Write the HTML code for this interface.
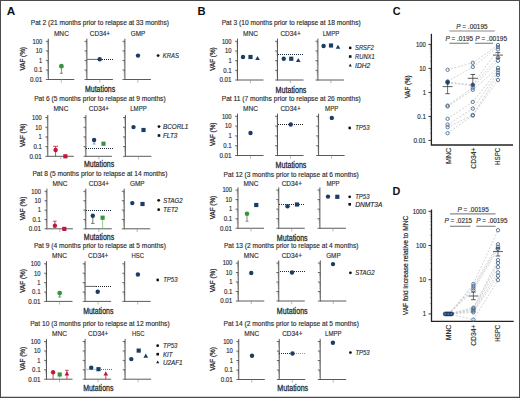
<!DOCTYPE html>
<html><head><meta charset="utf-8"><style>
html,body{margin:0;padding:0;background:#fff;}
svg{display:block;}
text{font-family:"Liberation Sans",sans-serif;}
</style></head><body>
<svg width="520" height="398" viewBox="0 0 520 398">
<rect width="520" height="398" fill="#fff"/>
<rect x="0.5" y="0.5" width="519" height="397" fill="none" stroke="#4a4a4a" stroke-width="1"/>
<line x1="0.00" y1="397.30" x2="520.00" y2="397.30" stroke="#4a4a4a" stroke-width="1.2"/>
<text x="6.80" y="15.20" font-size="10.8" fill="#111" textLength="8.5" lengthAdjust="spacingAndGlyphs" font-weight="bold">A</text>
<text x="197.40" y="15.20" font-size="10.8" fill="#111" textLength="8.1" lengthAdjust="spacingAndGlyphs" font-weight="bold">B</text>
<text x="392.80" y="15.20" font-size="10.8" fill="#111" textLength="7.8" lengthAdjust="spacingAndGlyphs" font-weight="bold">C</text>
<text x="392.40" y="194.80" font-size="10.8" fill="#111" textLength="7.8" lengthAdjust="spacingAndGlyphs" font-weight="bold">D</text>
<!-- Pat 2 (21 months prior to relapse at 33 months) -->
<text x="99.90" y="25.20" font-size="6.8" fill="#2b2b2b" text-anchor="middle" textLength="138.2" lengthAdjust="spacingAndGlyphs" stroke="#2b2b2b" stroke-width="0.14">Pat 2 (21 months prior to relapse at 33 months)</text>
<text x="61.40" y="35.80" font-size="7.0" fill="#2b2b2b" text-anchor="middle" textLength="15" lengthAdjust="spacingAndGlyphs" stroke="#2b2b2b" stroke-width="0.14">MNC</text>
<line x1="48.30" y1="38.70" x2="48.30" y2="80.00" stroke="#484848" stroke-width="0.9"/>
<line x1="48.30" y1="79.50" x2="74.30" y2="79.50" stroke="#484848" stroke-width="0.9"/>
<line x1="45.90" y1="41.30" x2="48.30" y2="41.30" stroke="#484848" stroke-width="0.8"/>
<line x1="45.90" y1="50.85" x2="48.30" y2="50.85" stroke="#484848" stroke-width="0.8"/>
<line x1="45.90" y1="60.40" x2="48.30" y2="60.40" stroke="#484848" stroke-width="0.8"/>
<line x1="45.90" y1="69.95" x2="48.30" y2="69.95" stroke="#484848" stroke-width="0.8"/>
<line x1="45.90" y1="79.50" x2="48.30" y2="79.50" stroke="#484848" stroke-width="0.8"/>
<line x1="47.10" y1="47.98" x2="48.30" y2="47.98" stroke="#484848" stroke-width="0.4" stroke-opacity="0.6"/>
<line x1="47.10" y1="46.29" x2="48.30" y2="46.29" stroke="#484848" stroke-width="0.4" stroke-opacity="0.6"/>
<line x1="47.10" y1="45.10" x2="48.30" y2="45.10" stroke="#484848" stroke-width="0.4" stroke-opacity="0.6"/>
<line x1="47.10" y1="44.17" x2="48.30" y2="44.17" stroke="#484848" stroke-width="0.4" stroke-opacity="0.6"/>
<line x1="47.10" y1="43.42" x2="48.30" y2="43.42" stroke="#484848" stroke-width="0.4" stroke-opacity="0.6"/>
<line x1="47.10" y1="42.78" x2="48.30" y2="42.78" stroke="#484848" stroke-width="0.4" stroke-opacity="0.6"/>
<line x1="47.10" y1="42.23" x2="48.30" y2="42.23" stroke="#484848" stroke-width="0.4" stroke-opacity="0.6"/>
<line x1="47.10" y1="41.74" x2="48.30" y2="41.74" stroke="#484848" stroke-width="0.4" stroke-opacity="0.6"/>
<line x1="47.10" y1="57.53" x2="48.30" y2="57.53" stroke="#484848" stroke-width="0.4" stroke-opacity="0.6"/>
<line x1="47.10" y1="55.84" x2="48.30" y2="55.84" stroke="#484848" stroke-width="0.4" stroke-opacity="0.6"/>
<line x1="47.10" y1="54.65" x2="48.30" y2="54.65" stroke="#484848" stroke-width="0.4" stroke-opacity="0.6"/>
<line x1="47.10" y1="53.72" x2="48.30" y2="53.72" stroke="#484848" stroke-width="0.4" stroke-opacity="0.6"/>
<line x1="47.10" y1="52.97" x2="48.30" y2="52.97" stroke="#484848" stroke-width="0.4" stroke-opacity="0.6"/>
<line x1="47.10" y1="52.33" x2="48.30" y2="52.33" stroke="#484848" stroke-width="0.4" stroke-opacity="0.6"/>
<line x1="47.10" y1="51.78" x2="48.30" y2="51.78" stroke="#484848" stroke-width="0.4" stroke-opacity="0.6"/>
<line x1="47.10" y1="51.29" x2="48.30" y2="51.29" stroke="#484848" stroke-width="0.4" stroke-opacity="0.6"/>
<line x1="47.10" y1="67.08" x2="48.30" y2="67.08" stroke="#484848" stroke-width="0.4" stroke-opacity="0.6"/>
<line x1="47.10" y1="65.39" x2="48.30" y2="65.39" stroke="#484848" stroke-width="0.4" stroke-opacity="0.6"/>
<line x1="47.10" y1="64.20" x2="48.30" y2="64.20" stroke="#484848" stroke-width="0.4" stroke-opacity="0.6"/>
<line x1="47.10" y1="63.27" x2="48.30" y2="63.27" stroke="#484848" stroke-width="0.4" stroke-opacity="0.6"/>
<line x1="47.10" y1="62.52" x2="48.30" y2="62.52" stroke="#484848" stroke-width="0.4" stroke-opacity="0.6"/>
<line x1="47.10" y1="61.88" x2="48.30" y2="61.88" stroke="#484848" stroke-width="0.4" stroke-opacity="0.6"/>
<line x1="47.10" y1="61.33" x2="48.30" y2="61.33" stroke="#484848" stroke-width="0.4" stroke-opacity="0.6"/>
<line x1="47.10" y1="60.84" x2="48.30" y2="60.84" stroke="#484848" stroke-width="0.4" stroke-opacity="0.6"/>
<line x1="47.10" y1="76.63" x2="48.30" y2="76.63" stroke="#484848" stroke-width="0.4" stroke-opacity="0.6"/>
<line x1="47.10" y1="74.94" x2="48.30" y2="74.94" stroke="#484848" stroke-width="0.4" stroke-opacity="0.6"/>
<line x1="47.10" y1="73.75" x2="48.30" y2="73.75" stroke="#484848" stroke-width="0.4" stroke-opacity="0.6"/>
<line x1="47.10" y1="72.82" x2="48.30" y2="72.82" stroke="#484848" stroke-width="0.4" stroke-opacity="0.6"/>
<line x1="47.10" y1="72.07" x2="48.30" y2="72.07" stroke="#484848" stroke-width="0.4" stroke-opacity="0.6"/>
<line x1="47.10" y1="71.43" x2="48.30" y2="71.43" stroke="#484848" stroke-width="0.4" stroke-opacity="0.6"/>
<line x1="47.10" y1="70.88" x2="48.30" y2="70.88" stroke="#484848" stroke-width="0.4" stroke-opacity="0.6"/>
<line x1="47.10" y1="70.39" x2="48.30" y2="70.39" stroke="#484848" stroke-width="0.4" stroke-opacity="0.6"/>
<line x1="61.30" y1="79.50" x2="61.30" y2="82.70" stroke="#8a8a8a" stroke-width="0.6"/>
<text x="100.00" y="35.80" font-size="7.0" fill="#2b2b2b" text-anchor="middle" textLength="20.3" lengthAdjust="spacingAndGlyphs" stroke="#2b2b2b" stroke-width="0.14">CD34+</text>
<line x1="86.90" y1="38.70" x2="86.90" y2="80.00" stroke="#484848" stroke-width="0.9"/>
<line x1="86.90" y1="79.50" x2="112.90" y2="79.50" stroke="#484848" stroke-width="0.9"/>
<line x1="84.50" y1="41.30" x2="86.90" y2="41.30" stroke="#484848" stroke-width="0.8"/>
<line x1="84.50" y1="50.85" x2="86.90" y2="50.85" stroke="#484848" stroke-width="0.8"/>
<line x1="84.50" y1="60.40" x2="86.90" y2="60.40" stroke="#484848" stroke-width="0.8"/>
<line x1="84.50" y1="69.95" x2="86.90" y2="69.95" stroke="#484848" stroke-width="0.8"/>
<line x1="84.50" y1="79.50" x2="86.90" y2="79.50" stroke="#484848" stroke-width="0.8"/>
<line x1="85.70" y1="47.98" x2="86.90" y2="47.98" stroke="#484848" stroke-width="0.4" stroke-opacity="0.6"/>
<line x1="85.70" y1="46.29" x2="86.90" y2="46.29" stroke="#484848" stroke-width="0.4" stroke-opacity="0.6"/>
<line x1="85.70" y1="45.10" x2="86.90" y2="45.10" stroke="#484848" stroke-width="0.4" stroke-opacity="0.6"/>
<line x1="85.70" y1="44.17" x2="86.90" y2="44.17" stroke="#484848" stroke-width="0.4" stroke-opacity="0.6"/>
<line x1="85.70" y1="43.42" x2="86.90" y2="43.42" stroke="#484848" stroke-width="0.4" stroke-opacity="0.6"/>
<line x1="85.70" y1="42.78" x2="86.90" y2="42.78" stroke="#484848" stroke-width="0.4" stroke-opacity="0.6"/>
<line x1="85.70" y1="42.23" x2="86.90" y2="42.23" stroke="#484848" stroke-width="0.4" stroke-opacity="0.6"/>
<line x1="85.70" y1="41.74" x2="86.90" y2="41.74" stroke="#484848" stroke-width="0.4" stroke-opacity="0.6"/>
<line x1="85.70" y1="57.53" x2="86.90" y2="57.53" stroke="#484848" stroke-width="0.4" stroke-opacity="0.6"/>
<line x1="85.70" y1="55.84" x2="86.90" y2="55.84" stroke="#484848" stroke-width="0.4" stroke-opacity="0.6"/>
<line x1="85.70" y1="54.65" x2="86.90" y2="54.65" stroke="#484848" stroke-width="0.4" stroke-opacity="0.6"/>
<line x1="85.70" y1="53.72" x2="86.90" y2="53.72" stroke="#484848" stroke-width="0.4" stroke-opacity="0.6"/>
<line x1="85.70" y1="52.97" x2="86.90" y2="52.97" stroke="#484848" stroke-width="0.4" stroke-opacity="0.6"/>
<line x1="85.70" y1="52.33" x2="86.90" y2="52.33" stroke="#484848" stroke-width="0.4" stroke-opacity="0.6"/>
<line x1="85.70" y1="51.78" x2="86.90" y2="51.78" stroke="#484848" stroke-width="0.4" stroke-opacity="0.6"/>
<line x1="85.70" y1="51.29" x2="86.90" y2="51.29" stroke="#484848" stroke-width="0.4" stroke-opacity="0.6"/>
<line x1="85.70" y1="67.08" x2="86.90" y2="67.08" stroke="#484848" stroke-width="0.4" stroke-opacity="0.6"/>
<line x1="85.70" y1="65.39" x2="86.90" y2="65.39" stroke="#484848" stroke-width="0.4" stroke-opacity="0.6"/>
<line x1="85.70" y1="64.20" x2="86.90" y2="64.20" stroke="#484848" stroke-width="0.4" stroke-opacity="0.6"/>
<line x1="85.70" y1="63.27" x2="86.90" y2="63.27" stroke="#484848" stroke-width="0.4" stroke-opacity="0.6"/>
<line x1="85.70" y1="62.52" x2="86.90" y2="62.52" stroke="#484848" stroke-width="0.4" stroke-opacity="0.6"/>
<line x1="85.70" y1="61.88" x2="86.90" y2="61.88" stroke="#484848" stroke-width="0.4" stroke-opacity="0.6"/>
<line x1="85.70" y1="61.33" x2="86.90" y2="61.33" stroke="#484848" stroke-width="0.4" stroke-opacity="0.6"/>
<line x1="85.70" y1="60.84" x2="86.90" y2="60.84" stroke="#484848" stroke-width="0.4" stroke-opacity="0.6"/>
<line x1="85.70" y1="76.63" x2="86.90" y2="76.63" stroke="#484848" stroke-width="0.4" stroke-opacity="0.6"/>
<line x1="85.70" y1="74.94" x2="86.90" y2="74.94" stroke="#484848" stroke-width="0.4" stroke-opacity="0.6"/>
<line x1="85.70" y1="73.75" x2="86.90" y2="73.75" stroke="#484848" stroke-width="0.4" stroke-opacity="0.6"/>
<line x1="85.70" y1="72.82" x2="86.90" y2="72.82" stroke="#484848" stroke-width="0.4" stroke-opacity="0.6"/>
<line x1="85.70" y1="72.07" x2="86.90" y2="72.07" stroke="#484848" stroke-width="0.4" stroke-opacity="0.6"/>
<line x1="85.70" y1="71.43" x2="86.90" y2="71.43" stroke="#484848" stroke-width="0.4" stroke-opacity="0.6"/>
<line x1="85.70" y1="70.88" x2="86.90" y2="70.88" stroke="#484848" stroke-width="0.4" stroke-opacity="0.6"/>
<line x1="85.70" y1="70.39" x2="86.90" y2="70.39" stroke="#484848" stroke-width="0.4" stroke-opacity="0.6"/>
<line x1="99.90" y1="79.50" x2="99.90" y2="82.70" stroke="#8a8a8a" stroke-width="0.6"/>
<text x="138.00" y="35.80" font-size="7.0" fill="#2b2b2b" text-anchor="middle" textLength="14.5" lengthAdjust="spacingAndGlyphs" stroke="#2b2b2b" stroke-width="0.14">GMP</text>
<line x1="124.90" y1="38.70" x2="124.90" y2="80.00" stroke="#484848" stroke-width="0.9"/>
<line x1="124.90" y1="79.50" x2="150.90" y2="79.50" stroke="#484848" stroke-width="0.9"/>
<line x1="122.50" y1="41.30" x2="124.90" y2="41.30" stroke="#484848" stroke-width="0.8"/>
<line x1="122.50" y1="50.85" x2="124.90" y2="50.85" stroke="#484848" stroke-width="0.8"/>
<line x1="122.50" y1="60.40" x2="124.90" y2="60.40" stroke="#484848" stroke-width="0.8"/>
<line x1="122.50" y1="69.95" x2="124.90" y2="69.95" stroke="#484848" stroke-width="0.8"/>
<line x1="122.50" y1="79.50" x2="124.90" y2="79.50" stroke="#484848" stroke-width="0.8"/>
<line x1="123.70" y1="47.98" x2="124.90" y2="47.98" stroke="#484848" stroke-width="0.4" stroke-opacity="0.6"/>
<line x1="123.70" y1="46.29" x2="124.90" y2="46.29" stroke="#484848" stroke-width="0.4" stroke-opacity="0.6"/>
<line x1="123.70" y1="45.10" x2="124.90" y2="45.10" stroke="#484848" stroke-width="0.4" stroke-opacity="0.6"/>
<line x1="123.70" y1="44.17" x2="124.90" y2="44.17" stroke="#484848" stroke-width="0.4" stroke-opacity="0.6"/>
<line x1="123.70" y1="43.42" x2="124.90" y2="43.42" stroke="#484848" stroke-width="0.4" stroke-opacity="0.6"/>
<line x1="123.70" y1="42.78" x2="124.90" y2="42.78" stroke="#484848" stroke-width="0.4" stroke-opacity="0.6"/>
<line x1="123.70" y1="42.23" x2="124.90" y2="42.23" stroke="#484848" stroke-width="0.4" stroke-opacity="0.6"/>
<line x1="123.70" y1="41.74" x2="124.90" y2="41.74" stroke="#484848" stroke-width="0.4" stroke-opacity="0.6"/>
<line x1="123.70" y1="57.53" x2="124.90" y2="57.53" stroke="#484848" stroke-width="0.4" stroke-opacity="0.6"/>
<line x1="123.70" y1="55.84" x2="124.90" y2="55.84" stroke="#484848" stroke-width="0.4" stroke-opacity="0.6"/>
<line x1="123.70" y1="54.65" x2="124.90" y2="54.65" stroke="#484848" stroke-width="0.4" stroke-opacity="0.6"/>
<line x1="123.70" y1="53.72" x2="124.90" y2="53.72" stroke="#484848" stroke-width="0.4" stroke-opacity="0.6"/>
<line x1="123.70" y1="52.97" x2="124.90" y2="52.97" stroke="#484848" stroke-width="0.4" stroke-opacity="0.6"/>
<line x1="123.70" y1="52.33" x2="124.90" y2="52.33" stroke="#484848" stroke-width="0.4" stroke-opacity="0.6"/>
<line x1="123.70" y1="51.78" x2="124.90" y2="51.78" stroke="#484848" stroke-width="0.4" stroke-opacity="0.6"/>
<line x1="123.70" y1="51.29" x2="124.90" y2="51.29" stroke="#484848" stroke-width="0.4" stroke-opacity="0.6"/>
<line x1="123.70" y1="67.08" x2="124.90" y2="67.08" stroke="#484848" stroke-width="0.4" stroke-opacity="0.6"/>
<line x1="123.70" y1="65.39" x2="124.90" y2="65.39" stroke="#484848" stroke-width="0.4" stroke-opacity="0.6"/>
<line x1="123.70" y1="64.20" x2="124.90" y2="64.20" stroke="#484848" stroke-width="0.4" stroke-opacity="0.6"/>
<line x1="123.70" y1="63.27" x2="124.90" y2="63.27" stroke="#484848" stroke-width="0.4" stroke-opacity="0.6"/>
<line x1="123.70" y1="62.52" x2="124.90" y2="62.52" stroke="#484848" stroke-width="0.4" stroke-opacity="0.6"/>
<line x1="123.70" y1="61.88" x2="124.90" y2="61.88" stroke="#484848" stroke-width="0.4" stroke-opacity="0.6"/>
<line x1="123.70" y1="61.33" x2="124.90" y2="61.33" stroke="#484848" stroke-width="0.4" stroke-opacity="0.6"/>
<line x1="123.70" y1="60.84" x2="124.90" y2="60.84" stroke="#484848" stroke-width="0.4" stroke-opacity="0.6"/>
<line x1="123.70" y1="76.63" x2="124.90" y2="76.63" stroke="#484848" stroke-width="0.4" stroke-opacity="0.6"/>
<line x1="123.70" y1="74.94" x2="124.90" y2="74.94" stroke="#484848" stroke-width="0.4" stroke-opacity="0.6"/>
<line x1="123.70" y1="73.75" x2="124.90" y2="73.75" stroke="#484848" stroke-width="0.4" stroke-opacity="0.6"/>
<line x1="123.70" y1="72.82" x2="124.90" y2="72.82" stroke="#484848" stroke-width="0.4" stroke-opacity="0.6"/>
<line x1="123.70" y1="72.07" x2="124.90" y2="72.07" stroke="#484848" stroke-width="0.4" stroke-opacity="0.6"/>
<line x1="123.70" y1="71.43" x2="124.90" y2="71.43" stroke="#484848" stroke-width="0.4" stroke-opacity="0.6"/>
<line x1="123.70" y1="70.88" x2="124.90" y2="70.88" stroke="#484848" stroke-width="0.4" stroke-opacity="0.6"/>
<line x1="123.70" y1="70.39" x2="124.90" y2="70.39" stroke="#484848" stroke-width="0.4" stroke-opacity="0.6"/>
<line x1="137.90" y1="79.50" x2="137.90" y2="82.70" stroke="#8a8a8a" stroke-width="0.6"/>
<text x="42.30" y="43.60" font-size="6.5" fill="#2b2b2b" text-anchor="end" textLength="9.7" lengthAdjust="spacingAndGlyphs" stroke="#2b2b2b" stroke-width="0.14">100</text>
<text x="42.30" y="53.15" font-size="6.5" fill="#2b2b2b" text-anchor="end" textLength="6.5" lengthAdjust="spacingAndGlyphs" stroke="#2b2b2b" stroke-width="0.14">10</text>
<text x="42.30" y="62.70" font-size="6.5" fill="#2b2b2b" text-anchor="end" textLength="3.2" lengthAdjust="spacingAndGlyphs" stroke="#2b2b2b" stroke-width="0.14">1</text>
<text x="42.30" y="72.25" font-size="6.5" fill="#2b2b2b" text-anchor="end" textLength="8.4" lengthAdjust="spacingAndGlyphs" stroke="#2b2b2b" stroke-width="0.14">0.1</text>
<text x="42.30" y="81.80" font-size="6.5" fill="#2b2b2b" text-anchor="end" textLength="12.2" lengthAdjust="spacingAndGlyphs" stroke="#2b2b2b" stroke-width="0.14">0.01</text>
<text x="25.30" y="58.80" font-size="7.4" fill="#2b2b2b" text-anchor="middle" textLength="23.5" lengthAdjust="spacingAndGlyphs" transform="rotate(-90 25.30 58.80)" stroke="#2b2b2b" stroke-width="0.25">VAF (%)</text>
<text x="100.10" y="92.40" font-size="8.8" fill="#2b2b2b" text-anchor="middle" textLength="30.3" lengthAdjust="spacingAndGlyphs" stroke="#2b2b2b" stroke-width="0.3">Mutations</text>
<!-- Pat 6 (5 months prior to relapse at 9 months) -->
<text x="99.90" y="101.00" font-size="6.8" fill="#2b2b2b" text-anchor="middle" textLength="131.5" lengthAdjust="spacingAndGlyphs" stroke="#2b2b2b" stroke-width="0.14">Pat 6 (5 months prior to relapse at 9 months)</text>
<text x="60.90" y="110.90" font-size="7.0" fill="#2b2b2b" text-anchor="middle" textLength="15" lengthAdjust="spacingAndGlyphs" stroke="#2b2b2b" stroke-width="0.14">MNC</text>
<line x1="47.80" y1="114.90" x2="47.80" y2="156.80" stroke="#484848" stroke-width="0.9"/>
<line x1="47.80" y1="156.30" x2="73.80" y2="156.30" stroke="#484848" stroke-width="0.9"/>
<line x1="45.40" y1="117.50" x2="47.80" y2="117.50" stroke="#484848" stroke-width="0.8"/>
<line x1="45.40" y1="127.20" x2="47.80" y2="127.20" stroke="#484848" stroke-width="0.8"/>
<line x1="45.40" y1="136.90" x2="47.80" y2="136.90" stroke="#484848" stroke-width="0.8"/>
<line x1="45.40" y1="146.60" x2="47.80" y2="146.60" stroke="#484848" stroke-width="0.8"/>
<line x1="45.40" y1="156.30" x2="47.80" y2="156.30" stroke="#484848" stroke-width="0.8"/>
<line x1="46.60" y1="124.28" x2="47.80" y2="124.28" stroke="#484848" stroke-width="0.4" stroke-opacity="0.6"/>
<line x1="46.60" y1="122.57" x2="47.80" y2="122.57" stroke="#484848" stroke-width="0.4" stroke-opacity="0.6"/>
<line x1="46.60" y1="121.36" x2="47.80" y2="121.36" stroke="#484848" stroke-width="0.4" stroke-opacity="0.6"/>
<line x1="46.60" y1="120.42" x2="47.80" y2="120.42" stroke="#484848" stroke-width="0.4" stroke-opacity="0.6"/>
<line x1="46.60" y1="119.65" x2="47.80" y2="119.65" stroke="#484848" stroke-width="0.4" stroke-opacity="0.6"/>
<line x1="46.60" y1="119.00" x2="47.80" y2="119.00" stroke="#484848" stroke-width="0.4" stroke-opacity="0.6"/>
<line x1="46.60" y1="118.44" x2="47.80" y2="118.44" stroke="#484848" stroke-width="0.4" stroke-opacity="0.6"/>
<line x1="46.60" y1="117.94" x2="47.80" y2="117.94" stroke="#484848" stroke-width="0.4" stroke-opacity="0.6"/>
<line x1="46.60" y1="133.98" x2="47.80" y2="133.98" stroke="#484848" stroke-width="0.4" stroke-opacity="0.6"/>
<line x1="46.60" y1="132.27" x2="47.80" y2="132.27" stroke="#484848" stroke-width="0.4" stroke-opacity="0.6"/>
<line x1="46.60" y1="131.06" x2="47.80" y2="131.06" stroke="#484848" stroke-width="0.4" stroke-opacity="0.6"/>
<line x1="46.60" y1="130.12" x2="47.80" y2="130.12" stroke="#484848" stroke-width="0.4" stroke-opacity="0.6"/>
<line x1="46.60" y1="129.35" x2="47.80" y2="129.35" stroke="#484848" stroke-width="0.4" stroke-opacity="0.6"/>
<line x1="46.60" y1="128.70" x2="47.80" y2="128.70" stroke="#484848" stroke-width="0.4" stroke-opacity="0.6"/>
<line x1="46.60" y1="128.14" x2="47.80" y2="128.14" stroke="#484848" stroke-width="0.4" stroke-opacity="0.6"/>
<line x1="46.60" y1="127.64" x2="47.80" y2="127.64" stroke="#484848" stroke-width="0.4" stroke-opacity="0.6"/>
<line x1="46.60" y1="143.68" x2="47.80" y2="143.68" stroke="#484848" stroke-width="0.4" stroke-opacity="0.6"/>
<line x1="46.60" y1="141.97" x2="47.80" y2="141.97" stroke="#484848" stroke-width="0.4" stroke-opacity="0.6"/>
<line x1="46.60" y1="140.76" x2="47.80" y2="140.76" stroke="#484848" stroke-width="0.4" stroke-opacity="0.6"/>
<line x1="46.60" y1="139.82" x2="47.80" y2="139.82" stroke="#484848" stroke-width="0.4" stroke-opacity="0.6"/>
<line x1="46.60" y1="139.05" x2="47.80" y2="139.05" stroke="#484848" stroke-width="0.4" stroke-opacity="0.6"/>
<line x1="46.60" y1="138.40" x2="47.80" y2="138.40" stroke="#484848" stroke-width="0.4" stroke-opacity="0.6"/>
<line x1="46.60" y1="137.84" x2="47.80" y2="137.84" stroke="#484848" stroke-width="0.4" stroke-opacity="0.6"/>
<line x1="46.60" y1="137.34" x2="47.80" y2="137.34" stroke="#484848" stroke-width="0.4" stroke-opacity="0.6"/>
<line x1="46.60" y1="153.38" x2="47.80" y2="153.38" stroke="#484848" stroke-width="0.4" stroke-opacity="0.6"/>
<line x1="46.60" y1="151.67" x2="47.80" y2="151.67" stroke="#484848" stroke-width="0.4" stroke-opacity="0.6"/>
<line x1="46.60" y1="150.46" x2="47.80" y2="150.46" stroke="#484848" stroke-width="0.4" stroke-opacity="0.6"/>
<line x1="46.60" y1="149.52" x2="47.80" y2="149.52" stroke="#484848" stroke-width="0.4" stroke-opacity="0.6"/>
<line x1="46.60" y1="148.75" x2="47.80" y2="148.75" stroke="#484848" stroke-width="0.4" stroke-opacity="0.6"/>
<line x1="46.60" y1="148.10" x2="47.80" y2="148.10" stroke="#484848" stroke-width="0.4" stroke-opacity="0.6"/>
<line x1="46.60" y1="147.54" x2="47.80" y2="147.54" stroke="#484848" stroke-width="0.4" stroke-opacity="0.6"/>
<line x1="46.60" y1="147.04" x2="47.80" y2="147.04" stroke="#484848" stroke-width="0.4" stroke-opacity="0.6"/>
<line x1="60.80" y1="156.30" x2="60.80" y2="159.50" stroke="#8a8a8a" stroke-width="0.6"/>
<text x="99.00" y="110.90" font-size="7.0" fill="#2b2b2b" text-anchor="middle" textLength="20.3" lengthAdjust="spacingAndGlyphs" stroke="#2b2b2b" stroke-width="0.14">CD34+</text>
<line x1="85.90" y1="114.90" x2="85.90" y2="156.80" stroke="#484848" stroke-width="0.9"/>
<line x1="85.90" y1="156.30" x2="111.90" y2="156.30" stroke="#484848" stroke-width="0.9"/>
<line x1="83.50" y1="117.50" x2="85.90" y2="117.50" stroke="#484848" stroke-width="0.8"/>
<line x1="83.50" y1="127.20" x2="85.90" y2="127.20" stroke="#484848" stroke-width="0.8"/>
<line x1="83.50" y1="136.90" x2="85.90" y2="136.90" stroke="#484848" stroke-width="0.8"/>
<line x1="83.50" y1="146.60" x2="85.90" y2="146.60" stroke="#484848" stroke-width="0.8"/>
<line x1="83.50" y1="156.30" x2="85.90" y2="156.30" stroke="#484848" stroke-width="0.8"/>
<line x1="84.70" y1="124.28" x2="85.90" y2="124.28" stroke="#484848" stroke-width="0.4" stroke-opacity="0.6"/>
<line x1="84.70" y1="122.57" x2="85.90" y2="122.57" stroke="#484848" stroke-width="0.4" stroke-opacity="0.6"/>
<line x1="84.70" y1="121.36" x2="85.90" y2="121.36" stroke="#484848" stroke-width="0.4" stroke-opacity="0.6"/>
<line x1="84.70" y1="120.42" x2="85.90" y2="120.42" stroke="#484848" stroke-width="0.4" stroke-opacity="0.6"/>
<line x1="84.70" y1="119.65" x2="85.90" y2="119.65" stroke="#484848" stroke-width="0.4" stroke-opacity="0.6"/>
<line x1="84.70" y1="119.00" x2="85.90" y2="119.00" stroke="#484848" stroke-width="0.4" stroke-opacity="0.6"/>
<line x1="84.70" y1="118.44" x2="85.90" y2="118.44" stroke="#484848" stroke-width="0.4" stroke-opacity="0.6"/>
<line x1="84.70" y1="117.94" x2="85.90" y2="117.94" stroke="#484848" stroke-width="0.4" stroke-opacity="0.6"/>
<line x1="84.70" y1="133.98" x2="85.90" y2="133.98" stroke="#484848" stroke-width="0.4" stroke-opacity="0.6"/>
<line x1="84.70" y1="132.27" x2="85.90" y2="132.27" stroke="#484848" stroke-width="0.4" stroke-opacity="0.6"/>
<line x1="84.70" y1="131.06" x2="85.90" y2="131.06" stroke="#484848" stroke-width="0.4" stroke-opacity="0.6"/>
<line x1="84.70" y1="130.12" x2="85.90" y2="130.12" stroke="#484848" stroke-width="0.4" stroke-opacity="0.6"/>
<line x1="84.70" y1="129.35" x2="85.90" y2="129.35" stroke="#484848" stroke-width="0.4" stroke-opacity="0.6"/>
<line x1="84.70" y1="128.70" x2="85.90" y2="128.70" stroke="#484848" stroke-width="0.4" stroke-opacity="0.6"/>
<line x1="84.70" y1="128.14" x2="85.90" y2="128.14" stroke="#484848" stroke-width="0.4" stroke-opacity="0.6"/>
<line x1="84.70" y1="127.64" x2="85.90" y2="127.64" stroke="#484848" stroke-width="0.4" stroke-opacity="0.6"/>
<line x1="84.70" y1="143.68" x2="85.90" y2="143.68" stroke="#484848" stroke-width="0.4" stroke-opacity="0.6"/>
<line x1="84.70" y1="141.97" x2="85.90" y2="141.97" stroke="#484848" stroke-width="0.4" stroke-opacity="0.6"/>
<line x1="84.70" y1="140.76" x2="85.90" y2="140.76" stroke="#484848" stroke-width="0.4" stroke-opacity="0.6"/>
<line x1="84.70" y1="139.82" x2="85.90" y2="139.82" stroke="#484848" stroke-width="0.4" stroke-opacity="0.6"/>
<line x1="84.70" y1="139.05" x2="85.90" y2="139.05" stroke="#484848" stroke-width="0.4" stroke-opacity="0.6"/>
<line x1="84.70" y1="138.40" x2="85.90" y2="138.40" stroke="#484848" stroke-width="0.4" stroke-opacity="0.6"/>
<line x1="84.70" y1="137.84" x2="85.90" y2="137.84" stroke="#484848" stroke-width="0.4" stroke-opacity="0.6"/>
<line x1="84.70" y1="137.34" x2="85.90" y2="137.34" stroke="#484848" stroke-width="0.4" stroke-opacity="0.6"/>
<line x1="84.70" y1="153.38" x2="85.90" y2="153.38" stroke="#484848" stroke-width="0.4" stroke-opacity="0.6"/>
<line x1="84.70" y1="151.67" x2="85.90" y2="151.67" stroke="#484848" stroke-width="0.4" stroke-opacity="0.6"/>
<line x1="84.70" y1="150.46" x2="85.90" y2="150.46" stroke="#484848" stroke-width="0.4" stroke-opacity="0.6"/>
<line x1="84.70" y1="149.52" x2="85.90" y2="149.52" stroke="#484848" stroke-width="0.4" stroke-opacity="0.6"/>
<line x1="84.70" y1="148.75" x2="85.90" y2="148.75" stroke="#484848" stroke-width="0.4" stroke-opacity="0.6"/>
<line x1="84.70" y1="148.10" x2="85.90" y2="148.10" stroke="#484848" stroke-width="0.4" stroke-opacity="0.6"/>
<line x1="84.70" y1="147.54" x2="85.90" y2="147.54" stroke="#484848" stroke-width="0.4" stroke-opacity="0.6"/>
<line x1="84.70" y1="147.04" x2="85.90" y2="147.04" stroke="#484848" stroke-width="0.4" stroke-opacity="0.6"/>
<line x1="98.90" y1="156.30" x2="98.90" y2="159.50" stroke="#8a8a8a" stroke-width="0.6"/>
<text x="138.50" y="110.90" font-size="7.0" fill="#2b2b2b" text-anchor="middle" textLength="16.5" lengthAdjust="spacingAndGlyphs" stroke="#2b2b2b" stroke-width="0.14">LMPP</text>
<line x1="125.40" y1="114.90" x2="125.40" y2="156.80" stroke="#484848" stroke-width="0.9"/>
<line x1="125.40" y1="156.30" x2="151.40" y2="156.30" stroke="#484848" stroke-width="0.9"/>
<line x1="123.00" y1="117.50" x2="125.40" y2="117.50" stroke="#484848" stroke-width="0.8"/>
<line x1="123.00" y1="127.20" x2="125.40" y2="127.20" stroke="#484848" stroke-width="0.8"/>
<line x1="123.00" y1="136.90" x2="125.40" y2="136.90" stroke="#484848" stroke-width="0.8"/>
<line x1="123.00" y1="146.60" x2="125.40" y2="146.60" stroke="#484848" stroke-width="0.8"/>
<line x1="123.00" y1="156.30" x2="125.40" y2="156.30" stroke="#484848" stroke-width="0.8"/>
<line x1="124.20" y1="124.28" x2="125.40" y2="124.28" stroke="#484848" stroke-width="0.4" stroke-opacity="0.6"/>
<line x1="124.20" y1="122.57" x2="125.40" y2="122.57" stroke="#484848" stroke-width="0.4" stroke-opacity="0.6"/>
<line x1="124.20" y1="121.36" x2="125.40" y2="121.36" stroke="#484848" stroke-width="0.4" stroke-opacity="0.6"/>
<line x1="124.20" y1="120.42" x2="125.40" y2="120.42" stroke="#484848" stroke-width="0.4" stroke-opacity="0.6"/>
<line x1="124.20" y1="119.65" x2="125.40" y2="119.65" stroke="#484848" stroke-width="0.4" stroke-opacity="0.6"/>
<line x1="124.20" y1="119.00" x2="125.40" y2="119.00" stroke="#484848" stroke-width="0.4" stroke-opacity="0.6"/>
<line x1="124.20" y1="118.44" x2="125.40" y2="118.44" stroke="#484848" stroke-width="0.4" stroke-opacity="0.6"/>
<line x1="124.20" y1="117.94" x2="125.40" y2="117.94" stroke="#484848" stroke-width="0.4" stroke-opacity="0.6"/>
<line x1="124.20" y1="133.98" x2="125.40" y2="133.98" stroke="#484848" stroke-width="0.4" stroke-opacity="0.6"/>
<line x1="124.20" y1="132.27" x2="125.40" y2="132.27" stroke="#484848" stroke-width="0.4" stroke-opacity="0.6"/>
<line x1="124.20" y1="131.06" x2="125.40" y2="131.06" stroke="#484848" stroke-width="0.4" stroke-opacity="0.6"/>
<line x1="124.20" y1="130.12" x2="125.40" y2="130.12" stroke="#484848" stroke-width="0.4" stroke-opacity="0.6"/>
<line x1="124.20" y1="129.35" x2="125.40" y2="129.35" stroke="#484848" stroke-width="0.4" stroke-opacity="0.6"/>
<line x1="124.20" y1="128.70" x2="125.40" y2="128.70" stroke="#484848" stroke-width="0.4" stroke-opacity="0.6"/>
<line x1="124.20" y1="128.14" x2="125.40" y2="128.14" stroke="#484848" stroke-width="0.4" stroke-opacity="0.6"/>
<line x1="124.20" y1="127.64" x2="125.40" y2="127.64" stroke="#484848" stroke-width="0.4" stroke-opacity="0.6"/>
<line x1="124.20" y1="143.68" x2="125.40" y2="143.68" stroke="#484848" stroke-width="0.4" stroke-opacity="0.6"/>
<line x1="124.20" y1="141.97" x2="125.40" y2="141.97" stroke="#484848" stroke-width="0.4" stroke-opacity="0.6"/>
<line x1="124.20" y1="140.76" x2="125.40" y2="140.76" stroke="#484848" stroke-width="0.4" stroke-opacity="0.6"/>
<line x1="124.20" y1="139.82" x2="125.40" y2="139.82" stroke="#484848" stroke-width="0.4" stroke-opacity="0.6"/>
<line x1="124.20" y1="139.05" x2="125.40" y2="139.05" stroke="#484848" stroke-width="0.4" stroke-opacity="0.6"/>
<line x1="124.20" y1="138.40" x2="125.40" y2="138.40" stroke="#484848" stroke-width="0.4" stroke-opacity="0.6"/>
<line x1="124.20" y1="137.84" x2="125.40" y2="137.84" stroke="#484848" stroke-width="0.4" stroke-opacity="0.6"/>
<line x1="124.20" y1="137.34" x2="125.40" y2="137.34" stroke="#484848" stroke-width="0.4" stroke-opacity="0.6"/>
<line x1="124.20" y1="153.38" x2="125.40" y2="153.38" stroke="#484848" stroke-width="0.4" stroke-opacity="0.6"/>
<line x1="124.20" y1="151.67" x2="125.40" y2="151.67" stroke="#484848" stroke-width="0.4" stroke-opacity="0.6"/>
<line x1="124.20" y1="150.46" x2="125.40" y2="150.46" stroke="#484848" stroke-width="0.4" stroke-opacity="0.6"/>
<line x1="124.20" y1="149.52" x2="125.40" y2="149.52" stroke="#484848" stroke-width="0.4" stroke-opacity="0.6"/>
<line x1="124.20" y1="148.75" x2="125.40" y2="148.75" stroke="#484848" stroke-width="0.4" stroke-opacity="0.6"/>
<line x1="124.20" y1="148.10" x2="125.40" y2="148.10" stroke="#484848" stroke-width="0.4" stroke-opacity="0.6"/>
<line x1="124.20" y1="147.54" x2="125.40" y2="147.54" stroke="#484848" stroke-width="0.4" stroke-opacity="0.6"/>
<line x1="124.20" y1="147.04" x2="125.40" y2="147.04" stroke="#484848" stroke-width="0.4" stroke-opacity="0.6"/>
<line x1="138.40" y1="156.30" x2="138.40" y2="159.50" stroke="#8a8a8a" stroke-width="0.6"/>
<text x="41.80" y="119.80" font-size="6.5" fill="#2b2b2b" text-anchor="end" textLength="9.7" lengthAdjust="spacingAndGlyphs" stroke="#2b2b2b" stroke-width="0.14">100</text>
<text x="41.80" y="129.50" font-size="6.5" fill="#2b2b2b" text-anchor="end" textLength="6.5" lengthAdjust="spacingAndGlyphs" stroke="#2b2b2b" stroke-width="0.14">10</text>
<text x="41.80" y="139.20" font-size="6.5" fill="#2b2b2b" text-anchor="end" textLength="3.2" lengthAdjust="spacingAndGlyphs" stroke="#2b2b2b" stroke-width="0.14">1</text>
<text x="41.80" y="148.90" font-size="6.5" fill="#2b2b2b" text-anchor="end" textLength="8.4" lengthAdjust="spacingAndGlyphs" stroke="#2b2b2b" stroke-width="0.14">0.1</text>
<text x="41.80" y="158.60" font-size="6.5" fill="#2b2b2b" text-anchor="end" textLength="12.2" lengthAdjust="spacingAndGlyphs" stroke="#2b2b2b" stroke-width="0.14">0.01</text>
<text x="25.30" y="135.30" font-size="7.4" fill="#2b2b2b" text-anchor="middle" textLength="23.5" lengthAdjust="spacingAndGlyphs" transform="rotate(-90 25.30 135.30)" stroke="#2b2b2b" stroke-width="0.25">VAF (%)</text>
<text x="99.10" y="167.30" font-size="8.8" fill="#2b2b2b" text-anchor="middle" textLength="30.3" lengthAdjust="spacingAndGlyphs" stroke="#2b2b2b" stroke-width="0.3">Mutations</text>
<!-- Pat 8 (5 months prior to relapse at 14 months) -->
<text x="99.90" y="176.30" font-size="6.8" fill="#2b2b2b" text-anchor="middle" textLength="135" lengthAdjust="spacingAndGlyphs" stroke="#2b2b2b" stroke-width="0.14">Pat 8 (5 months prior to relapse at 14 months)</text>
<text x="60.00" y="185.50" font-size="7.0" fill="#2b2b2b" text-anchor="middle" textLength="15" lengthAdjust="spacingAndGlyphs" stroke="#2b2b2b" stroke-width="0.14">MNC</text>
<line x1="46.90" y1="188.70" x2="46.90" y2="229.30" stroke="#484848" stroke-width="0.9"/>
<line x1="46.90" y1="228.80" x2="72.90" y2="228.80" stroke="#484848" stroke-width="0.9"/>
<line x1="44.50" y1="191.30" x2="46.90" y2="191.30" stroke="#484848" stroke-width="0.8"/>
<line x1="44.50" y1="200.68" x2="46.90" y2="200.68" stroke="#484848" stroke-width="0.8"/>
<line x1="44.50" y1="210.05" x2="46.90" y2="210.05" stroke="#484848" stroke-width="0.8"/>
<line x1="44.50" y1="219.43" x2="46.90" y2="219.43" stroke="#484848" stroke-width="0.8"/>
<line x1="44.50" y1="228.80" x2="46.90" y2="228.80" stroke="#484848" stroke-width="0.8"/>
<line x1="45.70" y1="197.85" x2="46.90" y2="197.85" stroke="#484848" stroke-width="0.4" stroke-opacity="0.6"/>
<line x1="45.70" y1="196.20" x2="46.90" y2="196.20" stroke="#484848" stroke-width="0.4" stroke-opacity="0.6"/>
<line x1="45.70" y1="195.03" x2="46.90" y2="195.03" stroke="#484848" stroke-width="0.4" stroke-opacity="0.6"/>
<line x1="45.70" y1="194.12" x2="46.90" y2="194.12" stroke="#484848" stroke-width="0.4" stroke-opacity="0.6"/>
<line x1="45.70" y1="193.38" x2="46.90" y2="193.38" stroke="#484848" stroke-width="0.4" stroke-opacity="0.6"/>
<line x1="45.70" y1="192.75" x2="46.90" y2="192.75" stroke="#484848" stroke-width="0.4" stroke-opacity="0.6"/>
<line x1="45.70" y1="192.21" x2="46.90" y2="192.21" stroke="#484848" stroke-width="0.4" stroke-opacity="0.6"/>
<line x1="45.70" y1="191.73" x2="46.90" y2="191.73" stroke="#484848" stroke-width="0.4" stroke-opacity="0.6"/>
<line x1="45.70" y1="207.23" x2="46.90" y2="207.23" stroke="#484848" stroke-width="0.4" stroke-opacity="0.6"/>
<line x1="45.70" y1="205.58" x2="46.90" y2="205.58" stroke="#484848" stroke-width="0.4" stroke-opacity="0.6"/>
<line x1="45.70" y1="204.41" x2="46.90" y2="204.41" stroke="#484848" stroke-width="0.4" stroke-opacity="0.6"/>
<line x1="45.70" y1="203.50" x2="46.90" y2="203.50" stroke="#484848" stroke-width="0.4" stroke-opacity="0.6"/>
<line x1="45.70" y1="202.75" x2="46.90" y2="202.75" stroke="#484848" stroke-width="0.4" stroke-opacity="0.6"/>
<line x1="45.70" y1="202.13" x2="46.90" y2="202.13" stroke="#484848" stroke-width="0.4" stroke-opacity="0.6"/>
<line x1="45.70" y1="201.58" x2="46.90" y2="201.58" stroke="#484848" stroke-width="0.4" stroke-opacity="0.6"/>
<line x1="45.70" y1="201.10" x2="46.90" y2="201.10" stroke="#484848" stroke-width="0.4" stroke-opacity="0.6"/>
<line x1="45.70" y1="216.60" x2="46.90" y2="216.60" stroke="#484848" stroke-width="0.4" stroke-opacity="0.6"/>
<line x1="45.70" y1="214.95" x2="46.90" y2="214.95" stroke="#484848" stroke-width="0.4" stroke-opacity="0.6"/>
<line x1="45.70" y1="213.78" x2="46.90" y2="213.78" stroke="#484848" stroke-width="0.4" stroke-opacity="0.6"/>
<line x1="45.70" y1="212.87" x2="46.90" y2="212.87" stroke="#484848" stroke-width="0.4" stroke-opacity="0.6"/>
<line x1="45.70" y1="212.13" x2="46.90" y2="212.13" stroke="#484848" stroke-width="0.4" stroke-opacity="0.6"/>
<line x1="45.70" y1="211.50" x2="46.90" y2="211.50" stroke="#484848" stroke-width="0.4" stroke-opacity="0.6"/>
<line x1="45.70" y1="210.96" x2="46.90" y2="210.96" stroke="#484848" stroke-width="0.4" stroke-opacity="0.6"/>
<line x1="45.70" y1="210.48" x2="46.90" y2="210.48" stroke="#484848" stroke-width="0.4" stroke-opacity="0.6"/>
<line x1="45.70" y1="225.98" x2="46.90" y2="225.98" stroke="#484848" stroke-width="0.4" stroke-opacity="0.6"/>
<line x1="45.70" y1="224.33" x2="46.90" y2="224.33" stroke="#484848" stroke-width="0.4" stroke-opacity="0.6"/>
<line x1="45.70" y1="223.16" x2="46.90" y2="223.16" stroke="#484848" stroke-width="0.4" stroke-opacity="0.6"/>
<line x1="45.70" y1="222.25" x2="46.90" y2="222.25" stroke="#484848" stroke-width="0.4" stroke-opacity="0.6"/>
<line x1="45.70" y1="221.50" x2="46.90" y2="221.50" stroke="#484848" stroke-width="0.4" stroke-opacity="0.6"/>
<line x1="45.70" y1="220.88" x2="46.90" y2="220.88" stroke="#484848" stroke-width="0.4" stroke-opacity="0.6"/>
<line x1="45.70" y1="220.33" x2="46.90" y2="220.33" stroke="#484848" stroke-width="0.4" stroke-opacity="0.6"/>
<line x1="45.70" y1="219.85" x2="46.90" y2="219.85" stroke="#484848" stroke-width="0.4" stroke-opacity="0.6"/>
<line x1="59.90" y1="228.80" x2="59.90" y2="232.00" stroke="#8a8a8a" stroke-width="0.6"/>
<text x="98.90" y="185.50" font-size="7.0" fill="#2b2b2b" text-anchor="middle" textLength="20.3" lengthAdjust="spacingAndGlyphs" stroke="#2b2b2b" stroke-width="0.14">CD34+</text>
<line x1="85.80" y1="188.70" x2="85.80" y2="229.30" stroke="#484848" stroke-width="0.9"/>
<line x1="85.80" y1="228.80" x2="111.80" y2="228.80" stroke="#484848" stroke-width="0.9"/>
<line x1="83.40" y1="191.30" x2="85.80" y2="191.30" stroke="#484848" stroke-width="0.8"/>
<line x1="83.40" y1="200.68" x2="85.80" y2="200.68" stroke="#484848" stroke-width="0.8"/>
<line x1="83.40" y1="210.05" x2="85.80" y2="210.05" stroke="#484848" stroke-width="0.8"/>
<line x1="83.40" y1="219.43" x2="85.80" y2="219.43" stroke="#484848" stroke-width="0.8"/>
<line x1="83.40" y1="228.80" x2="85.80" y2="228.80" stroke="#484848" stroke-width="0.8"/>
<line x1="84.60" y1="197.85" x2="85.80" y2="197.85" stroke="#484848" stroke-width="0.4" stroke-opacity="0.6"/>
<line x1="84.60" y1="196.20" x2="85.80" y2="196.20" stroke="#484848" stroke-width="0.4" stroke-opacity="0.6"/>
<line x1="84.60" y1="195.03" x2="85.80" y2="195.03" stroke="#484848" stroke-width="0.4" stroke-opacity="0.6"/>
<line x1="84.60" y1="194.12" x2="85.80" y2="194.12" stroke="#484848" stroke-width="0.4" stroke-opacity="0.6"/>
<line x1="84.60" y1="193.38" x2="85.80" y2="193.38" stroke="#484848" stroke-width="0.4" stroke-opacity="0.6"/>
<line x1="84.60" y1="192.75" x2="85.80" y2="192.75" stroke="#484848" stroke-width="0.4" stroke-opacity="0.6"/>
<line x1="84.60" y1="192.21" x2="85.80" y2="192.21" stroke="#484848" stroke-width="0.4" stroke-opacity="0.6"/>
<line x1="84.60" y1="191.73" x2="85.80" y2="191.73" stroke="#484848" stroke-width="0.4" stroke-opacity="0.6"/>
<line x1="84.60" y1="207.23" x2="85.80" y2="207.23" stroke="#484848" stroke-width="0.4" stroke-opacity="0.6"/>
<line x1="84.60" y1="205.58" x2="85.80" y2="205.58" stroke="#484848" stroke-width="0.4" stroke-opacity="0.6"/>
<line x1="84.60" y1="204.41" x2="85.80" y2="204.41" stroke="#484848" stroke-width="0.4" stroke-opacity="0.6"/>
<line x1="84.60" y1="203.50" x2="85.80" y2="203.50" stroke="#484848" stroke-width="0.4" stroke-opacity="0.6"/>
<line x1="84.60" y1="202.75" x2="85.80" y2="202.75" stroke="#484848" stroke-width="0.4" stroke-opacity="0.6"/>
<line x1="84.60" y1="202.13" x2="85.80" y2="202.13" stroke="#484848" stroke-width="0.4" stroke-opacity="0.6"/>
<line x1="84.60" y1="201.58" x2="85.80" y2="201.58" stroke="#484848" stroke-width="0.4" stroke-opacity="0.6"/>
<line x1="84.60" y1="201.10" x2="85.80" y2="201.10" stroke="#484848" stroke-width="0.4" stroke-opacity="0.6"/>
<line x1="84.60" y1="216.60" x2="85.80" y2="216.60" stroke="#484848" stroke-width="0.4" stroke-opacity="0.6"/>
<line x1="84.60" y1="214.95" x2="85.80" y2="214.95" stroke="#484848" stroke-width="0.4" stroke-opacity="0.6"/>
<line x1="84.60" y1="213.78" x2="85.80" y2="213.78" stroke="#484848" stroke-width="0.4" stroke-opacity="0.6"/>
<line x1="84.60" y1="212.87" x2="85.80" y2="212.87" stroke="#484848" stroke-width="0.4" stroke-opacity="0.6"/>
<line x1="84.60" y1="212.13" x2="85.80" y2="212.13" stroke="#484848" stroke-width="0.4" stroke-opacity="0.6"/>
<line x1="84.60" y1="211.50" x2="85.80" y2="211.50" stroke="#484848" stroke-width="0.4" stroke-opacity="0.6"/>
<line x1="84.60" y1="210.96" x2="85.80" y2="210.96" stroke="#484848" stroke-width="0.4" stroke-opacity="0.6"/>
<line x1="84.60" y1="210.48" x2="85.80" y2="210.48" stroke="#484848" stroke-width="0.4" stroke-opacity="0.6"/>
<line x1="84.60" y1="225.98" x2="85.80" y2="225.98" stroke="#484848" stroke-width="0.4" stroke-opacity="0.6"/>
<line x1="84.60" y1="224.33" x2="85.80" y2="224.33" stroke="#484848" stroke-width="0.4" stroke-opacity="0.6"/>
<line x1="84.60" y1="223.16" x2="85.80" y2="223.16" stroke="#484848" stroke-width="0.4" stroke-opacity="0.6"/>
<line x1="84.60" y1="222.25" x2="85.80" y2="222.25" stroke="#484848" stroke-width="0.4" stroke-opacity="0.6"/>
<line x1="84.60" y1="221.50" x2="85.80" y2="221.50" stroke="#484848" stroke-width="0.4" stroke-opacity="0.6"/>
<line x1="84.60" y1="220.88" x2="85.80" y2="220.88" stroke="#484848" stroke-width="0.4" stroke-opacity="0.6"/>
<line x1="84.60" y1="220.33" x2="85.80" y2="220.33" stroke="#484848" stroke-width="0.4" stroke-opacity="0.6"/>
<line x1="84.60" y1="219.85" x2="85.80" y2="219.85" stroke="#484848" stroke-width="0.4" stroke-opacity="0.6"/>
<line x1="98.80" y1="228.80" x2="98.80" y2="232.00" stroke="#8a8a8a" stroke-width="0.6"/>
<text x="137.30" y="185.50" font-size="7.0" fill="#2b2b2b" text-anchor="middle" textLength="14.5" lengthAdjust="spacingAndGlyphs" stroke="#2b2b2b" stroke-width="0.14">GMP</text>
<line x1="124.20" y1="188.70" x2="124.20" y2="229.30" stroke="#484848" stroke-width="0.9"/>
<line x1="124.20" y1="228.80" x2="150.20" y2="228.80" stroke="#484848" stroke-width="0.9"/>
<line x1="121.80" y1="191.30" x2="124.20" y2="191.30" stroke="#484848" stroke-width="0.8"/>
<line x1="121.80" y1="200.68" x2="124.20" y2="200.68" stroke="#484848" stroke-width="0.8"/>
<line x1="121.80" y1="210.05" x2="124.20" y2="210.05" stroke="#484848" stroke-width="0.8"/>
<line x1="121.80" y1="219.43" x2="124.20" y2="219.43" stroke="#484848" stroke-width="0.8"/>
<line x1="121.80" y1="228.80" x2="124.20" y2="228.80" stroke="#484848" stroke-width="0.8"/>
<line x1="123.00" y1="197.85" x2="124.20" y2="197.85" stroke="#484848" stroke-width="0.4" stroke-opacity="0.6"/>
<line x1="123.00" y1="196.20" x2="124.20" y2="196.20" stroke="#484848" stroke-width="0.4" stroke-opacity="0.6"/>
<line x1="123.00" y1="195.03" x2="124.20" y2="195.03" stroke="#484848" stroke-width="0.4" stroke-opacity="0.6"/>
<line x1="123.00" y1="194.12" x2="124.20" y2="194.12" stroke="#484848" stroke-width="0.4" stroke-opacity="0.6"/>
<line x1="123.00" y1="193.38" x2="124.20" y2="193.38" stroke="#484848" stroke-width="0.4" stroke-opacity="0.6"/>
<line x1="123.00" y1="192.75" x2="124.20" y2="192.75" stroke="#484848" stroke-width="0.4" stroke-opacity="0.6"/>
<line x1="123.00" y1="192.21" x2="124.20" y2="192.21" stroke="#484848" stroke-width="0.4" stroke-opacity="0.6"/>
<line x1="123.00" y1="191.73" x2="124.20" y2="191.73" stroke="#484848" stroke-width="0.4" stroke-opacity="0.6"/>
<line x1="123.00" y1="207.23" x2="124.20" y2="207.23" stroke="#484848" stroke-width="0.4" stroke-opacity="0.6"/>
<line x1="123.00" y1="205.58" x2="124.20" y2="205.58" stroke="#484848" stroke-width="0.4" stroke-opacity="0.6"/>
<line x1="123.00" y1="204.41" x2="124.20" y2="204.41" stroke="#484848" stroke-width="0.4" stroke-opacity="0.6"/>
<line x1="123.00" y1="203.50" x2="124.20" y2="203.50" stroke="#484848" stroke-width="0.4" stroke-opacity="0.6"/>
<line x1="123.00" y1="202.75" x2="124.20" y2="202.75" stroke="#484848" stroke-width="0.4" stroke-opacity="0.6"/>
<line x1="123.00" y1="202.13" x2="124.20" y2="202.13" stroke="#484848" stroke-width="0.4" stroke-opacity="0.6"/>
<line x1="123.00" y1="201.58" x2="124.20" y2="201.58" stroke="#484848" stroke-width="0.4" stroke-opacity="0.6"/>
<line x1="123.00" y1="201.10" x2="124.20" y2="201.10" stroke="#484848" stroke-width="0.4" stroke-opacity="0.6"/>
<line x1="123.00" y1="216.60" x2="124.20" y2="216.60" stroke="#484848" stroke-width="0.4" stroke-opacity="0.6"/>
<line x1="123.00" y1="214.95" x2="124.20" y2="214.95" stroke="#484848" stroke-width="0.4" stroke-opacity="0.6"/>
<line x1="123.00" y1="213.78" x2="124.20" y2="213.78" stroke="#484848" stroke-width="0.4" stroke-opacity="0.6"/>
<line x1="123.00" y1="212.87" x2="124.20" y2="212.87" stroke="#484848" stroke-width="0.4" stroke-opacity="0.6"/>
<line x1="123.00" y1="212.13" x2="124.20" y2="212.13" stroke="#484848" stroke-width="0.4" stroke-opacity="0.6"/>
<line x1="123.00" y1="211.50" x2="124.20" y2="211.50" stroke="#484848" stroke-width="0.4" stroke-opacity="0.6"/>
<line x1="123.00" y1="210.96" x2="124.20" y2="210.96" stroke="#484848" stroke-width="0.4" stroke-opacity="0.6"/>
<line x1="123.00" y1="210.48" x2="124.20" y2="210.48" stroke="#484848" stroke-width="0.4" stroke-opacity="0.6"/>
<line x1="123.00" y1="225.98" x2="124.20" y2="225.98" stroke="#484848" stroke-width="0.4" stroke-opacity="0.6"/>
<line x1="123.00" y1="224.33" x2="124.20" y2="224.33" stroke="#484848" stroke-width="0.4" stroke-opacity="0.6"/>
<line x1="123.00" y1="223.16" x2="124.20" y2="223.16" stroke="#484848" stroke-width="0.4" stroke-opacity="0.6"/>
<line x1="123.00" y1="222.25" x2="124.20" y2="222.25" stroke="#484848" stroke-width="0.4" stroke-opacity="0.6"/>
<line x1="123.00" y1="221.50" x2="124.20" y2="221.50" stroke="#484848" stroke-width="0.4" stroke-opacity="0.6"/>
<line x1="123.00" y1="220.88" x2="124.20" y2="220.88" stroke="#484848" stroke-width="0.4" stroke-opacity="0.6"/>
<line x1="123.00" y1="220.33" x2="124.20" y2="220.33" stroke="#484848" stroke-width="0.4" stroke-opacity="0.6"/>
<line x1="123.00" y1="219.85" x2="124.20" y2="219.85" stroke="#484848" stroke-width="0.4" stroke-opacity="0.6"/>
<line x1="137.20" y1="228.80" x2="137.20" y2="232.00" stroke="#8a8a8a" stroke-width="0.6"/>
<text x="40.90" y="193.60" font-size="6.5" fill="#2b2b2b" text-anchor="end" textLength="9.7" lengthAdjust="spacingAndGlyphs" stroke="#2b2b2b" stroke-width="0.14">100</text>
<text x="40.90" y="202.98" font-size="6.5" fill="#2b2b2b" text-anchor="end" textLength="6.5" lengthAdjust="spacingAndGlyphs" stroke="#2b2b2b" stroke-width="0.14">10</text>
<text x="40.90" y="212.35" font-size="6.5" fill="#2b2b2b" text-anchor="end" textLength="3.2" lengthAdjust="spacingAndGlyphs" stroke="#2b2b2b" stroke-width="0.14">1</text>
<text x="40.90" y="221.73" font-size="6.5" fill="#2b2b2b" text-anchor="end" textLength="8.4" lengthAdjust="spacingAndGlyphs" stroke="#2b2b2b" stroke-width="0.14">0.1</text>
<text x="40.90" y="231.10" font-size="6.5" fill="#2b2b2b" text-anchor="end" textLength="12.2" lengthAdjust="spacingAndGlyphs" stroke="#2b2b2b" stroke-width="0.14">0.01</text>
<text x="25.30" y="208.45" font-size="7.4" fill="#2b2b2b" text-anchor="middle" textLength="23.5" lengthAdjust="spacingAndGlyphs" transform="rotate(-90 25.30 208.45)" stroke="#2b2b2b" stroke-width="0.25">VAF (%)</text>
<text x="99.00" y="240.30" font-size="8.8" fill="#2b2b2b" text-anchor="middle" textLength="30.3" lengthAdjust="spacingAndGlyphs" stroke="#2b2b2b" stroke-width="0.3">Mutations</text>
<!-- Pat 9 (4 months prior to relapse at 5 months) -->
<text x="99.90" y="248.00" font-size="6.8" fill="#2b2b2b" text-anchor="middle" textLength="132" lengthAdjust="spacingAndGlyphs" stroke="#2b2b2b" stroke-width="0.14">Pat 9 (4 months prior to relapse at 5 months)</text>
<text x="59.60" y="258.00" font-size="7.0" fill="#2b2b2b" text-anchor="middle" textLength="15" lengthAdjust="spacingAndGlyphs" stroke="#2b2b2b" stroke-width="0.14">MNC</text>
<line x1="46.50" y1="261.20" x2="46.50" y2="301.90" stroke="#484848" stroke-width="0.9"/>
<line x1="46.50" y1="301.40" x2="72.50" y2="301.40" stroke="#484848" stroke-width="0.9"/>
<line x1="44.10" y1="263.80" x2="46.50" y2="263.80" stroke="#484848" stroke-width="0.8"/>
<line x1="44.10" y1="273.20" x2="46.50" y2="273.20" stroke="#484848" stroke-width="0.8"/>
<line x1="44.10" y1="282.60" x2="46.50" y2="282.60" stroke="#484848" stroke-width="0.8"/>
<line x1="44.10" y1="292.00" x2="46.50" y2="292.00" stroke="#484848" stroke-width="0.8"/>
<line x1="44.10" y1="301.40" x2="46.50" y2="301.40" stroke="#484848" stroke-width="0.8"/>
<line x1="45.30" y1="270.37" x2="46.50" y2="270.37" stroke="#484848" stroke-width="0.4" stroke-opacity="0.6"/>
<line x1="45.30" y1="268.72" x2="46.50" y2="268.72" stroke="#484848" stroke-width="0.4" stroke-opacity="0.6"/>
<line x1="45.30" y1="267.54" x2="46.50" y2="267.54" stroke="#484848" stroke-width="0.4" stroke-opacity="0.6"/>
<line x1="45.30" y1="266.63" x2="46.50" y2="266.63" stroke="#484848" stroke-width="0.4" stroke-opacity="0.6"/>
<line x1="45.30" y1="265.89" x2="46.50" y2="265.89" stroke="#484848" stroke-width="0.4" stroke-opacity="0.6"/>
<line x1="45.30" y1="265.26" x2="46.50" y2="265.26" stroke="#484848" stroke-width="0.4" stroke-opacity="0.6"/>
<line x1="45.30" y1="264.71" x2="46.50" y2="264.71" stroke="#484848" stroke-width="0.4" stroke-opacity="0.6"/>
<line x1="45.30" y1="264.23" x2="46.50" y2="264.23" stroke="#484848" stroke-width="0.4" stroke-opacity="0.6"/>
<line x1="45.30" y1="279.77" x2="46.50" y2="279.77" stroke="#484848" stroke-width="0.4" stroke-opacity="0.6"/>
<line x1="45.30" y1="278.12" x2="46.50" y2="278.12" stroke="#484848" stroke-width="0.4" stroke-opacity="0.6"/>
<line x1="45.30" y1="276.94" x2="46.50" y2="276.94" stroke="#484848" stroke-width="0.4" stroke-opacity="0.6"/>
<line x1="45.30" y1="276.03" x2="46.50" y2="276.03" stroke="#484848" stroke-width="0.4" stroke-opacity="0.6"/>
<line x1="45.30" y1="275.29" x2="46.50" y2="275.29" stroke="#484848" stroke-width="0.4" stroke-opacity="0.6"/>
<line x1="45.30" y1="274.66" x2="46.50" y2="274.66" stroke="#484848" stroke-width="0.4" stroke-opacity="0.6"/>
<line x1="45.30" y1="274.11" x2="46.50" y2="274.11" stroke="#484848" stroke-width="0.4" stroke-opacity="0.6"/>
<line x1="45.30" y1="273.63" x2="46.50" y2="273.63" stroke="#484848" stroke-width="0.4" stroke-opacity="0.6"/>
<line x1="45.30" y1="289.17" x2="46.50" y2="289.17" stroke="#484848" stroke-width="0.4" stroke-opacity="0.6"/>
<line x1="45.30" y1="287.52" x2="46.50" y2="287.52" stroke="#484848" stroke-width="0.4" stroke-opacity="0.6"/>
<line x1="45.30" y1="286.34" x2="46.50" y2="286.34" stroke="#484848" stroke-width="0.4" stroke-opacity="0.6"/>
<line x1="45.30" y1="285.43" x2="46.50" y2="285.43" stroke="#484848" stroke-width="0.4" stroke-opacity="0.6"/>
<line x1="45.30" y1="284.69" x2="46.50" y2="284.69" stroke="#484848" stroke-width="0.4" stroke-opacity="0.6"/>
<line x1="45.30" y1="284.06" x2="46.50" y2="284.06" stroke="#484848" stroke-width="0.4" stroke-opacity="0.6"/>
<line x1="45.30" y1="283.51" x2="46.50" y2="283.51" stroke="#484848" stroke-width="0.4" stroke-opacity="0.6"/>
<line x1="45.30" y1="283.03" x2="46.50" y2="283.03" stroke="#484848" stroke-width="0.4" stroke-opacity="0.6"/>
<line x1="45.30" y1="298.57" x2="46.50" y2="298.57" stroke="#484848" stroke-width="0.4" stroke-opacity="0.6"/>
<line x1="45.30" y1="296.92" x2="46.50" y2="296.92" stroke="#484848" stroke-width="0.4" stroke-opacity="0.6"/>
<line x1="45.30" y1="295.74" x2="46.50" y2="295.74" stroke="#484848" stroke-width="0.4" stroke-opacity="0.6"/>
<line x1="45.30" y1="294.83" x2="46.50" y2="294.83" stroke="#484848" stroke-width="0.4" stroke-opacity="0.6"/>
<line x1="45.30" y1="294.09" x2="46.50" y2="294.09" stroke="#484848" stroke-width="0.4" stroke-opacity="0.6"/>
<line x1="45.30" y1="293.46" x2="46.50" y2="293.46" stroke="#484848" stroke-width="0.4" stroke-opacity="0.6"/>
<line x1="45.30" y1="292.91" x2="46.50" y2="292.91" stroke="#484848" stroke-width="0.4" stroke-opacity="0.6"/>
<line x1="45.30" y1="292.43" x2="46.50" y2="292.43" stroke="#484848" stroke-width="0.4" stroke-opacity="0.6"/>
<line x1="59.50" y1="301.40" x2="59.50" y2="304.60" stroke="#8a8a8a" stroke-width="0.6"/>
<text x="98.20" y="258.00" font-size="7.0" fill="#2b2b2b" text-anchor="middle" textLength="20.3" lengthAdjust="spacingAndGlyphs" stroke="#2b2b2b" stroke-width="0.14">CD34+</text>
<line x1="85.10" y1="261.20" x2="85.10" y2="301.90" stroke="#484848" stroke-width="0.9"/>
<line x1="85.10" y1="301.40" x2="111.10" y2="301.40" stroke="#484848" stroke-width="0.9"/>
<line x1="82.70" y1="263.80" x2="85.10" y2="263.80" stroke="#484848" stroke-width="0.8"/>
<line x1="82.70" y1="273.20" x2="85.10" y2="273.20" stroke="#484848" stroke-width="0.8"/>
<line x1="82.70" y1="282.60" x2="85.10" y2="282.60" stroke="#484848" stroke-width="0.8"/>
<line x1="82.70" y1="292.00" x2="85.10" y2="292.00" stroke="#484848" stroke-width="0.8"/>
<line x1="82.70" y1="301.40" x2="85.10" y2="301.40" stroke="#484848" stroke-width="0.8"/>
<line x1="83.90" y1="270.37" x2="85.10" y2="270.37" stroke="#484848" stroke-width="0.4" stroke-opacity="0.6"/>
<line x1="83.90" y1="268.72" x2="85.10" y2="268.72" stroke="#484848" stroke-width="0.4" stroke-opacity="0.6"/>
<line x1="83.90" y1="267.54" x2="85.10" y2="267.54" stroke="#484848" stroke-width="0.4" stroke-opacity="0.6"/>
<line x1="83.90" y1="266.63" x2="85.10" y2="266.63" stroke="#484848" stroke-width="0.4" stroke-opacity="0.6"/>
<line x1="83.90" y1="265.89" x2="85.10" y2="265.89" stroke="#484848" stroke-width="0.4" stroke-opacity="0.6"/>
<line x1="83.90" y1="265.26" x2="85.10" y2="265.26" stroke="#484848" stroke-width="0.4" stroke-opacity="0.6"/>
<line x1="83.90" y1="264.71" x2="85.10" y2="264.71" stroke="#484848" stroke-width="0.4" stroke-opacity="0.6"/>
<line x1="83.90" y1="264.23" x2="85.10" y2="264.23" stroke="#484848" stroke-width="0.4" stroke-opacity="0.6"/>
<line x1="83.90" y1="279.77" x2="85.10" y2="279.77" stroke="#484848" stroke-width="0.4" stroke-opacity="0.6"/>
<line x1="83.90" y1="278.12" x2="85.10" y2="278.12" stroke="#484848" stroke-width="0.4" stroke-opacity="0.6"/>
<line x1="83.90" y1="276.94" x2="85.10" y2="276.94" stroke="#484848" stroke-width="0.4" stroke-opacity="0.6"/>
<line x1="83.90" y1="276.03" x2="85.10" y2="276.03" stroke="#484848" stroke-width="0.4" stroke-opacity="0.6"/>
<line x1="83.90" y1="275.29" x2="85.10" y2="275.29" stroke="#484848" stroke-width="0.4" stroke-opacity="0.6"/>
<line x1="83.90" y1="274.66" x2="85.10" y2="274.66" stroke="#484848" stroke-width="0.4" stroke-opacity="0.6"/>
<line x1="83.90" y1="274.11" x2="85.10" y2="274.11" stroke="#484848" stroke-width="0.4" stroke-opacity="0.6"/>
<line x1="83.90" y1="273.63" x2="85.10" y2="273.63" stroke="#484848" stroke-width="0.4" stroke-opacity="0.6"/>
<line x1="83.90" y1="289.17" x2="85.10" y2="289.17" stroke="#484848" stroke-width="0.4" stroke-opacity="0.6"/>
<line x1="83.90" y1="287.52" x2="85.10" y2="287.52" stroke="#484848" stroke-width="0.4" stroke-opacity="0.6"/>
<line x1="83.90" y1="286.34" x2="85.10" y2="286.34" stroke="#484848" stroke-width="0.4" stroke-opacity="0.6"/>
<line x1="83.90" y1="285.43" x2="85.10" y2="285.43" stroke="#484848" stroke-width="0.4" stroke-opacity="0.6"/>
<line x1="83.90" y1="284.69" x2="85.10" y2="284.69" stroke="#484848" stroke-width="0.4" stroke-opacity="0.6"/>
<line x1="83.90" y1="284.06" x2="85.10" y2="284.06" stroke="#484848" stroke-width="0.4" stroke-opacity="0.6"/>
<line x1="83.90" y1="283.51" x2="85.10" y2="283.51" stroke="#484848" stroke-width="0.4" stroke-opacity="0.6"/>
<line x1="83.90" y1="283.03" x2="85.10" y2="283.03" stroke="#484848" stroke-width="0.4" stroke-opacity="0.6"/>
<line x1="83.90" y1="298.57" x2="85.10" y2="298.57" stroke="#484848" stroke-width="0.4" stroke-opacity="0.6"/>
<line x1="83.90" y1="296.92" x2="85.10" y2="296.92" stroke="#484848" stroke-width="0.4" stroke-opacity="0.6"/>
<line x1="83.90" y1="295.74" x2="85.10" y2="295.74" stroke="#484848" stroke-width="0.4" stroke-opacity="0.6"/>
<line x1="83.90" y1="294.83" x2="85.10" y2="294.83" stroke="#484848" stroke-width="0.4" stroke-opacity="0.6"/>
<line x1="83.90" y1="294.09" x2="85.10" y2="294.09" stroke="#484848" stroke-width="0.4" stroke-opacity="0.6"/>
<line x1="83.90" y1="293.46" x2="85.10" y2="293.46" stroke="#484848" stroke-width="0.4" stroke-opacity="0.6"/>
<line x1="83.90" y1="292.91" x2="85.10" y2="292.91" stroke="#484848" stroke-width="0.4" stroke-opacity="0.6"/>
<line x1="83.90" y1="292.43" x2="85.10" y2="292.43" stroke="#484848" stroke-width="0.4" stroke-opacity="0.6"/>
<line x1="98.10" y1="301.40" x2="98.10" y2="304.60" stroke="#8a8a8a" stroke-width="0.6"/>
<text x="137.80" y="258.00" font-size="7.0" fill="#2b2b2b" text-anchor="middle" textLength="12.5" lengthAdjust="spacingAndGlyphs" stroke="#2b2b2b" stroke-width="0.14">HSC</text>
<line x1="124.70" y1="261.20" x2="124.70" y2="301.90" stroke="#484848" stroke-width="0.9"/>
<line x1="124.70" y1="301.40" x2="150.70" y2="301.40" stroke="#484848" stroke-width="0.9"/>
<line x1="122.30" y1="263.80" x2="124.70" y2="263.80" stroke="#484848" stroke-width="0.8"/>
<line x1="122.30" y1="273.20" x2="124.70" y2="273.20" stroke="#484848" stroke-width="0.8"/>
<line x1="122.30" y1="282.60" x2="124.70" y2="282.60" stroke="#484848" stroke-width="0.8"/>
<line x1="122.30" y1="292.00" x2="124.70" y2="292.00" stroke="#484848" stroke-width="0.8"/>
<line x1="122.30" y1="301.40" x2="124.70" y2="301.40" stroke="#484848" stroke-width="0.8"/>
<line x1="123.50" y1="270.37" x2="124.70" y2="270.37" stroke="#484848" stroke-width="0.4" stroke-opacity="0.6"/>
<line x1="123.50" y1="268.72" x2="124.70" y2="268.72" stroke="#484848" stroke-width="0.4" stroke-opacity="0.6"/>
<line x1="123.50" y1="267.54" x2="124.70" y2="267.54" stroke="#484848" stroke-width="0.4" stroke-opacity="0.6"/>
<line x1="123.50" y1="266.63" x2="124.70" y2="266.63" stroke="#484848" stroke-width="0.4" stroke-opacity="0.6"/>
<line x1="123.50" y1="265.89" x2="124.70" y2="265.89" stroke="#484848" stroke-width="0.4" stroke-opacity="0.6"/>
<line x1="123.50" y1="265.26" x2="124.70" y2="265.26" stroke="#484848" stroke-width="0.4" stroke-opacity="0.6"/>
<line x1="123.50" y1="264.71" x2="124.70" y2="264.71" stroke="#484848" stroke-width="0.4" stroke-opacity="0.6"/>
<line x1="123.50" y1="264.23" x2="124.70" y2="264.23" stroke="#484848" stroke-width="0.4" stroke-opacity="0.6"/>
<line x1="123.50" y1="279.77" x2="124.70" y2="279.77" stroke="#484848" stroke-width="0.4" stroke-opacity="0.6"/>
<line x1="123.50" y1="278.12" x2="124.70" y2="278.12" stroke="#484848" stroke-width="0.4" stroke-opacity="0.6"/>
<line x1="123.50" y1="276.94" x2="124.70" y2="276.94" stroke="#484848" stroke-width="0.4" stroke-opacity="0.6"/>
<line x1="123.50" y1="276.03" x2="124.70" y2="276.03" stroke="#484848" stroke-width="0.4" stroke-opacity="0.6"/>
<line x1="123.50" y1="275.29" x2="124.70" y2="275.29" stroke="#484848" stroke-width="0.4" stroke-opacity="0.6"/>
<line x1="123.50" y1="274.66" x2="124.70" y2="274.66" stroke="#484848" stroke-width="0.4" stroke-opacity="0.6"/>
<line x1="123.50" y1="274.11" x2="124.70" y2="274.11" stroke="#484848" stroke-width="0.4" stroke-opacity="0.6"/>
<line x1="123.50" y1="273.63" x2="124.70" y2="273.63" stroke="#484848" stroke-width="0.4" stroke-opacity="0.6"/>
<line x1="123.50" y1="289.17" x2="124.70" y2="289.17" stroke="#484848" stroke-width="0.4" stroke-opacity="0.6"/>
<line x1="123.50" y1="287.52" x2="124.70" y2="287.52" stroke="#484848" stroke-width="0.4" stroke-opacity="0.6"/>
<line x1="123.50" y1="286.34" x2="124.70" y2="286.34" stroke="#484848" stroke-width="0.4" stroke-opacity="0.6"/>
<line x1="123.50" y1="285.43" x2="124.70" y2="285.43" stroke="#484848" stroke-width="0.4" stroke-opacity="0.6"/>
<line x1="123.50" y1="284.69" x2="124.70" y2="284.69" stroke="#484848" stroke-width="0.4" stroke-opacity="0.6"/>
<line x1="123.50" y1="284.06" x2="124.70" y2="284.06" stroke="#484848" stroke-width="0.4" stroke-opacity="0.6"/>
<line x1="123.50" y1="283.51" x2="124.70" y2="283.51" stroke="#484848" stroke-width="0.4" stroke-opacity="0.6"/>
<line x1="123.50" y1="283.03" x2="124.70" y2="283.03" stroke="#484848" stroke-width="0.4" stroke-opacity="0.6"/>
<line x1="123.50" y1="298.57" x2="124.70" y2="298.57" stroke="#484848" stroke-width="0.4" stroke-opacity="0.6"/>
<line x1="123.50" y1="296.92" x2="124.70" y2="296.92" stroke="#484848" stroke-width="0.4" stroke-opacity="0.6"/>
<line x1="123.50" y1="295.74" x2="124.70" y2="295.74" stroke="#484848" stroke-width="0.4" stroke-opacity="0.6"/>
<line x1="123.50" y1="294.83" x2="124.70" y2="294.83" stroke="#484848" stroke-width="0.4" stroke-opacity="0.6"/>
<line x1="123.50" y1="294.09" x2="124.70" y2="294.09" stroke="#484848" stroke-width="0.4" stroke-opacity="0.6"/>
<line x1="123.50" y1="293.46" x2="124.70" y2="293.46" stroke="#484848" stroke-width="0.4" stroke-opacity="0.6"/>
<line x1="123.50" y1="292.91" x2="124.70" y2="292.91" stroke="#484848" stroke-width="0.4" stroke-opacity="0.6"/>
<line x1="123.50" y1="292.43" x2="124.70" y2="292.43" stroke="#484848" stroke-width="0.4" stroke-opacity="0.6"/>
<line x1="137.70" y1="301.40" x2="137.70" y2="304.60" stroke="#8a8a8a" stroke-width="0.6"/>
<text x="40.50" y="266.10" font-size="6.5" fill="#2b2b2b" text-anchor="end" textLength="9.7" lengthAdjust="spacingAndGlyphs" stroke="#2b2b2b" stroke-width="0.14">100</text>
<text x="40.50" y="275.50" font-size="6.5" fill="#2b2b2b" text-anchor="end" textLength="6.5" lengthAdjust="spacingAndGlyphs" stroke="#2b2b2b" stroke-width="0.14">10</text>
<text x="40.50" y="284.90" font-size="6.5" fill="#2b2b2b" text-anchor="end" textLength="3.2" lengthAdjust="spacingAndGlyphs" stroke="#2b2b2b" stroke-width="0.14">1</text>
<text x="40.50" y="294.30" font-size="6.5" fill="#2b2b2b" text-anchor="end" textLength="8.4" lengthAdjust="spacingAndGlyphs" stroke="#2b2b2b" stroke-width="0.14">0.1</text>
<text x="40.50" y="303.70" font-size="6.5" fill="#2b2b2b" text-anchor="end" textLength="12.2" lengthAdjust="spacingAndGlyphs" stroke="#2b2b2b" stroke-width="0.14">0.01</text>
<text x="25.30" y="281.00" font-size="7.4" fill="#2b2b2b" text-anchor="middle" textLength="23.5" lengthAdjust="spacingAndGlyphs" transform="rotate(-90 25.30 281.00)" stroke="#2b2b2b" stroke-width="0.25">VAF (%)</text>
<text x="98.30" y="314.10" font-size="8.8" fill="#2b2b2b" text-anchor="middle" textLength="30.3" lengthAdjust="spacingAndGlyphs" stroke="#2b2b2b" stroke-width="0.3">Mutations</text>
<!-- Pat 10 (3 months prior to relapse at 12 months) -->
<text x="99.90" y="326.00" font-size="6.8" fill="#2b2b2b" text-anchor="middle" textLength="139.5" lengthAdjust="spacingAndGlyphs" stroke="#2b2b2b" stroke-width="0.14">Pat 10 (3 months prior to relapse at 12 months)</text>
<text x="59.60" y="336.00" font-size="7.0" fill="#2b2b2b" text-anchor="middle" textLength="15" lengthAdjust="spacingAndGlyphs" stroke="#2b2b2b" stroke-width="0.14">MNC</text>
<line x1="46.50" y1="338.90" x2="46.50" y2="379.70" stroke="#484848" stroke-width="0.9"/>
<line x1="46.50" y1="379.20" x2="72.50" y2="379.20" stroke="#484848" stroke-width="0.9"/>
<line x1="44.10" y1="341.50" x2="46.50" y2="341.50" stroke="#484848" stroke-width="0.8"/>
<line x1="44.10" y1="350.93" x2="46.50" y2="350.93" stroke="#484848" stroke-width="0.8"/>
<line x1="44.10" y1="360.35" x2="46.50" y2="360.35" stroke="#484848" stroke-width="0.8"/>
<line x1="44.10" y1="369.77" x2="46.50" y2="369.77" stroke="#484848" stroke-width="0.8"/>
<line x1="44.10" y1="379.20" x2="46.50" y2="379.20" stroke="#484848" stroke-width="0.8"/>
<line x1="45.30" y1="348.09" x2="46.50" y2="348.09" stroke="#484848" stroke-width="0.4" stroke-opacity="0.6"/>
<line x1="45.30" y1="346.43" x2="46.50" y2="346.43" stroke="#484848" stroke-width="0.4" stroke-opacity="0.6"/>
<line x1="45.30" y1="345.25" x2="46.50" y2="345.25" stroke="#484848" stroke-width="0.4" stroke-opacity="0.6"/>
<line x1="45.30" y1="344.34" x2="46.50" y2="344.34" stroke="#484848" stroke-width="0.4" stroke-opacity="0.6"/>
<line x1="45.30" y1="343.59" x2="46.50" y2="343.59" stroke="#484848" stroke-width="0.4" stroke-opacity="0.6"/>
<line x1="45.30" y1="342.96" x2="46.50" y2="342.96" stroke="#484848" stroke-width="0.4" stroke-opacity="0.6"/>
<line x1="45.30" y1="342.41" x2="46.50" y2="342.41" stroke="#484848" stroke-width="0.4" stroke-opacity="0.6"/>
<line x1="45.30" y1="341.93" x2="46.50" y2="341.93" stroke="#484848" stroke-width="0.4" stroke-opacity="0.6"/>
<line x1="45.30" y1="357.51" x2="46.50" y2="357.51" stroke="#484848" stroke-width="0.4" stroke-opacity="0.6"/>
<line x1="45.30" y1="355.85" x2="46.50" y2="355.85" stroke="#484848" stroke-width="0.4" stroke-opacity="0.6"/>
<line x1="45.30" y1="354.68" x2="46.50" y2="354.68" stroke="#484848" stroke-width="0.4" stroke-opacity="0.6"/>
<line x1="45.30" y1="353.76" x2="46.50" y2="353.76" stroke="#484848" stroke-width="0.4" stroke-opacity="0.6"/>
<line x1="45.30" y1="353.02" x2="46.50" y2="353.02" stroke="#484848" stroke-width="0.4" stroke-opacity="0.6"/>
<line x1="45.30" y1="352.38" x2="46.50" y2="352.38" stroke="#484848" stroke-width="0.4" stroke-opacity="0.6"/>
<line x1="45.30" y1="351.84" x2="46.50" y2="351.84" stroke="#484848" stroke-width="0.4" stroke-opacity="0.6"/>
<line x1="45.30" y1="351.36" x2="46.50" y2="351.36" stroke="#484848" stroke-width="0.4" stroke-opacity="0.6"/>
<line x1="45.30" y1="366.94" x2="46.50" y2="366.94" stroke="#484848" stroke-width="0.4" stroke-opacity="0.6"/>
<line x1="45.30" y1="365.28" x2="46.50" y2="365.28" stroke="#484848" stroke-width="0.4" stroke-opacity="0.6"/>
<line x1="45.30" y1="364.10" x2="46.50" y2="364.10" stroke="#484848" stroke-width="0.4" stroke-opacity="0.6"/>
<line x1="45.30" y1="363.19" x2="46.50" y2="363.19" stroke="#484848" stroke-width="0.4" stroke-opacity="0.6"/>
<line x1="45.30" y1="362.44" x2="46.50" y2="362.44" stroke="#484848" stroke-width="0.4" stroke-opacity="0.6"/>
<line x1="45.30" y1="361.81" x2="46.50" y2="361.81" stroke="#484848" stroke-width="0.4" stroke-opacity="0.6"/>
<line x1="45.30" y1="361.26" x2="46.50" y2="361.26" stroke="#484848" stroke-width="0.4" stroke-opacity="0.6"/>
<line x1="45.30" y1="360.78" x2="46.50" y2="360.78" stroke="#484848" stroke-width="0.4" stroke-opacity="0.6"/>
<line x1="45.30" y1="376.36" x2="46.50" y2="376.36" stroke="#484848" stroke-width="0.4" stroke-opacity="0.6"/>
<line x1="45.30" y1="374.70" x2="46.50" y2="374.70" stroke="#484848" stroke-width="0.4" stroke-opacity="0.6"/>
<line x1="45.30" y1="373.53" x2="46.50" y2="373.53" stroke="#484848" stroke-width="0.4" stroke-opacity="0.6"/>
<line x1="45.30" y1="372.61" x2="46.50" y2="372.61" stroke="#484848" stroke-width="0.4" stroke-opacity="0.6"/>
<line x1="45.30" y1="371.87" x2="46.50" y2="371.87" stroke="#484848" stroke-width="0.4" stroke-opacity="0.6"/>
<line x1="45.30" y1="371.23" x2="46.50" y2="371.23" stroke="#484848" stroke-width="0.4" stroke-opacity="0.6"/>
<line x1="45.30" y1="370.69" x2="46.50" y2="370.69" stroke="#484848" stroke-width="0.4" stroke-opacity="0.6"/>
<line x1="45.30" y1="370.21" x2="46.50" y2="370.21" stroke="#484848" stroke-width="0.4" stroke-opacity="0.6"/>
<line x1="59.50" y1="379.20" x2="59.50" y2="382.40" stroke="#8a8a8a" stroke-width="0.6"/>
<text x="98.20" y="336.00" font-size="7.0" fill="#2b2b2b" text-anchor="middle" textLength="20.3" lengthAdjust="spacingAndGlyphs" stroke="#2b2b2b" stroke-width="0.14">CD34+</text>
<line x1="85.10" y1="338.90" x2="85.10" y2="379.70" stroke="#484848" stroke-width="0.9"/>
<line x1="85.10" y1="379.20" x2="111.10" y2="379.20" stroke="#484848" stroke-width="0.9"/>
<line x1="82.70" y1="341.50" x2="85.10" y2="341.50" stroke="#484848" stroke-width="0.8"/>
<line x1="82.70" y1="350.93" x2="85.10" y2="350.93" stroke="#484848" stroke-width="0.8"/>
<line x1="82.70" y1="360.35" x2="85.10" y2="360.35" stroke="#484848" stroke-width="0.8"/>
<line x1="82.70" y1="369.77" x2="85.10" y2="369.77" stroke="#484848" stroke-width="0.8"/>
<line x1="82.70" y1="379.20" x2="85.10" y2="379.20" stroke="#484848" stroke-width="0.8"/>
<line x1="83.90" y1="348.09" x2="85.10" y2="348.09" stroke="#484848" stroke-width="0.4" stroke-opacity="0.6"/>
<line x1="83.90" y1="346.43" x2="85.10" y2="346.43" stroke="#484848" stroke-width="0.4" stroke-opacity="0.6"/>
<line x1="83.90" y1="345.25" x2="85.10" y2="345.25" stroke="#484848" stroke-width="0.4" stroke-opacity="0.6"/>
<line x1="83.90" y1="344.34" x2="85.10" y2="344.34" stroke="#484848" stroke-width="0.4" stroke-opacity="0.6"/>
<line x1="83.90" y1="343.59" x2="85.10" y2="343.59" stroke="#484848" stroke-width="0.4" stroke-opacity="0.6"/>
<line x1="83.90" y1="342.96" x2="85.10" y2="342.96" stroke="#484848" stroke-width="0.4" stroke-opacity="0.6"/>
<line x1="83.90" y1="342.41" x2="85.10" y2="342.41" stroke="#484848" stroke-width="0.4" stroke-opacity="0.6"/>
<line x1="83.90" y1="341.93" x2="85.10" y2="341.93" stroke="#484848" stroke-width="0.4" stroke-opacity="0.6"/>
<line x1="83.90" y1="357.51" x2="85.10" y2="357.51" stroke="#484848" stroke-width="0.4" stroke-opacity="0.6"/>
<line x1="83.90" y1="355.85" x2="85.10" y2="355.85" stroke="#484848" stroke-width="0.4" stroke-opacity="0.6"/>
<line x1="83.90" y1="354.68" x2="85.10" y2="354.68" stroke="#484848" stroke-width="0.4" stroke-opacity="0.6"/>
<line x1="83.90" y1="353.76" x2="85.10" y2="353.76" stroke="#484848" stroke-width="0.4" stroke-opacity="0.6"/>
<line x1="83.90" y1="353.02" x2="85.10" y2="353.02" stroke="#484848" stroke-width="0.4" stroke-opacity="0.6"/>
<line x1="83.90" y1="352.38" x2="85.10" y2="352.38" stroke="#484848" stroke-width="0.4" stroke-opacity="0.6"/>
<line x1="83.90" y1="351.84" x2="85.10" y2="351.84" stroke="#484848" stroke-width="0.4" stroke-opacity="0.6"/>
<line x1="83.90" y1="351.36" x2="85.10" y2="351.36" stroke="#484848" stroke-width="0.4" stroke-opacity="0.6"/>
<line x1="83.90" y1="366.94" x2="85.10" y2="366.94" stroke="#484848" stroke-width="0.4" stroke-opacity="0.6"/>
<line x1="83.90" y1="365.28" x2="85.10" y2="365.28" stroke="#484848" stroke-width="0.4" stroke-opacity="0.6"/>
<line x1="83.90" y1="364.10" x2="85.10" y2="364.10" stroke="#484848" stroke-width="0.4" stroke-opacity="0.6"/>
<line x1="83.90" y1="363.19" x2="85.10" y2="363.19" stroke="#484848" stroke-width="0.4" stroke-opacity="0.6"/>
<line x1="83.90" y1="362.44" x2="85.10" y2="362.44" stroke="#484848" stroke-width="0.4" stroke-opacity="0.6"/>
<line x1="83.90" y1="361.81" x2="85.10" y2="361.81" stroke="#484848" stroke-width="0.4" stroke-opacity="0.6"/>
<line x1="83.90" y1="361.26" x2="85.10" y2="361.26" stroke="#484848" stroke-width="0.4" stroke-opacity="0.6"/>
<line x1="83.90" y1="360.78" x2="85.10" y2="360.78" stroke="#484848" stroke-width="0.4" stroke-opacity="0.6"/>
<line x1="83.90" y1="376.36" x2="85.10" y2="376.36" stroke="#484848" stroke-width="0.4" stroke-opacity="0.6"/>
<line x1="83.90" y1="374.70" x2="85.10" y2="374.70" stroke="#484848" stroke-width="0.4" stroke-opacity="0.6"/>
<line x1="83.90" y1="373.53" x2="85.10" y2="373.53" stroke="#484848" stroke-width="0.4" stroke-opacity="0.6"/>
<line x1="83.90" y1="372.61" x2="85.10" y2="372.61" stroke="#484848" stroke-width="0.4" stroke-opacity="0.6"/>
<line x1="83.90" y1="371.87" x2="85.10" y2="371.87" stroke="#484848" stroke-width="0.4" stroke-opacity="0.6"/>
<line x1="83.90" y1="371.23" x2="85.10" y2="371.23" stroke="#484848" stroke-width="0.4" stroke-opacity="0.6"/>
<line x1="83.90" y1="370.69" x2="85.10" y2="370.69" stroke="#484848" stroke-width="0.4" stroke-opacity="0.6"/>
<line x1="83.90" y1="370.21" x2="85.10" y2="370.21" stroke="#484848" stroke-width="0.4" stroke-opacity="0.6"/>
<line x1="98.10" y1="379.20" x2="98.10" y2="382.40" stroke="#8a8a8a" stroke-width="0.6"/>
<text x="138.20" y="336.00" font-size="7.0" fill="#2b2b2b" text-anchor="middle" textLength="12.5" lengthAdjust="spacingAndGlyphs" stroke="#2b2b2b" stroke-width="0.14">HSC</text>
<line x1="125.10" y1="338.90" x2="125.10" y2="379.70" stroke="#484848" stroke-width="0.9"/>
<line x1="125.10" y1="379.20" x2="151.10" y2="379.20" stroke="#484848" stroke-width="0.9"/>
<line x1="122.70" y1="341.50" x2="125.10" y2="341.50" stroke="#484848" stroke-width="0.8"/>
<line x1="122.70" y1="350.93" x2="125.10" y2="350.93" stroke="#484848" stroke-width="0.8"/>
<line x1="122.70" y1="360.35" x2="125.10" y2="360.35" stroke="#484848" stroke-width="0.8"/>
<line x1="122.70" y1="369.77" x2="125.10" y2="369.77" stroke="#484848" stroke-width="0.8"/>
<line x1="122.70" y1="379.20" x2="125.10" y2="379.20" stroke="#484848" stroke-width="0.8"/>
<line x1="123.90" y1="348.09" x2="125.10" y2="348.09" stroke="#484848" stroke-width="0.4" stroke-opacity="0.6"/>
<line x1="123.90" y1="346.43" x2="125.10" y2="346.43" stroke="#484848" stroke-width="0.4" stroke-opacity="0.6"/>
<line x1="123.90" y1="345.25" x2="125.10" y2="345.25" stroke="#484848" stroke-width="0.4" stroke-opacity="0.6"/>
<line x1="123.90" y1="344.34" x2="125.10" y2="344.34" stroke="#484848" stroke-width="0.4" stroke-opacity="0.6"/>
<line x1="123.90" y1="343.59" x2="125.10" y2="343.59" stroke="#484848" stroke-width="0.4" stroke-opacity="0.6"/>
<line x1="123.90" y1="342.96" x2="125.10" y2="342.96" stroke="#484848" stroke-width="0.4" stroke-opacity="0.6"/>
<line x1="123.90" y1="342.41" x2="125.10" y2="342.41" stroke="#484848" stroke-width="0.4" stroke-opacity="0.6"/>
<line x1="123.90" y1="341.93" x2="125.10" y2="341.93" stroke="#484848" stroke-width="0.4" stroke-opacity="0.6"/>
<line x1="123.90" y1="357.51" x2="125.10" y2="357.51" stroke="#484848" stroke-width="0.4" stroke-opacity="0.6"/>
<line x1="123.90" y1="355.85" x2="125.10" y2="355.85" stroke="#484848" stroke-width="0.4" stroke-opacity="0.6"/>
<line x1="123.90" y1="354.68" x2="125.10" y2="354.68" stroke="#484848" stroke-width="0.4" stroke-opacity="0.6"/>
<line x1="123.90" y1="353.76" x2="125.10" y2="353.76" stroke="#484848" stroke-width="0.4" stroke-opacity="0.6"/>
<line x1="123.90" y1="353.02" x2="125.10" y2="353.02" stroke="#484848" stroke-width="0.4" stroke-opacity="0.6"/>
<line x1="123.90" y1="352.38" x2="125.10" y2="352.38" stroke="#484848" stroke-width="0.4" stroke-opacity="0.6"/>
<line x1="123.90" y1="351.84" x2="125.10" y2="351.84" stroke="#484848" stroke-width="0.4" stroke-opacity="0.6"/>
<line x1="123.90" y1="351.36" x2="125.10" y2="351.36" stroke="#484848" stroke-width="0.4" stroke-opacity="0.6"/>
<line x1="123.90" y1="366.94" x2="125.10" y2="366.94" stroke="#484848" stroke-width="0.4" stroke-opacity="0.6"/>
<line x1="123.90" y1="365.28" x2="125.10" y2="365.28" stroke="#484848" stroke-width="0.4" stroke-opacity="0.6"/>
<line x1="123.90" y1="364.10" x2="125.10" y2="364.10" stroke="#484848" stroke-width="0.4" stroke-opacity="0.6"/>
<line x1="123.90" y1="363.19" x2="125.10" y2="363.19" stroke="#484848" stroke-width="0.4" stroke-opacity="0.6"/>
<line x1="123.90" y1="362.44" x2="125.10" y2="362.44" stroke="#484848" stroke-width="0.4" stroke-opacity="0.6"/>
<line x1="123.90" y1="361.81" x2="125.10" y2="361.81" stroke="#484848" stroke-width="0.4" stroke-opacity="0.6"/>
<line x1="123.90" y1="361.26" x2="125.10" y2="361.26" stroke="#484848" stroke-width="0.4" stroke-opacity="0.6"/>
<line x1="123.90" y1="360.78" x2="125.10" y2="360.78" stroke="#484848" stroke-width="0.4" stroke-opacity="0.6"/>
<line x1="123.90" y1="376.36" x2="125.10" y2="376.36" stroke="#484848" stroke-width="0.4" stroke-opacity="0.6"/>
<line x1="123.90" y1="374.70" x2="125.10" y2="374.70" stroke="#484848" stroke-width="0.4" stroke-opacity="0.6"/>
<line x1="123.90" y1="373.53" x2="125.10" y2="373.53" stroke="#484848" stroke-width="0.4" stroke-opacity="0.6"/>
<line x1="123.90" y1="372.61" x2="125.10" y2="372.61" stroke="#484848" stroke-width="0.4" stroke-opacity="0.6"/>
<line x1="123.90" y1="371.87" x2="125.10" y2="371.87" stroke="#484848" stroke-width="0.4" stroke-opacity="0.6"/>
<line x1="123.90" y1="371.23" x2="125.10" y2="371.23" stroke="#484848" stroke-width="0.4" stroke-opacity="0.6"/>
<line x1="123.90" y1="370.69" x2="125.10" y2="370.69" stroke="#484848" stroke-width="0.4" stroke-opacity="0.6"/>
<line x1="123.90" y1="370.21" x2="125.10" y2="370.21" stroke="#484848" stroke-width="0.4" stroke-opacity="0.6"/>
<line x1="138.10" y1="379.20" x2="138.10" y2="382.40" stroke="#8a8a8a" stroke-width="0.6"/>
<text x="40.50" y="343.80" font-size="6.5" fill="#2b2b2b" text-anchor="end" textLength="9.7" lengthAdjust="spacingAndGlyphs" stroke="#2b2b2b" stroke-width="0.14">100</text>
<text x="40.50" y="353.23" font-size="6.5" fill="#2b2b2b" text-anchor="end" textLength="6.5" lengthAdjust="spacingAndGlyphs" stroke="#2b2b2b" stroke-width="0.14">10</text>
<text x="40.50" y="362.65" font-size="6.5" fill="#2b2b2b" text-anchor="end" textLength="3.2" lengthAdjust="spacingAndGlyphs" stroke="#2b2b2b" stroke-width="0.14">1</text>
<text x="40.50" y="372.07" font-size="6.5" fill="#2b2b2b" text-anchor="end" textLength="8.4" lengthAdjust="spacingAndGlyphs" stroke="#2b2b2b" stroke-width="0.14">0.1</text>
<text x="40.50" y="381.50" font-size="6.5" fill="#2b2b2b" text-anchor="end" textLength="12.2" lengthAdjust="spacingAndGlyphs" stroke="#2b2b2b" stroke-width="0.14">0.01</text>
<text x="25.30" y="358.75" font-size="7.4" fill="#2b2b2b" text-anchor="middle" textLength="23.5" lengthAdjust="spacingAndGlyphs" transform="rotate(-90 25.30 358.75)" stroke="#2b2b2b" stroke-width="0.25">VAF (%)</text>
<text x="98.30" y="391.30" font-size="8.8" fill="#2b2b2b" text-anchor="middle" textLength="30.3" lengthAdjust="spacingAndGlyphs" stroke="#2b2b2b" stroke-width="0.3">Mutations</text>
<!-- Pat 3 (10 months prior to relapse at 18 months) -->
<text x="291.20" y="24.50" font-size="6.8" fill="#2b2b2b" text-anchor="middle" textLength="139" lengthAdjust="spacingAndGlyphs" stroke="#2b2b2b" stroke-width="0.14">Pat 3 (10 months prior to relapse at 18 months)</text>
<text x="250.60" y="36.20" font-size="7.0" fill="#2b2b2b" text-anchor="middle" textLength="15" lengthAdjust="spacingAndGlyphs" stroke="#2b2b2b" stroke-width="0.14">MNC</text>
<line x1="237.50" y1="38.65" x2="237.50" y2="80.50" stroke="#484848" stroke-width="0.9"/>
<line x1="237.50" y1="80.00" x2="263.50" y2="80.00" stroke="#484848" stroke-width="0.9"/>
<line x1="235.10" y1="41.25" x2="237.50" y2="41.25" stroke="#484848" stroke-width="0.8"/>
<line x1="235.10" y1="50.94" x2="237.50" y2="50.94" stroke="#484848" stroke-width="0.8"/>
<line x1="235.10" y1="60.62" x2="237.50" y2="60.62" stroke="#484848" stroke-width="0.8"/>
<line x1="235.10" y1="70.31" x2="237.50" y2="70.31" stroke="#484848" stroke-width="0.8"/>
<line x1="235.10" y1="80.00" x2="237.50" y2="80.00" stroke="#484848" stroke-width="0.8"/>
<line x1="236.30" y1="48.02" x2="237.50" y2="48.02" stroke="#484848" stroke-width="0.4" stroke-opacity="0.6"/>
<line x1="236.30" y1="46.32" x2="237.50" y2="46.32" stroke="#484848" stroke-width="0.4" stroke-opacity="0.6"/>
<line x1="236.30" y1="45.11" x2="237.50" y2="45.11" stroke="#484848" stroke-width="0.4" stroke-opacity="0.6"/>
<line x1="236.30" y1="44.17" x2="237.50" y2="44.17" stroke="#484848" stroke-width="0.4" stroke-opacity="0.6"/>
<line x1="236.30" y1="43.40" x2="237.50" y2="43.40" stroke="#484848" stroke-width="0.4" stroke-opacity="0.6"/>
<line x1="236.30" y1="42.75" x2="237.50" y2="42.75" stroke="#484848" stroke-width="0.4" stroke-opacity="0.6"/>
<line x1="236.30" y1="42.19" x2="237.50" y2="42.19" stroke="#484848" stroke-width="0.4" stroke-opacity="0.6"/>
<line x1="236.30" y1="41.69" x2="237.50" y2="41.69" stroke="#484848" stroke-width="0.4" stroke-opacity="0.6"/>
<line x1="236.30" y1="57.71" x2="237.50" y2="57.71" stroke="#484848" stroke-width="0.4" stroke-opacity="0.6"/>
<line x1="236.30" y1="56.00" x2="237.50" y2="56.00" stroke="#484848" stroke-width="0.4" stroke-opacity="0.6"/>
<line x1="236.30" y1="54.79" x2="237.50" y2="54.79" stroke="#484848" stroke-width="0.4" stroke-opacity="0.6"/>
<line x1="236.30" y1="53.85" x2="237.50" y2="53.85" stroke="#484848" stroke-width="0.4" stroke-opacity="0.6"/>
<line x1="236.30" y1="53.09" x2="237.50" y2="53.09" stroke="#484848" stroke-width="0.4" stroke-opacity="0.6"/>
<line x1="236.30" y1="52.44" x2="237.50" y2="52.44" stroke="#484848" stroke-width="0.4" stroke-opacity="0.6"/>
<line x1="236.30" y1="51.88" x2="237.50" y2="51.88" stroke="#484848" stroke-width="0.4" stroke-opacity="0.6"/>
<line x1="236.30" y1="51.38" x2="237.50" y2="51.38" stroke="#484848" stroke-width="0.4" stroke-opacity="0.6"/>
<line x1="236.30" y1="67.40" x2="237.50" y2="67.40" stroke="#484848" stroke-width="0.4" stroke-opacity="0.6"/>
<line x1="236.30" y1="65.69" x2="237.50" y2="65.69" stroke="#484848" stroke-width="0.4" stroke-opacity="0.6"/>
<line x1="236.30" y1="64.48" x2="237.50" y2="64.48" stroke="#484848" stroke-width="0.4" stroke-opacity="0.6"/>
<line x1="236.30" y1="63.54" x2="237.50" y2="63.54" stroke="#484848" stroke-width="0.4" stroke-opacity="0.6"/>
<line x1="236.30" y1="62.77" x2="237.50" y2="62.77" stroke="#484848" stroke-width="0.4" stroke-opacity="0.6"/>
<line x1="236.30" y1="62.13" x2="237.50" y2="62.13" stroke="#484848" stroke-width="0.4" stroke-opacity="0.6"/>
<line x1="236.30" y1="61.56" x2="237.50" y2="61.56" stroke="#484848" stroke-width="0.4" stroke-opacity="0.6"/>
<line x1="236.30" y1="61.07" x2="237.50" y2="61.07" stroke="#484848" stroke-width="0.4" stroke-opacity="0.6"/>
<line x1="236.30" y1="77.08" x2="237.50" y2="77.08" stroke="#484848" stroke-width="0.4" stroke-opacity="0.6"/>
<line x1="236.30" y1="75.38" x2="237.50" y2="75.38" stroke="#484848" stroke-width="0.4" stroke-opacity="0.6"/>
<line x1="236.30" y1="74.17" x2="237.50" y2="74.17" stroke="#484848" stroke-width="0.4" stroke-opacity="0.6"/>
<line x1="236.30" y1="73.23" x2="237.50" y2="73.23" stroke="#484848" stroke-width="0.4" stroke-opacity="0.6"/>
<line x1="236.30" y1="72.46" x2="237.50" y2="72.46" stroke="#484848" stroke-width="0.4" stroke-opacity="0.6"/>
<line x1="236.30" y1="71.81" x2="237.50" y2="71.81" stroke="#484848" stroke-width="0.4" stroke-opacity="0.6"/>
<line x1="236.30" y1="71.25" x2="237.50" y2="71.25" stroke="#484848" stroke-width="0.4" stroke-opacity="0.6"/>
<line x1="236.30" y1="70.76" x2="237.50" y2="70.76" stroke="#484848" stroke-width="0.4" stroke-opacity="0.6"/>
<line x1="250.50" y1="80.00" x2="250.50" y2="83.20" stroke="#8a8a8a" stroke-width="0.6"/>
<text x="290.60" y="36.20" font-size="7.0" fill="#2b2b2b" text-anchor="middle" textLength="20.3" lengthAdjust="spacingAndGlyphs" stroke="#2b2b2b" stroke-width="0.14">CD34+</text>
<line x1="277.50" y1="38.65" x2="277.50" y2="80.50" stroke="#484848" stroke-width="0.9"/>
<line x1="277.50" y1="80.00" x2="303.50" y2="80.00" stroke="#484848" stroke-width="0.9"/>
<line x1="275.10" y1="41.25" x2="277.50" y2="41.25" stroke="#484848" stroke-width="0.8"/>
<line x1="275.10" y1="50.94" x2="277.50" y2="50.94" stroke="#484848" stroke-width="0.8"/>
<line x1="275.10" y1="60.62" x2="277.50" y2="60.62" stroke="#484848" stroke-width="0.8"/>
<line x1="275.10" y1="70.31" x2="277.50" y2="70.31" stroke="#484848" stroke-width="0.8"/>
<line x1="275.10" y1="80.00" x2="277.50" y2="80.00" stroke="#484848" stroke-width="0.8"/>
<line x1="276.30" y1="48.02" x2="277.50" y2="48.02" stroke="#484848" stroke-width="0.4" stroke-opacity="0.6"/>
<line x1="276.30" y1="46.32" x2="277.50" y2="46.32" stroke="#484848" stroke-width="0.4" stroke-opacity="0.6"/>
<line x1="276.30" y1="45.11" x2="277.50" y2="45.11" stroke="#484848" stroke-width="0.4" stroke-opacity="0.6"/>
<line x1="276.30" y1="44.17" x2="277.50" y2="44.17" stroke="#484848" stroke-width="0.4" stroke-opacity="0.6"/>
<line x1="276.30" y1="43.40" x2="277.50" y2="43.40" stroke="#484848" stroke-width="0.4" stroke-opacity="0.6"/>
<line x1="276.30" y1="42.75" x2="277.50" y2="42.75" stroke="#484848" stroke-width="0.4" stroke-opacity="0.6"/>
<line x1="276.30" y1="42.19" x2="277.50" y2="42.19" stroke="#484848" stroke-width="0.4" stroke-opacity="0.6"/>
<line x1="276.30" y1="41.69" x2="277.50" y2="41.69" stroke="#484848" stroke-width="0.4" stroke-opacity="0.6"/>
<line x1="276.30" y1="57.71" x2="277.50" y2="57.71" stroke="#484848" stroke-width="0.4" stroke-opacity="0.6"/>
<line x1="276.30" y1="56.00" x2="277.50" y2="56.00" stroke="#484848" stroke-width="0.4" stroke-opacity="0.6"/>
<line x1="276.30" y1="54.79" x2="277.50" y2="54.79" stroke="#484848" stroke-width="0.4" stroke-opacity="0.6"/>
<line x1="276.30" y1="53.85" x2="277.50" y2="53.85" stroke="#484848" stroke-width="0.4" stroke-opacity="0.6"/>
<line x1="276.30" y1="53.09" x2="277.50" y2="53.09" stroke="#484848" stroke-width="0.4" stroke-opacity="0.6"/>
<line x1="276.30" y1="52.44" x2="277.50" y2="52.44" stroke="#484848" stroke-width="0.4" stroke-opacity="0.6"/>
<line x1="276.30" y1="51.88" x2="277.50" y2="51.88" stroke="#484848" stroke-width="0.4" stroke-opacity="0.6"/>
<line x1="276.30" y1="51.38" x2="277.50" y2="51.38" stroke="#484848" stroke-width="0.4" stroke-opacity="0.6"/>
<line x1="276.30" y1="67.40" x2="277.50" y2="67.40" stroke="#484848" stroke-width="0.4" stroke-opacity="0.6"/>
<line x1="276.30" y1="65.69" x2="277.50" y2="65.69" stroke="#484848" stroke-width="0.4" stroke-opacity="0.6"/>
<line x1="276.30" y1="64.48" x2="277.50" y2="64.48" stroke="#484848" stroke-width="0.4" stroke-opacity="0.6"/>
<line x1="276.30" y1="63.54" x2="277.50" y2="63.54" stroke="#484848" stroke-width="0.4" stroke-opacity="0.6"/>
<line x1="276.30" y1="62.77" x2="277.50" y2="62.77" stroke="#484848" stroke-width="0.4" stroke-opacity="0.6"/>
<line x1="276.30" y1="62.13" x2="277.50" y2="62.13" stroke="#484848" stroke-width="0.4" stroke-opacity="0.6"/>
<line x1="276.30" y1="61.56" x2="277.50" y2="61.56" stroke="#484848" stroke-width="0.4" stroke-opacity="0.6"/>
<line x1="276.30" y1="61.07" x2="277.50" y2="61.07" stroke="#484848" stroke-width="0.4" stroke-opacity="0.6"/>
<line x1="276.30" y1="77.08" x2="277.50" y2="77.08" stroke="#484848" stroke-width="0.4" stroke-opacity="0.6"/>
<line x1="276.30" y1="75.38" x2="277.50" y2="75.38" stroke="#484848" stroke-width="0.4" stroke-opacity="0.6"/>
<line x1="276.30" y1="74.17" x2="277.50" y2="74.17" stroke="#484848" stroke-width="0.4" stroke-opacity="0.6"/>
<line x1="276.30" y1="73.23" x2="277.50" y2="73.23" stroke="#484848" stroke-width="0.4" stroke-opacity="0.6"/>
<line x1="276.30" y1="72.46" x2="277.50" y2="72.46" stroke="#484848" stroke-width="0.4" stroke-opacity="0.6"/>
<line x1="276.30" y1="71.81" x2="277.50" y2="71.81" stroke="#484848" stroke-width="0.4" stroke-opacity="0.6"/>
<line x1="276.30" y1="71.25" x2="277.50" y2="71.25" stroke="#484848" stroke-width="0.4" stroke-opacity="0.6"/>
<line x1="276.30" y1="70.76" x2="277.50" y2="70.76" stroke="#484848" stroke-width="0.4" stroke-opacity="0.6"/>
<line x1="290.50" y1="80.00" x2="290.50" y2="83.20" stroke="#8a8a8a" stroke-width="0.6"/>
<text x="331.00" y="36.20" font-size="7.0" fill="#2b2b2b" text-anchor="middle" textLength="16.5" lengthAdjust="spacingAndGlyphs" stroke="#2b2b2b" stroke-width="0.14">LMPP</text>
<line x1="317.90" y1="38.65" x2="317.90" y2="80.50" stroke="#484848" stroke-width="0.9"/>
<line x1="317.90" y1="80.00" x2="343.90" y2="80.00" stroke="#484848" stroke-width="0.9"/>
<line x1="315.50" y1="41.25" x2="317.90" y2="41.25" stroke="#484848" stroke-width="0.8"/>
<line x1="315.50" y1="50.94" x2="317.90" y2="50.94" stroke="#484848" stroke-width="0.8"/>
<line x1="315.50" y1="60.62" x2="317.90" y2="60.62" stroke="#484848" stroke-width="0.8"/>
<line x1="315.50" y1="70.31" x2="317.90" y2="70.31" stroke="#484848" stroke-width="0.8"/>
<line x1="315.50" y1="80.00" x2="317.90" y2="80.00" stroke="#484848" stroke-width="0.8"/>
<line x1="316.70" y1="48.02" x2="317.90" y2="48.02" stroke="#484848" stroke-width="0.4" stroke-opacity="0.6"/>
<line x1="316.70" y1="46.32" x2="317.90" y2="46.32" stroke="#484848" stroke-width="0.4" stroke-opacity="0.6"/>
<line x1="316.70" y1="45.11" x2="317.90" y2="45.11" stroke="#484848" stroke-width="0.4" stroke-opacity="0.6"/>
<line x1="316.70" y1="44.17" x2="317.90" y2="44.17" stroke="#484848" stroke-width="0.4" stroke-opacity="0.6"/>
<line x1="316.70" y1="43.40" x2="317.90" y2="43.40" stroke="#484848" stroke-width="0.4" stroke-opacity="0.6"/>
<line x1="316.70" y1="42.75" x2="317.90" y2="42.75" stroke="#484848" stroke-width="0.4" stroke-opacity="0.6"/>
<line x1="316.70" y1="42.19" x2="317.90" y2="42.19" stroke="#484848" stroke-width="0.4" stroke-opacity="0.6"/>
<line x1="316.70" y1="41.69" x2="317.90" y2="41.69" stroke="#484848" stroke-width="0.4" stroke-opacity="0.6"/>
<line x1="316.70" y1="57.71" x2="317.90" y2="57.71" stroke="#484848" stroke-width="0.4" stroke-opacity="0.6"/>
<line x1="316.70" y1="56.00" x2="317.90" y2="56.00" stroke="#484848" stroke-width="0.4" stroke-opacity="0.6"/>
<line x1="316.70" y1="54.79" x2="317.90" y2="54.79" stroke="#484848" stroke-width="0.4" stroke-opacity="0.6"/>
<line x1="316.70" y1="53.85" x2="317.90" y2="53.85" stroke="#484848" stroke-width="0.4" stroke-opacity="0.6"/>
<line x1="316.70" y1="53.09" x2="317.90" y2="53.09" stroke="#484848" stroke-width="0.4" stroke-opacity="0.6"/>
<line x1="316.70" y1="52.44" x2="317.90" y2="52.44" stroke="#484848" stroke-width="0.4" stroke-opacity="0.6"/>
<line x1="316.70" y1="51.88" x2="317.90" y2="51.88" stroke="#484848" stroke-width="0.4" stroke-opacity="0.6"/>
<line x1="316.70" y1="51.38" x2="317.90" y2="51.38" stroke="#484848" stroke-width="0.4" stroke-opacity="0.6"/>
<line x1="316.70" y1="67.40" x2="317.90" y2="67.40" stroke="#484848" stroke-width="0.4" stroke-opacity="0.6"/>
<line x1="316.70" y1="65.69" x2="317.90" y2="65.69" stroke="#484848" stroke-width="0.4" stroke-opacity="0.6"/>
<line x1="316.70" y1="64.48" x2="317.90" y2="64.48" stroke="#484848" stroke-width="0.4" stroke-opacity="0.6"/>
<line x1="316.70" y1="63.54" x2="317.90" y2="63.54" stroke="#484848" stroke-width="0.4" stroke-opacity="0.6"/>
<line x1="316.70" y1="62.77" x2="317.90" y2="62.77" stroke="#484848" stroke-width="0.4" stroke-opacity="0.6"/>
<line x1="316.70" y1="62.13" x2="317.90" y2="62.13" stroke="#484848" stroke-width="0.4" stroke-opacity="0.6"/>
<line x1="316.70" y1="61.56" x2="317.90" y2="61.56" stroke="#484848" stroke-width="0.4" stroke-opacity="0.6"/>
<line x1="316.70" y1="61.07" x2="317.90" y2="61.07" stroke="#484848" stroke-width="0.4" stroke-opacity="0.6"/>
<line x1="316.70" y1="77.08" x2="317.90" y2="77.08" stroke="#484848" stroke-width="0.4" stroke-opacity="0.6"/>
<line x1="316.70" y1="75.38" x2="317.90" y2="75.38" stroke="#484848" stroke-width="0.4" stroke-opacity="0.6"/>
<line x1="316.70" y1="74.17" x2="317.90" y2="74.17" stroke="#484848" stroke-width="0.4" stroke-opacity="0.6"/>
<line x1="316.70" y1="73.23" x2="317.90" y2="73.23" stroke="#484848" stroke-width="0.4" stroke-opacity="0.6"/>
<line x1="316.70" y1="72.46" x2="317.90" y2="72.46" stroke="#484848" stroke-width="0.4" stroke-opacity="0.6"/>
<line x1="316.70" y1="71.81" x2="317.90" y2="71.81" stroke="#484848" stroke-width="0.4" stroke-opacity="0.6"/>
<line x1="316.70" y1="71.25" x2="317.90" y2="71.25" stroke="#484848" stroke-width="0.4" stroke-opacity="0.6"/>
<line x1="316.70" y1="70.76" x2="317.90" y2="70.76" stroke="#484848" stroke-width="0.4" stroke-opacity="0.6"/>
<line x1="330.90" y1="80.00" x2="330.90" y2="83.20" stroke="#8a8a8a" stroke-width="0.6"/>
<text x="231.60" y="43.55" font-size="6.5" fill="#2b2b2b" text-anchor="end" textLength="9.7" lengthAdjust="spacingAndGlyphs" stroke="#2b2b2b" stroke-width="0.14">100</text>
<text x="231.60" y="53.24" font-size="6.5" fill="#2b2b2b" text-anchor="end" textLength="6.5" lengthAdjust="spacingAndGlyphs" stroke="#2b2b2b" stroke-width="0.14">10</text>
<text x="231.60" y="62.92" font-size="6.5" fill="#2b2b2b" text-anchor="end" textLength="3.2" lengthAdjust="spacingAndGlyphs" stroke="#2b2b2b" stroke-width="0.14">1</text>
<text x="231.60" y="72.61" font-size="6.5" fill="#2b2b2b" text-anchor="end" textLength="8.4" lengthAdjust="spacingAndGlyphs" stroke="#2b2b2b" stroke-width="0.14">0.1</text>
<text x="231.60" y="82.30" font-size="6.5" fill="#2b2b2b" text-anchor="end" textLength="12.2" lengthAdjust="spacingAndGlyphs" stroke="#2b2b2b" stroke-width="0.14">0.01</text>
<text x="215.20" y="59.02" font-size="7.4" fill="#2b2b2b" text-anchor="middle" textLength="23.5" lengthAdjust="spacingAndGlyphs" transform="rotate(-90 215.20 59.02)" stroke="#2b2b2b" stroke-width="0.25">VAF (%)</text>
<text x="291.00" y="92.70" font-size="8.8" fill="#2b2b2b" text-anchor="middle" textLength="30.8" lengthAdjust="spacingAndGlyphs" stroke="#2b2b2b" stroke-width="0.3">Mutations</text>
<!-- Pat 11 (7 months prior to relapse at 26 months) -->
<text x="291.20" y="101.20" font-size="6.8" fill="#2b2b2b" text-anchor="middle" textLength="139" lengthAdjust="spacingAndGlyphs" stroke="#2b2b2b" stroke-width="0.14">Pat 11 (7 months prior to relapse at 26 months)</text>
<text x="250.60" y="110.50" font-size="7.0" fill="#2b2b2b" text-anchor="middle" textLength="15" lengthAdjust="spacingAndGlyphs" stroke="#2b2b2b" stroke-width="0.14">MNC</text>
<line x1="237.50" y1="113.65" x2="237.50" y2="156.00" stroke="#484848" stroke-width="0.9"/>
<line x1="237.50" y1="155.50" x2="263.50" y2="155.50" stroke="#484848" stroke-width="0.9"/>
<line x1="235.10" y1="116.25" x2="237.50" y2="116.25" stroke="#484848" stroke-width="0.8"/>
<line x1="235.10" y1="126.06" x2="237.50" y2="126.06" stroke="#484848" stroke-width="0.8"/>
<line x1="235.10" y1="135.88" x2="237.50" y2="135.88" stroke="#484848" stroke-width="0.8"/>
<line x1="235.10" y1="145.69" x2="237.50" y2="145.69" stroke="#484848" stroke-width="0.8"/>
<line x1="235.10" y1="155.50" x2="237.50" y2="155.50" stroke="#484848" stroke-width="0.8"/>
<line x1="236.30" y1="123.11" x2="237.50" y2="123.11" stroke="#484848" stroke-width="0.4" stroke-opacity="0.6"/>
<line x1="236.30" y1="121.38" x2="237.50" y2="121.38" stroke="#484848" stroke-width="0.4" stroke-opacity="0.6"/>
<line x1="236.30" y1="120.15" x2="237.50" y2="120.15" stroke="#484848" stroke-width="0.4" stroke-opacity="0.6"/>
<line x1="236.30" y1="119.20" x2="237.50" y2="119.20" stroke="#484848" stroke-width="0.4" stroke-opacity="0.6"/>
<line x1="236.30" y1="118.43" x2="237.50" y2="118.43" stroke="#484848" stroke-width="0.4" stroke-opacity="0.6"/>
<line x1="236.30" y1="117.77" x2="237.50" y2="117.77" stroke="#484848" stroke-width="0.4" stroke-opacity="0.6"/>
<line x1="236.30" y1="117.20" x2="237.50" y2="117.20" stroke="#484848" stroke-width="0.4" stroke-opacity="0.6"/>
<line x1="236.30" y1="116.70" x2="237.50" y2="116.70" stroke="#484848" stroke-width="0.4" stroke-opacity="0.6"/>
<line x1="236.30" y1="132.92" x2="237.50" y2="132.92" stroke="#484848" stroke-width="0.4" stroke-opacity="0.6"/>
<line x1="236.30" y1="131.19" x2="237.50" y2="131.19" stroke="#484848" stroke-width="0.4" stroke-opacity="0.6"/>
<line x1="236.30" y1="129.97" x2="237.50" y2="129.97" stroke="#484848" stroke-width="0.4" stroke-opacity="0.6"/>
<line x1="236.30" y1="129.02" x2="237.50" y2="129.02" stroke="#484848" stroke-width="0.4" stroke-opacity="0.6"/>
<line x1="236.30" y1="128.24" x2="237.50" y2="128.24" stroke="#484848" stroke-width="0.4" stroke-opacity="0.6"/>
<line x1="236.30" y1="127.58" x2="237.50" y2="127.58" stroke="#484848" stroke-width="0.4" stroke-opacity="0.6"/>
<line x1="236.30" y1="127.01" x2="237.50" y2="127.01" stroke="#484848" stroke-width="0.4" stroke-opacity="0.6"/>
<line x1="236.30" y1="126.51" x2="237.50" y2="126.51" stroke="#484848" stroke-width="0.4" stroke-opacity="0.6"/>
<line x1="236.30" y1="142.73" x2="237.50" y2="142.73" stroke="#484848" stroke-width="0.4" stroke-opacity="0.6"/>
<line x1="236.30" y1="141.01" x2="237.50" y2="141.01" stroke="#484848" stroke-width="0.4" stroke-opacity="0.6"/>
<line x1="236.30" y1="139.78" x2="237.50" y2="139.78" stroke="#484848" stroke-width="0.4" stroke-opacity="0.6"/>
<line x1="236.30" y1="138.83" x2="237.50" y2="138.83" stroke="#484848" stroke-width="0.4" stroke-opacity="0.6"/>
<line x1="236.30" y1="138.05" x2="237.50" y2="138.05" stroke="#484848" stroke-width="0.4" stroke-opacity="0.6"/>
<line x1="236.30" y1="137.39" x2="237.50" y2="137.39" stroke="#484848" stroke-width="0.4" stroke-opacity="0.6"/>
<line x1="236.30" y1="136.83" x2="237.50" y2="136.83" stroke="#484848" stroke-width="0.4" stroke-opacity="0.6"/>
<line x1="236.30" y1="136.32" x2="237.50" y2="136.32" stroke="#484848" stroke-width="0.4" stroke-opacity="0.6"/>
<line x1="236.30" y1="152.55" x2="237.50" y2="152.55" stroke="#484848" stroke-width="0.4" stroke-opacity="0.6"/>
<line x1="236.30" y1="150.82" x2="237.50" y2="150.82" stroke="#484848" stroke-width="0.4" stroke-opacity="0.6"/>
<line x1="236.30" y1="149.59" x2="237.50" y2="149.59" stroke="#484848" stroke-width="0.4" stroke-opacity="0.6"/>
<line x1="236.30" y1="148.64" x2="237.50" y2="148.64" stroke="#484848" stroke-width="0.4" stroke-opacity="0.6"/>
<line x1="236.30" y1="147.86" x2="237.50" y2="147.86" stroke="#484848" stroke-width="0.4" stroke-opacity="0.6"/>
<line x1="236.30" y1="147.21" x2="237.50" y2="147.21" stroke="#484848" stroke-width="0.4" stroke-opacity="0.6"/>
<line x1="236.30" y1="146.64" x2="237.50" y2="146.64" stroke="#484848" stroke-width="0.4" stroke-opacity="0.6"/>
<line x1="236.30" y1="146.14" x2="237.50" y2="146.14" stroke="#484848" stroke-width="0.4" stroke-opacity="0.6"/>
<line x1="250.50" y1="155.50" x2="250.50" y2="158.70" stroke="#8a8a8a" stroke-width="0.6"/>
<text x="290.60" y="110.50" font-size="7.0" fill="#2b2b2b" text-anchor="middle" textLength="20.3" lengthAdjust="spacingAndGlyphs" stroke="#2b2b2b" stroke-width="0.14">CD34+</text>
<line x1="277.50" y1="113.65" x2="277.50" y2="156.00" stroke="#484848" stroke-width="0.9"/>
<line x1="277.50" y1="155.50" x2="303.50" y2="155.50" stroke="#484848" stroke-width="0.9"/>
<line x1="275.10" y1="116.25" x2="277.50" y2="116.25" stroke="#484848" stroke-width="0.8"/>
<line x1="275.10" y1="126.06" x2="277.50" y2="126.06" stroke="#484848" stroke-width="0.8"/>
<line x1="275.10" y1="135.88" x2="277.50" y2="135.88" stroke="#484848" stroke-width="0.8"/>
<line x1="275.10" y1="145.69" x2="277.50" y2="145.69" stroke="#484848" stroke-width="0.8"/>
<line x1="275.10" y1="155.50" x2="277.50" y2="155.50" stroke="#484848" stroke-width="0.8"/>
<line x1="276.30" y1="123.11" x2="277.50" y2="123.11" stroke="#484848" stroke-width="0.4" stroke-opacity="0.6"/>
<line x1="276.30" y1="121.38" x2="277.50" y2="121.38" stroke="#484848" stroke-width="0.4" stroke-opacity="0.6"/>
<line x1="276.30" y1="120.15" x2="277.50" y2="120.15" stroke="#484848" stroke-width="0.4" stroke-opacity="0.6"/>
<line x1="276.30" y1="119.20" x2="277.50" y2="119.20" stroke="#484848" stroke-width="0.4" stroke-opacity="0.6"/>
<line x1="276.30" y1="118.43" x2="277.50" y2="118.43" stroke="#484848" stroke-width="0.4" stroke-opacity="0.6"/>
<line x1="276.30" y1="117.77" x2="277.50" y2="117.77" stroke="#484848" stroke-width="0.4" stroke-opacity="0.6"/>
<line x1="276.30" y1="117.20" x2="277.50" y2="117.20" stroke="#484848" stroke-width="0.4" stroke-opacity="0.6"/>
<line x1="276.30" y1="116.70" x2="277.50" y2="116.70" stroke="#484848" stroke-width="0.4" stroke-opacity="0.6"/>
<line x1="276.30" y1="132.92" x2="277.50" y2="132.92" stroke="#484848" stroke-width="0.4" stroke-opacity="0.6"/>
<line x1="276.30" y1="131.19" x2="277.50" y2="131.19" stroke="#484848" stroke-width="0.4" stroke-opacity="0.6"/>
<line x1="276.30" y1="129.97" x2="277.50" y2="129.97" stroke="#484848" stroke-width="0.4" stroke-opacity="0.6"/>
<line x1="276.30" y1="129.02" x2="277.50" y2="129.02" stroke="#484848" stroke-width="0.4" stroke-opacity="0.6"/>
<line x1="276.30" y1="128.24" x2="277.50" y2="128.24" stroke="#484848" stroke-width="0.4" stroke-opacity="0.6"/>
<line x1="276.30" y1="127.58" x2="277.50" y2="127.58" stroke="#484848" stroke-width="0.4" stroke-opacity="0.6"/>
<line x1="276.30" y1="127.01" x2="277.50" y2="127.01" stroke="#484848" stroke-width="0.4" stroke-opacity="0.6"/>
<line x1="276.30" y1="126.51" x2="277.50" y2="126.51" stroke="#484848" stroke-width="0.4" stroke-opacity="0.6"/>
<line x1="276.30" y1="142.73" x2="277.50" y2="142.73" stroke="#484848" stroke-width="0.4" stroke-opacity="0.6"/>
<line x1="276.30" y1="141.01" x2="277.50" y2="141.01" stroke="#484848" stroke-width="0.4" stroke-opacity="0.6"/>
<line x1="276.30" y1="139.78" x2="277.50" y2="139.78" stroke="#484848" stroke-width="0.4" stroke-opacity="0.6"/>
<line x1="276.30" y1="138.83" x2="277.50" y2="138.83" stroke="#484848" stroke-width="0.4" stroke-opacity="0.6"/>
<line x1="276.30" y1="138.05" x2="277.50" y2="138.05" stroke="#484848" stroke-width="0.4" stroke-opacity="0.6"/>
<line x1="276.30" y1="137.39" x2="277.50" y2="137.39" stroke="#484848" stroke-width="0.4" stroke-opacity="0.6"/>
<line x1="276.30" y1="136.83" x2="277.50" y2="136.83" stroke="#484848" stroke-width="0.4" stroke-opacity="0.6"/>
<line x1="276.30" y1="136.32" x2="277.50" y2="136.32" stroke="#484848" stroke-width="0.4" stroke-opacity="0.6"/>
<line x1="276.30" y1="152.55" x2="277.50" y2="152.55" stroke="#484848" stroke-width="0.4" stroke-opacity="0.6"/>
<line x1="276.30" y1="150.82" x2="277.50" y2="150.82" stroke="#484848" stroke-width="0.4" stroke-opacity="0.6"/>
<line x1="276.30" y1="149.59" x2="277.50" y2="149.59" stroke="#484848" stroke-width="0.4" stroke-opacity="0.6"/>
<line x1="276.30" y1="148.64" x2="277.50" y2="148.64" stroke="#484848" stroke-width="0.4" stroke-opacity="0.6"/>
<line x1="276.30" y1="147.86" x2="277.50" y2="147.86" stroke="#484848" stroke-width="0.4" stroke-opacity="0.6"/>
<line x1="276.30" y1="147.21" x2="277.50" y2="147.21" stroke="#484848" stroke-width="0.4" stroke-opacity="0.6"/>
<line x1="276.30" y1="146.64" x2="277.50" y2="146.64" stroke="#484848" stroke-width="0.4" stroke-opacity="0.6"/>
<line x1="276.30" y1="146.14" x2="277.50" y2="146.14" stroke="#484848" stroke-width="0.4" stroke-opacity="0.6"/>
<line x1="290.50" y1="155.50" x2="290.50" y2="158.70" stroke="#8a8a8a" stroke-width="0.6"/>
<text x="331.70" y="110.50" font-size="7.0" fill="#2b2b2b" text-anchor="middle" textLength="13.2" lengthAdjust="spacingAndGlyphs" stroke="#2b2b2b" stroke-width="0.14">MPP</text>
<line x1="318.60" y1="113.65" x2="318.60" y2="156.00" stroke="#484848" stroke-width="0.9"/>
<line x1="318.60" y1="155.50" x2="344.60" y2="155.50" stroke="#484848" stroke-width="0.9"/>
<line x1="316.20" y1="116.25" x2="318.60" y2="116.25" stroke="#484848" stroke-width="0.8"/>
<line x1="316.20" y1="126.06" x2="318.60" y2="126.06" stroke="#484848" stroke-width="0.8"/>
<line x1="316.20" y1="135.88" x2="318.60" y2="135.88" stroke="#484848" stroke-width="0.8"/>
<line x1="316.20" y1="145.69" x2="318.60" y2="145.69" stroke="#484848" stroke-width="0.8"/>
<line x1="316.20" y1="155.50" x2="318.60" y2="155.50" stroke="#484848" stroke-width="0.8"/>
<line x1="317.40" y1="123.11" x2="318.60" y2="123.11" stroke="#484848" stroke-width="0.4" stroke-opacity="0.6"/>
<line x1="317.40" y1="121.38" x2="318.60" y2="121.38" stroke="#484848" stroke-width="0.4" stroke-opacity="0.6"/>
<line x1="317.40" y1="120.15" x2="318.60" y2="120.15" stroke="#484848" stroke-width="0.4" stroke-opacity="0.6"/>
<line x1="317.40" y1="119.20" x2="318.60" y2="119.20" stroke="#484848" stroke-width="0.4" stroke-opacity="0.6"/>
<line x1="317.40" y1="118.43" x2="318.60" y2="118.43" stroke="#484848" stroke-width="0.4" stroke-opacity="0.6"/>
<line x1="317.40" y1="117.77" x2="318.60" y2="117.77" stroke="#484848" stroke-width="0.4" stroke-opacity="0.6"/>
<line x1="317.40" y1="117.20" x2="318.60" y2="117.20" stroke="#484848" stroke-width="0.4" stroke-opacity="0.6"/>
<line x1="317.40" y1="116.70" x2="318.60" y2="116.70" stroke="#484848" stroke-width="0.4" stroke-opacity="0.6"/>
<line x1="317.40" y1="132.92" x2="318.60" y2="132.92" stroke="#484848" stroke-width="0.4" stroke-opacity="0.6"/>
<line x1="317.40" y1="131.19" x2="318.60" y2="131.19" stroke="#484848" stroke-width="0.4" stroke-opacity="0.6"/>
<line x1="317.40" y1="129.97" x2="318.60" y2="129.97" stroke="#484848" stroke-width="0.4" stroke-opacity="0.6"/>
<line x1="317.40" y1="129.02" x2="318.60" y2="129.02" stroke="#484848" stroke-width="0.4" stroke-opacity="0.6"/>
<line x1="317.40" y1="128.24" x2="318.60" y2="128.24" stroke="#484848" stroke-width="0.4" stroke-opacity="0.6"/>
<line x1="317.40" y1="127.58" x2="318.60" y2="127.58" stroke="#484848" stroke-width="0.4" stroke-opacity="0.6"/>
<line x1="317.40" y1="127.01" x2="318.60" y2="127.01" stroke="#484848" stroke-width="0.4" stroke-opacity="0.6"/>
<line x1="317.40" y1="126.51" x2="318.60" y2="126.51" stroke="#484848" stroke-width="0.4" stroke-opacity="0.6"/>
<line x1="317.40" y1="142.73" x2="318.60" y2="142.73" stroke="#484848" stroke-width="0.4" stroke-opacity="0.6"/>
<line x1="317.40" y1="141.01" x2="318.60" y2="141.01" stroke="#484848" stroke-width="0.4" stroke-opacity="0.6"/>
<line x1="317.40" y1="139.78" x2="318.60" y2="139.78" stroke="#484848" stroke-width="0.4" stroke-opacity="0.6"/>
<line x1="317.40" y1="138.83" x2="318.60" y2="138.83" stroke="#484848" stroke-width="0.4" stroke-opacity="0.6"/>
<line x1="317.40" y1="138.05" x2="318.60" y2="138.05" stroke="#484848" stroke-width="0.4" stroke-opacity="0.6"/>
<line x1="317.40" y1="137.39" x2="318.60" y2="137.39" stroke="#484848" stroke-width="0.4" stroke-opacity="0.6"/>
<line x1="317.40" y1="136.83" x2="318.60" y2="136.83" stroke="#484848" stroke-width="0.4" stroke-opacity="0.6"/>
<line x1="317.40" y1="136.32" x2="318.60" y2="136.32" stroke="#484848" stroke-width="0.4" stroke-opacity="0.6"/>
<line x1="317.40" y1="152.55" x2="318.60" y2="152.55" stroke="#484848" stroke-width="0.4" stroke-opacity="0.6"/>
<line x1="317.40" y1="150.82" x2="318.60" y2="150.82" stroke="#484848" stroke-width="0.4" stroke-opacity="0.6"/>
<line x1="317.40" y1="149.59" x2="318.60" y2="149.59" stroke="#484848" stroke-width="0.4" stroke-opacity="0.6"/>
<line x1="317.40" y1="148.64" x2="318.60" y2="148.64" stroke="#484848" stroke-width="0.4" stroke-opacity="0.6"/>
<line x1="317.40" y1="147.86" x2="318.60" y2="147.86" stroke="#484848" stroke-width="0.4" stroke-opacity="0.6"/>
<line x1="317.40" y1="147.21" x2="318.60" y2="147.21" stroke="#484848" stroke-width="0.4" stroke-opacity="0.6"/>
<line x1="317.40" y1="146.64" x2="318.60" y2="146.64" stroke="#484848" stroke-width="0.4" stroke-opacity="0.6"/>
<line x1="317.40" y1="146.14" x2="318.60" y2="146.14" stroke="#484848" stroke-width="0.4" stroke-opacity="0.6"/>
<line x1="331.60" y1="155.50" x2="331.60" y2="158.70" stroke="#8a8a8a" stroke-width="0.6"/>
<text x="231.60" y="118.55" font-size="6.5" fill="#2b2b2b" text-anchor="end" textLength="9.7" lengthAdjust="spacingAndGlyphs" stroke="#2b2b2b" stroke-width="0.14">100</text>
<text x="231.60" y="128.36" font-size="6.5" fill="#2b2b2b" text-anchor="end" textLength="6.5" lengthAdjust="spacingAndGlyphs" stroke="#2b2b2b" stroke-width="0.14">10</text>
<text x="231.60" y="138.18" font-size="6.5" fill="#2b2b2b" text-anchor="end" textLength="3.2" lengthAdjust="spacingAndGlyphs" stroke="#2b2b2b" stroke-width="0.14">1</text>
<text x="231.60" y="147.99" font-size="6.5" fill="#2b2b2b" text-anchor="end" textLength="8.4" lengthAdjust="spacingAndGlyphs" stroke="#2b2b2b" stroke-width="0.14">0.1</text>
<text x="231.60" y="157.80" font-size="6.5" fill="#2b2b2b" text-anchor="end" textLength="12.2" lengthAdjust="spacingAndGlyphs" stroke="#2b2b2b" stroke-width="0.14">0.01</text>
<text x="215.20" y="134.28" font-size="7.4" fill="#2b2b2b" text-anchor="middle" textLength="23.5" lengthAdjust="spacingAndGlyphs" transform="rotate(-90 215.20 134.28)" stroke="#2b2b2b" stroke-width="0.25">VAF (%)</text>
<text x="291.00" y="167.70" font-size="8.8" fill="#2b2b2b" text-anchor="middle" textLength="30.8" lengthAdjust="spacingAndGlyphs" stroke="#2b2b2b" stroke-width="0.3">Mutations</text>
<!-- Pat 12 (3 months prior to relapse at 6 months) -->
<text x="291.20" y="176.70" font-size="6.8" fill="#2b2b2b" text-anchor="middle" textLength="135.2" lengthAdjust="spacingAndGlyphs" stroke="#2b2b2b" stroke-width="0.14">Pat 12 (3 months prior to relapse at 6 months)</text>
<text x="251.10" y="185.70" font-size="7.0" fill="#2b2b2b" text-anchor="middle" textLength="15" lengthAdjust="spacingAndGlyphs" stroke="#2b2b2b" stroke-width="0.14">MNC</text>
<line x1="238.00" y1="187.40" x2="238.00" y2="228.75" stroke="#484848" stroke-width="0.9"/>
<line x1="238.00" y1="228.25" x2="264.00" y2="228.25" stroke="#484848" stroke-width="0.9"/>
<line x1="235.60" y1="190.00" x2="238.00" y2="190.00" stroke="#484848" stroke-width="0.8"/>
<line x1="235.60" y1="199.56" x2="238.00" y2="199.56" stroke="#484848" stroke-width="0.8"/>
<line x1="235.60" y1="209.12" x2="238.00" y2="209.12" stroke="#484848" stroke-width="0.8"/>
<line x1="235.60" y1="218.69" x2="238.00" y2="218.69" stroke="#484848" stroke-width="0.8"/>
<line x1="235.60" y1="228.25" x2="238.00" y2="228.25" stroke="#484848" stroke-width="0.8"/>
<line x1="236.80" y1="196.68" x2="238.00" y2="196.68" stroke="#484848" stroke-width="0.4" stroke-opacity="0.6"/>
<line x1="236.80" y1="195.00" x2="238.00" y2="195.00" stroke="#484848" stroke-width="0.4" stroke-opacity="0.6"/>
<line x1="236.80" y1="193.81" x2="238.00" y2="193.81" stroke="#484848" stroke-width="0.4" stroke-opacity="0.6"/>
<line x1="236.80" y1="192.88" x2="238.00" y2="192.88" stroke="#484848" stroke-width="0.4" stroke-opacity="0.6"/>
<line x1="236.80" y1="192.12" x2="238.00" y2="192.12" stroke="#484848" stroke-width="0.4" stroke-opacity="0.6"/>
<line x1="236.80" y1="191.48" x2="238.00" y2="191.48" stroke="#484848" stroke-width="0.4" stroke-opacity="0.6"/>
<line x1="236.80" y1="190.93" x2="238.00" y2="190.93" stroke="#484848" stroke-width="0.4" stroke-opacity="0.6"/>
<line x1="236.80" y1="190.44" x2="238.00" y2="190.44" stroke="#484848" stroke-width="0.4" stroke-opacity="0.6"/>
<line x1="236.80" y1="206.25" x2="238.00" y2="206.25" stroke="#484848" stroke-width="0.4" stroke-opacity="0.6"/>
<line x1="236.80" y1="204.56" x2="238.00" y2="204.56" stroke="#484848" stroke-width="0.4" stroke-opacity="0.6"/>
<line x1="236.80" y1="203.37" x2="238.00" y2="203.37" stroke="#484848" stroke-width="0.4" stroke-opacity="0.6"/>
<line x1="236.80" y1="202.44" x2="238.00" y2="202.44" stroke="#484848" stroke-width="0.4" stroke-opacity="0.6"/>
<line x1="236.80" y1="201.68" x2="238.00" y2="201.68" stroke="#484848" stroke-width="0.4" stroke-opacity="0.6"/>
<line x1="236.80" y1="201.04" x2="238.00" y2="201.04" stroke="#484848" stroke-width="0.4" stroke-opacity="0.6"/>
<line x1="236.80" y1="200.49" x2="238.00" y2="200.49" stroke="#484848" stroke-width="0.4" stroke-opacity="0.6"/>
<line x1="236.80" y1="200.00" x2="238.00" y2="200.00" stroke="#484848" stroke-width="0.4" stroke-opacity="0.6"/>
<line x1="236.80" y1="215.81" x2="238.00" y2="215.81" stroke="#484848" stroke-width="0.4" stroke-opacity="0.6"/>
<line x1="236.80" y1="214.13" x2="238.00" y2="214.13" stroke="#484848" stroke-width="0.4" stroke-opacity="0.6"/>
<line x1="236.80" y1="212.93" x2="238.00" y2="212.93" stroke="#484848" stroke-width="0.4" stroke-opacity="0.6"/>
<line x1="236.80" y1="212.00" x2="238.00" y2="212.00" stroke="#484848" stroke-width="0.4" stroke-opacity="0.6"/>
<line x1="236.80" y1="211.25" x2="238.00" y2="211.25" stroke="#484848" stroke-width="0.4" stroke-opacity="0.6"/>
<line x1="236.80" y1="210.61" x2="238.00" y2="210.61" stroke="#484848" stroke-width="0.4" stroke-opacity="0.6"/>
<line x1="236.80" y1="210.05" x2="238.00" y2="210.05" stroke="#484848" stroke-width="0.4" stroke-opacity="0.6"/>
<line x1="236.80" y1="209.56" x2="238.00" y2="209.56" stroke="#484848" stroke-width="0.4" stroke-opacity="0.6"/>
<line x1="236.80" y1="225.37" x2="238.00" y2="225.37" stroke="#484848" stroke-width="0.4" stroke-opacity="0.6"/>
<line x1="236.80" y1="223.69" x2="238.00" y2="223.69" stroke="#484848" stroke-width="0.4" stroke-opacity="0.6"/>
<line x1="236.80" y1="222.49" x2="238.00" y2="222.49" stroke="#484848" stroke-width="0.4" stroke-opacity="0.6"/>
<line x1="236.80" y1="221.57" x2="238.00" y2="221.57" stroke="#484848" stroke-width="0.4" stroke-opacity="0.6"/>
<line x1="236.80" y1="220.81" x2="238.00" y2="220.81" stroke="#484848" stroke-width="0.4" stroke-opacity="0.6"/>
<line x1="236.80" y1="220.17" x2="238.00" y2="220.17" stroke="#484848" stroke-width="0.4" stroke-opacity="0.6"/>
<line x1="236.80" y1="219.61" x2="238.00" y2="219.61" stroke="#484848" stroke-width="0.4" stroke-opacity="0.6"/>
<line x1="236.80" y1="219.13" x2="238.00" y2="219.13" stroke="#484848" stroke-width="0.4" stroke-opacity="0.6"/>
<line x1="251.00" y1="228.25" x2="251.00" y2="231.45" stroke="#8a8a8a" stroke-width="0.6"/>
<text x="291.85" y="185.70" font-size="7.0" fill="#2b2b2b" text-anchor="middle" textLength="20.3" lengthAdjust="spacingAndGlyphs" stroke="#2b2b2b" stroke-width="0.14">CD34+</text>
<line x1="278.75" y1="187.40" x2="278.75" y2="228.75" stroke="#484848" stroke-width="0.9"/>
<line x1="278.75" y1="228.25" x2="304.75" y2="228.25" stroke="#484848" stroke-width="0.9"/>
<line x1="276.35" y1="190.00" x2="278.75" y2="190.00" stroke="#484848" stroke-width="0.8"/>
<line x1="276.35" y1="199.56" x2="278.75" y2="199.56" stroke="#484848" stroke-width="0.8"/>
<line x1="276.35" y1="209.12" x2="278.75" y2="209.12" stroke="#484848" stroke-width="0.8"/>
<line x1="276.35" y1="218.69" x2="278.75" y2="218.69" stroke="#484848" stroke-width="0.8"/>
<line x1="276.35" y1="228.25" x2="278.75" y2="228.25" stroke="#484848" stroke-width="0.8"/>
<line x1="277.55" y1="196.68" x2="278.75" y2="196.68" stroke="#484848" stroke-width="0.4" stroke-opacity="0.6"/>
<line x1="277.55" y1="195.00" x2="278.75" y2="195.00" stroke="#484848" stroke-width="0.4" stroke-opacity="0.6"/>
<line x1="277.55" y1="193.81" x2="278.75" y2="193.81" stroke="#484848" stroke-width="0.4" stroke-opacity="0.6"/>
<line x1="277.55" y1="192.88" x2="278.75" y2="192.88" stroke="#484848" stroke-width="0.4" stroke-opacity="0.6"/>
<line x1="277.55" y1="192.12" x2="278.75" y2="192.12" stroke="#484848" stroke-width="0.4" stroke-opacity="0.6"/>
<line x1="277.55" y1="191.48" x2="278.75" y2="191.48" stroke="#484848" stroke-width="0.4" stroke-opacity="0.6"/>
<line x1="277.55" y1="190.93" x2="278.75" y2="190.93" stroke="#484848" stroke-width="0.4" stroke-opacity="0.6"/>
<line x1="277.55" y1="190.44" x2="278.75" y2="190.44" stroke="#484848" stroke-width="0.4" stroke-opacity="0.6"/>
<line x1="277.55" y1="206.25" x2="278.75" y2="206.25" stroke="#484848" stroke-width="0.4" stroke-opacity="0.6"/>
<line x1="277.55" y1="204.56" x2="278.75" y2="204.56" stroke="#484848" stroke-width="0.4" stroke-opacity="0.6"/>
<line x1="277.55" y1="203.37" x2="278.75" y2="203.37" stroke="#484848" stroke-width="0.4" stroke-opacity="0.6"/>
<line x1="277.55" y1="202.44" x2="278.75" y2="202.44" stroke="#484848" stroke-width="0.4" stroke-opacity="0.6"/>
<line x1="277.55" y1="201.68" x2="278.75" y2="201.68" stroke="#484848" stroke-width="0.4" stroke-opacity="0.6"/>
<line x1="277.55" y1="201.04" x2="278.75" y2="201.04" stroke="#484848" stroke-width="0.4" stroke-opacity="0.6"/>
<line x1="277.55" y1="200.49" x2="278.75" y2="200.49" stroke="#484848" stroke-width="0.4" stroke-opacity="0.6"/>
<line x1="277.55" y1="200.00" x2="278.75" y2="200.00" stroke="#484848" stroke-width="0.4" stroke-opacity="0.6"/>
<line x1="277.55" y1="215.81" x2="278.75" y2="215.81" stroke="#484848" stroke-width="0.4" stroke-opacity="0.6"/>
<line x1="277.55" y1="214.13" x2="278.75" y2="214.13" stroke="#484848" stroke-width="0.4" stroke-opacity="0.6"/>
<line x1="277.55" y1="212.93" x2="278.75" y2="212.93" stroke="#484848" stroke-width="0.4" stroke-opacity="0.6"/>
<line x1="277.55" y1="212.00" x2="278.75" y2="212.00" stroke="#484848" stroke-width="0.4" stroke-opacity="0.6"/>
<line x1="277.55" y1="211.25" x2="278.75" y2="211.25" stroke="#484848" stroke-width="0.4" stroke-opacity="0.6"/>
<line x1="277.55" y1="210.61" x2="278.75" y2="210.61" stroke="#484848" stroke-width="0.4" stroke-opacity="0.6"/>
<line x1="277.55" y1="210.05" x2="278.75" y2="210.05" stroke="#484848" stroke-width="0.4" stroke-opacity="0.6"/>
<line x1="277.55" y1="209.56" x2="278.75" y2="209.56" stroke="#484848" stroke-width="0.4" stroke-opacity="0.6"/>
<line x1="277.55" y1="225.37" x2="278.75" y2="225.37" stroke="#484848" stroke-width="0.4" stroke-opacity="0.6"/>
<line x1="277.55" y1="223.69" x2="278.75" y2="223.69" stroke="#484848" stroke-width="0.4" stroke-opacity="0.6"/>
<line x1="277.55" y1="222.49" x2="278.75" y2="222.49" stroke="#484848" stroke-width="0.4" stroke-opacity="0.6"/>
<line x1="277.55" y1="221.57" x2="278.75" y2="221.57" stroke="#484848" stroke-width="0.4" stroke-opacity="0.6"/>
<line x1="277.55" y1="220.81" x2="278.75" y2="220.81" stroke="#484848" stroke-width="0.4" stroke-opacity="0.6"/>
<line x1="277.55" y1="220.17" x2="278.75" y2="220.17" stroke="#484848" stroke-width="0.4" stroke-opacity="0.6"/>
<line x1="277.55" y1="219.61" x2="278.75" y2="219.61" stroke="#484848" stroke-width="0.4" stroke-opacity="0.6"/>
<line x1="277.55" y1="219.13" x2="278.75" y2="219.13" stroke="#484848" stroke-width="0.4" stroke-opacity="0.6"/>
<line x1="291.75" y1="228.25" x2="291.75" y2="231.45" stroke="#8a8a8a" stroke-width="0.6"/>
<text x="333.00" y="185.70" font-size="7.0" fill="#2b2b2b" text-anchor="middle" textLength="13.2" lengthAdjust="spacingAndGlyphs" stroke="#2b2b2b" stroke-width="0.14">MPP</text>
<line x1="319.90" y1="187.40" x2="319.90" y2="228.75" stroke="#484848" stroke-width="0.9"/>
<line x1="319.90" y1="228.25" x2="345.90" y2="228.25" stroke="#484848" stroke-width="0.9"/>
<line x1="317.50" y1="190.00" x2="319.90" y2="190.00" stroke="#484848" stroke-width="0.8"/>
<line x1="317.50" y1="199.56" x2="319.90" y2="199.56" stroke="#484848" stroke-width="0.8"/>
<line x1="317.50" y1="209.12" x2="319.90" y2="209.12" stroke="#484848" stroke-width="0.8"/>
<line x1="317.50" y1="218.69" x2="319.90" y2="218.69" stroke="#484848" stroke-width="0.8"/>
<line x1="317.50" y1="228.25" x2="319.90" y2="228.25" stroke="#484848" stroke-width="0.8"/>
<line x1="318.70" y1="196.68" x2="319.90" y2="196.68" stroke="#484848" stroke-width="0.4" stroke-opacity="0.6"/>
<line x1="318.70" y1="195.00" x2="319.90" y2="195.00" stroke="#484848" stroke-width="0.4" stroke-opacity="0.6"/>
<line x1="318.70" y1="193.81" x2="319.90" y2="193.81" stroke="#484848" stroke-width="0.4" stroke-opacity="0.6"/>
<line x1="318.70" y1="192.88" x2="319.90" y2="192.88" stroke="#484848" stroke-width="0.4" stroke-opacity="0.6"/>
<line x1="318.70" y1="192.12" x2="319.90" y2="192.12" stroke="#484848" stroke-width="0.4" stroke-opacity="0.6"/>
<line x1="318.70" y1="191.48" x2="319.90" y2="191.48" stroke="#484848" stroke-width="0.4" stroke-opacity="0.6"/>
<line x1="318.70" y1="190.93" x2="319.90" y2="190.93" stroke="#484848" stroke-width="0.4" stroke-opacity="0.6"/>
<line x1="318.70" y1="190.44" x2="319.90" y2="190.44" stroke="#484848" stroke-width="0.4" stroke-opacity="0.6"/>
<line x1="318.70" y1="206.25" x2="319.90" y2="206.25" stroke="#484848" stroke-width="0.4" stroke-opacity="0.6"/>
<line x1="318.70" y1="204.56" x2="319.90" y2="204.56" stroke="#484848" stroke-width="0.4" stroke-opacity="0.6"/>
<line x1="318.70" y1="203.37" x2="319.90" y2="203.37" stroke="#484848" stroke-width="0.4" stroke-opacity="0.6"/>
<line x1="318.70" y1="202.44" x2="319.90" y2="202.44" stroke="#484848" stroke-width="0.4" stroke-opacity="0.6"/>
<line x1="318.70" y1="201.68" x2="319.90" y2="201.68" stroke="#484848" stroke-width="0.4" stroke-opacity="0.6"/>
<line x1="318.70" y1="201.04" x2="319.90" y2="201.04" stroke="#484848" stroke-width="0.4" stroke-opacity="0.6"/>
<line x1="318.70" y1="200.49" x2="319.90" y2="200.49" stroke="#484848" stroke-width="0.4" stroke-opacity="0.6"/>
<line x1="318.70" y1="200.00" x2="319.90" y2="200.00" stroke="#484848" stroke-width="0.4" stroke-opacity="0.6"/>
<line x1="318.70" y1="215.81" x2="319.90" y2="215.81" stroke="#484848" stroke-width="0.4" stroke-opacity="0.6"/>
<line x1="318.70" y1="214.13" x2="319.90" y2="214.13" stroke="#484848" stroke-width="0.4" stroke-opacity="0.6"/>
<line x1="318.70" y1="212.93" x2="319.90" y2="212.93" stroke="#484848" stroke-width="0.4" stroke-opacity="0.6"/>
<line x1="318.70" y1="212.00" x2="319.90" y2="212.00" stroke="#484848" stroke-width="0.4" stroke-opacity="0.6"/>
<line x1="318.70" y1="211.25" x2="319.90" y2="211.25" stroke="#484848" stroke-width="0.4" stroke-opacity="0.6"/>
<line x1="318.70" y1="210.61" x2="319.90" y2="210.61" stroke="#484848" stroke-width="0.4" stroke-opacity="0.6"/>
<line x1="318.70" y1="210.05" x2="319.90" y2="210.05" stroke="#484848" stroke-width="0.4" stroke-opacity="0.6"/>
<line x1="318.70" y1="209.56" x2="319.90" y2="209.56" stroke="#484848" stroke-width="0.4" stroke-opacity="0.6"/>
<line x1="318.70" y1="225.37" x2="319.90" y2="225.37" stroke="#484848" stroke-width="0.4" stroke-opacity="0.6"/>
<line x1="318.70" y1="223.69" x2="319.90" y2="223.69" stroke="#484848" stroke-width="0.4" stroke-opacity="0.6"/>
<line x1="318.70" y1="222.49" x2="319.90" y2="222.49" stroke="#484848" stroke-width="0.4" stroke-opacity="0.6"/>
<line x1="318.70" y1="221.57" x2="319.90" y2="221.57" stroke="#484848" stroke-width="0.4" stroke-opacity="0.6"/>
<line x1="318.70" y1="220.81" x2="319.90" y2="220.81" stroke="#484848" stroke-width="0.4" stroke-opacity="0.6"/>
<line x1="318.70" y1="220.17" x2="319.90" y2="220.17" stroke="#484848" stroke-width="0.4" stroke-opacity="0.6"/>
<line x1="318.70" y1="219.61" x2="319.90" y2="219.61" stroke="#484848" stroke-width="0.4" stroke-opacity="0.6"/>
<line x1="318.70" y1="219.13" x2="319.90" y2="219.13" stroke="#484848" stroke-width="0.4" stroke-opacity="0.6"/>
<line x1="332.90" y1="228.25" x2="332.90" y2="231.45" stroke="#8a8a8a" stroke-width="0.6"/>
<text x="232.10" y="192.30" font-size="6.5" fill="#2b2b2b" text-anchor="end" textLength="9.7" lengthAdjust="spacingAndGlyphs" stroke="#2b2b2b" stroke-width="0.14">100</text>
<text x="232.10" y="201.86" font-size="6.5" fill="#2b2b2b" text-anchor="end" textLength="6.5" lengthAdjust="spacingAndGlyphs" stroke="#2b2b2b" stroke-width="0.14">10</text>
<text x="232.10" y="211.43" font-size="6.5" fill="#2b2b2b" text-anchor="end" textLength="3.2" lengthAdjust="spacingAndGlyphs" stroke="#2b2b2b" stroke-width="0.14">1</text>
<text x="232.10" y="220.99" font-size="6.5" fill="#2b2b2b" text-anchor="end" textLength="8.4" lengthAdjust="spacingAndGlyphs" stroke="#2b2b2b" stroke-width="0.14">0.1</text>
<text x="232.10" y="230.55" font-size="6.5" fill="#2b2b2b" text-anchor="end" textLength="12.2" lengthAdjust="spacingAndGlyphs" stroke="#2b2b2b" stroke-width="0.14">0.01</text>
<text x="215.20" y="207.53" font-size="7.4" fill="#2b2b2b" text-anchor="middle" textLength="23.5" lengthAdjust="spacingAndGlyphs" transform="rotate(-90 215.20 207.53)" stroke="#2b2b2b" stroke-width="0.25">VAF (%)</text>
<text x="292.25" y="240.70" font-size="8.8" fill="#2b2b2b" text-anchor="middle" textLength="30.8" lengthAdjust="spacingAndGlyphs" stroke="#2b2b2b" stroke-width="0.3">Mutations</text>
<!-- Pat 13 (2 months prior to relapse at 4 months) -->
<text x="291.20" y="247.50" font-size="6.8" fill="#2b2b2b" text-anchor="middle" textLength="134.5" lengthAdjust="spacingAndGlyphs" stroke="#2b2b2b" stroke-width="0.14">Pat 13 (2 months prior to relapse at 4 months)</text>
<text x="251.35" y="258.00" font-size="7.0" fill="#2b2b2b" text-anchor="middle" textLength="15" lengthAdjust="spacingAndGlyphs" stroke="#2b2b2b" stroke-width="0.14">MNC</text>
<line x1="238.25" y1="260.40" x2="238.25" y2="301.50" stroke="#484848" stroke-width="0.9"/>
<line x1="238.25" y1="301.00" x2="264.25" y2="301.00" stroke="#484848" stroke-width="0.9"/>
<line x1="235.85" y1="263.00" x2="238.25" y2="263.00" stroke="#484848" stroke-width="0.8"/>
<line x1="235.85" y1="272.50" x2="238.25" y2="272.50" stroke="#484848" stroke-width="0.8"/>
<line x1="235.85" y1="282.00" x2="238.25" y2="282.00" stroke="#484848" stroke-width="0.8"/>
<line x1="235.85" y1="291.50" x2="238.25" y2="291.50" stroke="#484848" stroke-width="0.8"/>
<line x1="235.85" y1="301.00" x2="238.25" y2="301.00" stroke="#484848" stroke-width="0.8"/>
<line x1="237.05" y1="269.64" x2="238.25" y2="269.64" stroke="#484848" stroke-width="0.4" stroke-opacity="0.6"/>
<line x1="237.05" y1="267.97" x2="238.25" y2="267.97" stroke="#484848" stroke-width="0.4" stroke-opacity="0.6"/>
<line x1="237.05" y1="266.78" x2="238.25" y2="266.78" stroke="#484848" stroke-width="0.4" stroke-opacity="0.6"/>
<line x1="237.05" y1="265.86" x2="238.25" y2="265.86" stroke="#484848" stroke-width="0.4" stroke-opacity="0.6"/>
<line x1="237.05" y1="265.11" x2="238.25" y2="265.11" stroke="#484848" stroke-width="0.4" stroke-opacity="0.6"/>
<line x1="237.05" y1="264.47" x2="238.25" y2="264.47" stroke="#484848" stroke-width="0.4" stroke-opacity="0.6"/>
<line x1="237.05" y1="263.92" x2="238.25" y2="263.92" stroke="#484848" stroke-width="0.4" stroke-opacity="0.6"/>
<line x1="237.05" y1="263.43" x2="238.25" y2="263.43" stroke="#484848" stroke-width="0.4" stroke-opacity="0.6"/>
<line x1="237.05" y1="279.14" x2="238.25" y2="279.14" stroke="#484848" stroke-width="0.4" stroke-opacity="0.6"/>
<line x1="237.05" y1="277.47" x2="238.25" y2="277.47" stroke="#484848" stroke-width="0.4" stroke-opacity="0.6"/>
<line x1="237.05" y1="276.28" x2="238.25" y2="276.28" stroke="#484848" stroke-width="0.4" stroke-opacity="0.6"/>
<line x1="237.05" y1="275.36" x2="238.25" y2="275.36" stroke="#484848" stroke-width="0.4" stroke-opacity="0.6"/>
<line x1="237.05" y1="274.61" x2="238.25" y2="274.61" stroke="#484848" stroke-width="0.4" stroke-opacity="0.6"/>
<line x1="237.05" y1="273.97" x2="238.25" y2="273.97" stroke="#484848" stroke-width="0.4" stroke-opacity="0.6"/>
<line x1="237.05" y1="273.42" x2="238.25" y2="273.42" stroke="#484848" stroke-width="0.4" stroke-opacity="0.6"/>
<line x1="237.05" y1="272.93" x2="238.25" y2="272.93" stroke="#484848" stroke-width="0.4" stroke-opacity="0.6"/>
<line x1="237.05" y1="288.64" x2="238.25" y2="288.64" stroke="#484848" stroke-width="0.4" stroke-opacity="0.6"/>
<line x1="237.05" y1="286.97" x2="238.25" y2="286.97" stroke="#484848" stroke-width="0.4" stroke-opacity="0.6"/>
<line x1="237.05" y1="285.78" x2="238.25" y2="285.78" stroke="#484848" stroke-width="0.4" stroke-opacity="0.6"/>
<line x1="237.05" y1="284.86" x2="238.25" y2="284.86" stroke="#484848" stroke-width="0.4" stroke-opacity="0.6"/>
<line x1="237.05" y1="284.11" x2="238.25" y2="284.11" stroke="#484848" stroke-width="0.4" stroke-opacity="0.6"/>
<line x1="237.05" y1="283.47" x2="238.25" y2="283.47" stroke="#484848" stroke-width="0.4" stroke-opacity="0.6"/>
<line x1="237.05" y1="282.92" x2="238.25" y2="282.92" stroke="#484848" stroke-width="0.4" stroke-opacity="0.6"/>
<line x1="237.05" y1="282.43" x2="238.25" y2="282.43" stroke="#484848" stroke-width="0.4" stroke-opacity="0.6"/>
<line x1="237.05" y1="298.14" x2="238.25" y2="298.14" stroke="#484848" stroke-width="0.4" stroke-opacity="0.6"/>
<line x1="237.05" y1="296.47" x2="238.25" y2="296.47" stroke="#484848" stroke-width="0.4" stroke-opacity="0.6"/>
<line x1="237.05" y1="295.28" x2="238.25" y2="295.28" stroke="#484848" stroke-width="0.4" stroke-opacity="0.6"/>
<line x1="237.05" y1="294.36" x2="238.25" y2="294.36" stroke="#484848" stroke-width="0.4" stroke-opacity="0.6"/>
<line x1="237.05" y1="293.61" x2="238.25" y2="293.61" stroke="#484848" stroke-width="0.4" stroke-opacity="0.6"/>
<line x1="237.05" y1="292.97" x2="238.25" y2="292.97" stroke="#484848" stroke-width="0.4" stroke-opacity="0.6"/>
<line x1="237.05" y1="292.42" x2="238.25" y2="292.42" stroke="#484848" stroke-width="0.4" stroke-opacity="0.6"/>
<line x1="237.05" y1="291.93" x2="238.25" y2="291.93" stroke="#484848" stroke-width="0.4" stroke-opacity="0.6"/>
<line x1="251.25" y1="301.00" x2="251.25" y2="304.20" stroke="#8a8a8a" stroke-width="0.6"/>
<text x="291.85" y="258.00" font-size="7.0" fill="#2b2b2b" text-anchor="middle" textLength="20.3" lengthAdjust="spacingAndGlyphs" stroke="#2b2b2b" stroke-width="0.14">CD34+</text>
<line x1="278.75" y1="260.40" x2="278.75" y2="301.50" stroke="#484848" stroke-width="0.9"/>
<line x1="278.75" y1="301.00" x2="304.75" y2="301.00" stroke="#484848" stroke-width="0.9"/>
<line x1="276.35" y1="263.00" x2="278.75" y2="263.00" stroke="#484848" stroke-width="0.8"/>
<line x1="276.35" y1="272.50" x2="278.75" y2="272.50" stroke="#484848" stroke-width="0.8"/>
<line x1="276.35" y1="282.00" x2="278.75" y2="282.00" stroke="#484848" stroke-width="0.8"/>
<line x1="276.35" y1="291.50" x2="278.75" y2="291.50" stroke="#484848" stroke-width="0.8"/>
<line x1="276.35" y1="301.00" x2="278.75" y2="301.00" stroke="#484848" stroke-width="0.8"/>
<line x1="277.55" y1="269.64" x2="278.75" y2="269.64" stroke="#484848" stroke-width="0.4" stroke-opacity="0.6"/>
<line x1="277.55" y1="267.97" x2="278.75" y2="267.97" stroke="#484848" stroke-width="0.4" stroke-opacity="0.6"/>
<line x1="277.55" y1="266.78" x2="278.75" y2="266.78" stroke="#484848" stroke-width="0.4" stroke-opacity="0.6"/>
<line x1="277.55" y1="265.86" x2="278.75" y2="265.86" stroke="#484848" stroke-width="0.4" stroke-opacity="0.6"/>
<line x1="277.55" y1="265.11" x2="278.75" y2="265.11" stroke="#484848" stroke-width="0.4" stroke-opacity="0.6"/>
<line x1="277.55" y1="264.47" x2="278.75" y2="264.47" stroke="#484848" stroke-width="0.4" stroke-opacity="0.6"/>
<line x1="277.55" y1="263.92" x2="278.75" y2="263.92" stroke="#484848" stroke-width="0.4" stroke-opacity="0.6"/>
<line x1="277.55" y1="263.43" x2="278.75" y2="263.43" stroke="#484848" stroke-width="0.4" stroke-opacity="0.6"/>
<line x1="277.55" y1="279.14" x2="278.75" y2="279.14" stroke="#484848" stroke-width="0.4" stroke-opacity="0.6"/>
<line x1="277.55" y1="277.47" x2="278.75" y2="277.47" stroke="#484848" stroke-width="0.4" stroke-opacity="0.6"/>
<line x1="277.55" y1="276.28" x2="278.75" y2="276.28" stroke="#484848" stroke-width="0.4" stroke-opacity="0.6"/>
<line x1="277.55" y1="275.36" x2="278.75" y2="275.36" stroke="#484848" stroke-width="0.4" stroke-opacity="0.6"/>
<line x1="277.55" y1="274.61" x2="278.75" y2="274.61" stroke="#484848" stroke-width="0.4" stroke-opacity="0.6"/>
<line x1="277.55" y1="273.97" x2="278.75" y2="273.97" stroke="#484848" stroke-width="0.4" stroke-opacity="0.6"/>
<line x1="277.55" y1="273.42" x2="278.75" y2="273.42" stroke="#484848" stroke-width="0.4" stroke-opacity="0.6"/>
<line x1="277.55" y1="272.93" x2="278.75" y2="272.93" stroke="#484848" stroke-width="0.4" stroke-opacity="0.6"/>
<line x1="277.55" y1="288.64" x2="278.75" y2="288.64" stroke="#484848" stroke-width="0.4" stroke-opacity="0.6"/>
<line x1="277.55" y1="286.97" x2="278.75" y2="286.97" stroke="#484848" stroke-width="0.4" stroke-opacity="0.6"/>
<line x1="277.55" y1="285.78" x2="278.75" y2="285.78" stroke="#484848" stroke-width="0.4" stroke-opacity="0.6"/>
<line x1="277.55" y1="284.86" x2="278.75" y2="284.86" stroke="#484848" stroke-width="0.4" stroke-opacity="0.6"/>
<line x1="277.55" y1="284.11" x2="278.75" y2="284.11" stroke="#484848" stroke-width="0.4" stroke-opacity="0.6"/>
<line x1="277.55" y1="283.47" x2="278.75" y2="283.47" stroke="#484848" stroke-width="0.4" stroke-opacity="0.6"/>
<line x1="277.55" y1="282.92" x2="278.75" y2="282.92" stroke="#484848" stroke-width="0.4" stroke-opacity="0.6"/>
<line x1="277.55" y1="282.43" x2="278.75" y2="282.43" stroke="#484848" stroke-width="0.4" stroke-opacity="0.6"/>
<line x1="277.55" y1="298.14" x2="278.75" y2="298.14" stroke="#484848" stroke-width="0.4" stroke-opacity="0.6"/>
<line x1="277.55" y1="296.47" x2="278.75" y2="296.47" stroke="#484848" stroke-width="0.4" stroke-opacity="0.6"/>
<line x1="277.55" y1="295.28" x2="278.75" y2="295.28" stroke="#484848" stroke-width="0.4" stroke-opacity="0.6"/>
<line x1="277.55" y1="294.36" x2="278.75" y2="294.36" stroke="#484848" stroke-width="0.4" stroke-opacity="0.6"/>
<line x1="277.55" y1="293.61" x2="278.75" y2="293.61" stroke="#484848" stroke-width="0.4" stroke-opacity="0.6"/>
<line x1="277.55" y1="292.97" x2="278.75" y2="292.97" stroke="#484848" stroke-width="0.4" stroke-opacity="0.6"/>
<line x1="277.55" y1="292.42" x2="278.75" y2="292.42" stroke="#484848" stroke-width="0.4" stroke-opacity="0.6"/>
<line x1="277.55" y1="291.93" x2="278.75" y2="291.93" stroke="#484848" stroke-width="0.4" stroke-opacity="0.6"/>
<line x1="291.75" y1="301.00" x2="291.75" y2="304.20" stroke="#8a8a8a" stroke-width="0.6"/>
<text x="333.40" y="258.00" font-size="7.0" fill="#2b2b2b" text-anchor="middle" textLength="14.5" lengthAdjust="spacingAndGlyphs" stroke="#2b2b2b" stroke-width="0.14">GMP</text>
<line x1="320.30" y1="260.40" x2="320.30" y2="301.50" stroke="#484848" stroke-width="0.9"/>
<line x1="320.30" y1="301.00" x2="346.30" y2="301.00" stroke="#484848" stroke-width="0.9"/>
<line x1="317.90" y1="263.00" x2="320.30" y2="263.00" stroke="#484848" stroke-width="0.8"/>
<line x1="317.90" y1="272.50" x2="320.30" y2="272.50" stroke="#484848" stroke-width="0.8"/>
<line x1="317.90" y1="282.00" x2="320.30" y2="282.00" stroke="#484848" stroke-width="0.8"/>
<line x1="317.90" y1="291.50" x2="320.30" y2="291.50" stroke="#484848" stroke-width="0.8"/>
<line x1="317.90" y1="301.00" x2="320.30" y2="301.00" stroke="#484848" stroke-width="0.8"/>
<line x1="319.10" y1="269.64" x2="320.30" y2="269.64" stroke="#484848" stroke-width="0.4" stroke-opacity="0.6"/>
<line x1="319.10" y1="267.97" x2="320.30" y2="267.97" stroke="#484848" stroke-width="0.4" stroke-opacity="0.6"/>
<line x1="319.10" y1="266.78" x2="320.30" y2="266.78" stroke="#484848" stroke-width="0.4" stroke-opacity="0.6"/>
<line x1="319.10" y1="265.86" x2="320.30" y2="265.86" stroke="#484848" stroke-width="0.4" stroke-opacity="0.6"/>
<line x1="319.10" y1="265.11" x2="320.30" y2="265.11" stroke="#484848" stroke-width="0.4" stroke-opacity="0.6"/>
<line x1="319.10" y1="264.47" x2="320.30" y2="264.47" stroke="#484848" stroke-width="0.4" stroke-opacity="0.6"/>
<line x1="319.10" y1="263.92" x2="320.30" y2="263.92" stroke="#484848" stroke-width="0.4" stroke-opacity="0.6"/>
<line x1="319.10" y1="263.43" x2="320.30" y2="263.43" stroke="#484848" stroke-width="0.4" stroke-opacity="0.6"/>
<line x1="319.10" y1="279.14" x2="320.30" y2="279.14" stroke="#484848" stroke-width="0.4" stroke-opacity="0.6"/>
<line x1="319.10" y1="277.47" x2="320.30" y2="277.47" stroke="#484848" stroke-width="0.4" stroke-opacity="0.6"/>
<line x1="319.10" y1="276.28" x2="320.30" y2="276.28" stroke="#484848" stroke-width="0.4" stroke-opacity="0.6"/>
<line x1="319.10" y1="275.36" x2="320.30" y2="275.36" stroke="#484848" stroke-width="0.4" stroke-opacity="0.6"/>
<line x1="319.10" y1="274.61" x2="320.30" y2="274.61" stroke="#484848" stroke-width="0.4" stroke-opacity="0.6"/>
<line x1="319.10" y1="273.97" x2="320.30" y2="273.97" stroke="#484848" stroke-width="0.4" stroke-opacity="0.6"/>
<line x1="319.10" y1="273.42" x2="320.30" y2="273.42" stroke="#484848" stroke-width="0.4" stroke-opacity="0.6"/>
<line x1="319.10" y1="272.93" x2="320.30" y2="272.93" stroke="#484848" stroke-width="0.4" stroke-opacity="0.6"/>
<line x1="319.10" y1="288.64" x2="320.30" y2="288.64" stroke="#484848" stroke-width="0.4" stroke-opacity="0.6"/>
<line x1="319.10" y1="286.97" x2="320.30" y2="286.97" stroke="#484848" stroke-width="0.4" stroke-opacity="0.6"/>
<line x1="319.10" y1="285.78" x2="320.30" y2="285.78" stroke="#484848" stroke-width="0.4" stroke-opacity="0.6"/>
<line x1="319.10" y1="284.86" x2="320.30" y2="284.86" stroke="#484848" stroke-width="0.4" stroke-opacity="0.6"/>
<line x1="319.10" y1="284.11" x2="320.30" y2="284.11" stroke="#484848" stroke-width="0.4" stroke-opacity="0.6"/>
<line x1="319.10" y1="283.47" x2="320.30" y2="283.47" stroke="#484848" stroke-width="0.4" stroke-opacity="0.6"/>
<line x1="319.10" y1="282.92" x2="320.30" y2="282.92" stroke="#484848" stroke-width="0.4" stroke-opacity="0.6"/>
<line x1="319.10" y1="282.43" x2="320.30" y2="282.43" stroke="#484848" stroke-width="0.4" stroke-opacity="0.6"/>
<line x1="319.10" y1="298.14" x2="320.30" y2="298.14" stroke="#484848" stroke-width="0.4" stroke-opacity="0.6"/>
<line x1="319.10" y1="296.47" x2="320.30" y2="296.47" stroke="#484848" stroke-width="0.4" stroke-opacity="0.6"/>
<line x1="319.10" y1="295.28" x2="320.30" y2="295.28" stroke="#484848" stroke-width="0.4" stroke-opacity="0.6"/>
<line x1="319.10" y1="294.36" x2="320.30" y2="294.36" stroke="#484848" stroke-width="0.4" stroke-opacity="0.6"/>
<line x1="319.10" y1="293.61" x2="320.30" y2="293.61" stroke="#484848" stroke-width="0.4" stroke-opacity="0.6"/>
<line x1="319.10" y1="292.97" x2="320.30" y2="292.97" stroke="#484848" stroke-width="0.4" stroke-opacity="0.6"/>
<line x1="319.10" y1="292.42" x2="320.30" y2="292.42" stroke="#484848" stroke-width="0.4" stroke-opacity="0.6"/>
<line x1="319.10" y1="291.93" x2="320.30" y2="291.93" stroke="#484848" stroke-width="0.4" stroke-opacity="0.6"/>
<line x1="333.30" y1="301.00" x2="333.30" y2="304.20" stroke="#8a8a8a" stroke-width="0.6"/>
<text x="232.35" y="265.30" font-size="6.5" fill="#2b2b2b" text-anchor="end" textLength="9.7" lengthAdjust="spacingAndGlyphs" stroke="#2b2b2b" stroke-width="0.14">100</text>
<text x="232.35" y="274.80" font-size="6.5" fill="#2b2b2b" text-anchor="end" textLength="6.5" lengthAdjust="spacingAndGlyphs" stroke="#2b2b2b" stroke-width="0.14">10</text>
<text x="232.35" y="284.30" font-size="6.5" fill="#2b2b2b" text-anchor="end" textLength="3.2" lengthAdjust="spacingAndGlyphs" stroke="#2b2b2b" stroke-width="0.14">1</text>
<text x="232.35" y="293.80" font-size="6.5" fill="#2b2b2b" text-anchor="end" textLength="8.4" lengthAdjust="spacingAndGlyphs" stroke="#2b2b2b" stroke-width="0.14">0.1</text>
<text x="232.35" y="303.30" font-size="6.5" fill="#2b2b2b" text-anchor="end" textLength="12.2" lengthAdjust="spacingAndGlyphs" stroke="#2b2b2b" stroke-width="0.14">0.01</text>
<text x="215.20" y="280.40" font-size="7.4" fill="#2b2b2b" text-anchor="middle" textLength="23.5" lengthAdjust="spacingAndGlyphs" transform="rotate(-90 215.20 280.40)" stroke="#2b2b2b" stroke-width="0.25">VAF (%)</text>
<text x="292.25" y="314.00" font-size="8.8" fill="#2b2b2b" text-anchor="middle" textLength="30.8" lengthAdjust="spacingAndGlyphs" stroke="#2b2b2b" stroke-width="0.3">Mutations</text>
<!-- Pat 14 (2 months prior to relapse at 5 months) -->
<text x="291.20" y="326.00" font-size="6.8" fill="#2b2b2b" text-anchor="middle" textLength="135.3" lengthAdjust="spacingAndGlyphs" stroke="#2b2b2b" stroke-width="0.14">Pat 14 (2 months prior to relapse at 5 months)</text>
<text x="251.85" y="336.00" font-size="7.0" fill="#2b2b2b" text-anchor="middle" textLength="15" lengthAdjust="spacingAndGlyphs" stroke="#2b2b2b" stroke-width="0.14">MNC</text>
<line x1="238.75" y1="338.90" x2="238.75" y2="380.00" stroke="#484848" stroke-width="0.9"/>
<line x1="238.75" y1="379.50" x2="264.75" y2="379.50" stroke="#484848" stroke-width="0.9"/>
<line x1="236.35" y1="341.50" x2="238.75" y2="341.50" stroke="#484848" stroke-width="0.8"/>
<line x1="236.35" y1="351.00" x2="238.75" y2="351.00" stroke="#484848" stroke-width="0.8"/>
<line x1="236.35" y1="360.50" x2="238.75" y2="360.50" stroke="#484848" stroke-width="0.8"/>
<line x1="236.35" y1="370.00" x2="238.75" y2="370.00" stroke="#484848" stroke-width="0.8"/>
<line x1="236.35" y1="379.50" x2="238.75" y2="379.50" stroke="#484848" stroke-width="0.8"/>
<line x1="237.55" y1="348.14" x2="238.75" y2="348.14" stroke="#484848" stroke-width="0.4" stroke-opacity="0.6"/>
<line x1="237.55" y1="346.47" x2="238.75" y2="346.47" stroke="#484848" stroke-width="0.4" stroke-opacity="0.6"/>
<line x1="237.55" y1="345.28" x2="238.75" y2="345.28" stroke="#484848" stroke-width="0.4" stroke-opacity="0.6"/>
<line x1="237.55" y1="344.36" x2="238.75" y2="344.36" stroke="#484848" stroke-width="0.4" stroke-opacity="0.6"/>
<line x1="237.55" y1="343.61" x2="238.75" y2="343.61" stroke="#484848" stroke-width="0.4" stroke-opacity="0.6"/>
<line x1="237.55" y1="342.97" x2="238.75" y2="342.97" stroke="#484848" stroke-width="0.4" stroke-opacity="0.6"/>
<line x1="237.55" y1="342.42" x2="238.75" y2="342.42" stroke="#484848" stroke-width="0.4" stroke-opacity="0.6"/>
<line x1="237.55" y1="341.93" x2="238.75" y2="341.93" stroke="#484848" stroke-width="0.4" stroke-opacity="0.6"/>
<line x1="237.55" y1="357.64" x2="238.75" y2="357.64" stroke="#484848" stroke-width="0.4" stroke-opacity="0.6"/>
<line x1="237.55" y1="355.97" x2="238.75" y2="355.97" stroke="#484848" stroke-width="0.4" stroke-opacity="0.6"/>
<line x1="237.55" y1="354.78" x2="238.75" y2="354.78" stroke="#484848" stroke-width="0.4" stroke-opacity="0.6"/>
<line x1="237.55" y1="353.86" x2="238.75" y2="353.86" stroke="#484848" stroke-width="0.4" stroke-opacity="0.6"/>
<line x1="237.55" y1="353.11" x2="238.75" y2="353.11" stroke="#484848" stroke-width="0.4" stroke-opacity="0.6"/>
<line x1="237.55" y1="352.47" x2="238.75" y2="352.47" stroke="#484848" stroke-width="0.4" stroke-opacity="0.6"/>
<line x1="237.55" y1="351.92" x2="238.75" y2="351.92" stroke="#484848" stroke-width="0.4" stroke-opacity="0.6"/>
<line x1="237.55" y1="351.43" x2="238.75" y2="351.43" stroke="#484848" stroke-width="0.4" stroke-opacity="0.6"/>
<line x1="237.55" y1="367.14" x2="238.75" y2="367.14" stroke="#484848" stroke-width="0.4" stroke-opacity="0.6"/>
<line x1="237.55" y1="365.47" x2="238.75" y2="365.47" stroke="#484848" stroke-width="0.4" stroke-opacity="0.6"/>
<line x1="237.55" y1="364.28" x2="238.75" y2="364.28" stroke="#484848" stroke-width="0.4" stroke-opacity="0.6"/>
<line x1="237.55" y1="363.36" x2="238.75" y2="363.36" stroke="#484848" stroke-width="0.4" stroke-opacity="0.6"/>
<line x1="237.55" y1="362.61" x2="238.75" y2="362.61" stroke="#484848" stroke-width="0.4" stroke-opacity="0.6"/>
<line x1="237.55" y1="361.97" x2="238.75" y2="361.97" stroke="#484848" stroke-width="0.4" stroke-opacity="0.6"/>
<line x1="237.55" y1="361.42" x2="238.75" y2="361.42" stroke="#484848" stroke-width="0.4" stroke-opacity="0.6"/>
<line x1="237.55" y1="360.93" x2="238.75" y2="360.93" stroke="#484848" stroke-width="0.4" stroke-opacity="0.6"/>
<line x1="237.55" y1="376.64" x2="238.75" y2="376.64" stroke="#484848" stroke-width="0.4" stroke-opacity="0.6"/>
<line x1="237.55" y1="374.97" x2="238.75" y2="374.97" stroke="#484848" stroke-width="0.4" stroke-opacity="0.6"/>
<line x1="237.55" y1="373.78" x2="238.75" y2="373.78" stroke="#484848" stroke-width="0.4" stroke-opacity="0.6"/>
<line x1="237.55" y1="372.86" x2="238.75" y2="372.86" stroke="#484848" stroke-width="0.4" stroke-opacity="0.6"/>
<line x1="237.55" y1="372.11" x2="238.75" y2="372.11" stroke="#484848" stroke-width="0.4" stroke-opacity="0.6"/>
<line x1="237.55" y1="371.47" x2="238.75" y2="371.47" stroke="#484848" stroke-width="0.4" stroke-opacity="0.6"/>
<line x1="237.55" y1="370.92" x2="238.75" y2="370.92" stroke="#484848" stroke-width="0.4" stroke-opacity="0.6"/>
<line x1="237.55" y1="370.43" x2="238.75" y2="370.43" stroke="#484848" stroke-width="0.4" stroke-opacity="0.6"/>
<line x1="251.75" y1="379.50" x2="251.75" y2="382.70" stroke="#8a8a8a" stroke-width="0.6"/>
<text x="292.35" y="336.00" font-size="7.0" fill="#2b2b2b" text-anchor="middle" textLength="20.3" lengthAdjust="spacingAndGlyphs" stroke="#2b2b2b" stroke-width="0.14">CD34+</text>
<line x1="279.25" y1="338.90" x2="279.25" y2="380.00" stroke="#484848" stroke-width="0.9"/>
<line x1="279.25" y1="379.50" x2="305.25" y2="379.50" stroke="#484848" stroke-width="0.9"/>
<line x1="276.85" y1="341.50" x2="279.25" y2="341.50" stroke="#484848" stroke-width="0.8"/>
<line x1="276.85" y1="351.00" x2="279.25" y2="351.00" stroke="#484848" stroke-width="0.8"/>
<line x1="276.85" y1="360.50" x2="279.25" y2="360.50" stroke="#484848" stroke-width="0.8"/>
<line x1="276.85" y1="370.00" x2="279.25" y2="370.00" stroke="#484848" stroke-width="0.8"/>
<line x1="276.85" y1="379.50" x2="279.25" y2="379.50" stroke="#484848" stroke-width="0.8"/>
<line x1="278.05" y1="348.14" x2="279.25" y2="348.14" stroke="#484848" stroke-width="0.4" stroke-opacity="0.6"/>
<line x1="278.05" y1="346.47" x2="279.25" y2="346.47" stroke="#484848" stroke-width="0.4" stroke-opacity="0.6"/>
<line x1="278.05" y1="345.28" x2="279.25" y2="345.28" stroke="#484848" stroke-width="0.4" stroke-opacity="0.6"/>
<line x1="278.05" y1="344.36" x2="279.25" y2="344.36" stroke="#484848" stroke-width="0.4" stroke-opacity="0.6"/>
<line x1="278.05" y1="343.61" x2="279.25" y2="343.61" stroke="#484848" stroke-width="0.4" stroke-opacity="0.6"/>
<line x1="278.05" y1="342.97" x2="279.25" y2="342.97" stroke="#484848" stroke-width="0.4" stroke-opacity="0.6"/>
<line x1="278.05" y1="342.42" x2="279.25" y2="342.42" stroke="#484848" stroke-width="0.4" stroke-opacity="0.6"/>
<line x1="278.05" y1="341.93" x2="279.25" y2="341.93" stroke="#484848" stroke-width="0.4" stroke-opacity="0.6"/>
<line x1="278.05" y1="357.64" x2="279.25" y2="357.64" stroke="#484848" stroke-width="0.4" stroke-opacity="0.6"/>
<line x1="278.05" y1="355.97" x2="279.25" y2="355.97" stroke="#484848" stroke-width="0.4" stroke-opacity="0.6"/>
<line x1="278.05" y1="354.78" x2="279.25" y2="354.78" stroke="#484848" stroke-width="0.4" stroke-opacity="0.6"/>
<line x1="278.05" y1="353.86" x2="279.25" y2="353.86" stroke="#484848" stroke-width="0.4" stroke-opacity="0.6"/>
<line x1="278.05" y1="353.11" x2="279.25" y2="353.11" stroke="#484848" stroke-width="0.4" stroke-opacity="0.6"/>
<line x1="278.05" y1="352.47" x2="279.25" y2="352.47" stroke="#484848" stroke-width="0.4" stroke-opacity="0.6"/>
<line x1="278.05" y1="351.92" x2="279.25" y2="351.92" stroke="#484848" stroke-width="0.4" stroke-opacity="0.6"/>
<line x1="278.05" y1="351.43" x2="279.25" y2="351.43" stroke="#484848" stroke-width="0.4" stroke-opacity="0.6"/>
<line x1="278.05" y1="367.14" x2="279.25" y2="367.14" stroke="#484848" stroke-width="0.4" stroke-opacity="0.6"/>
<line x1="278.05" y1="365.47" x2="279.25" y2="365.47" stroke="#484848" stroke-width="0.4" stroke-opacity="0.6"/>
<line x1="278.05" y1="364.28" x2="279.25" y2="364.28" stroke="#484848" stroke-width="0.4" stroke-opacity="0.6"/>
<line x1="278.05" y1="363.36" x2="279.25" y2="363.36" stroke="#484848" stroke-width="0.4" stroke-opacity="0.6"/>
<line x1="278.05" y1="362.61" x2="279.25" y2="362.61" stroke="#484848" stroke-width="0.4" stroke-opacity="0.6"/>
<line x1="278.05" y1="361.97" x2="279.25" y2="361.97" stroke="#484848" stroke-width="0.4" stroke-opacity="0.6"/>
<line x1="278.05" y1="361.42" x2="279.25" y2="361.42" stroke="#484848" stroke-width="0.4" stroke-opacity="0.6"/>
<line x1="278.05" y1="360.93" x2="279.25" y2="360.93" stroke="#484848" stroke-width="0.4" stroke-opacity="0.6"/>
<line x1="278.05" y1="376.64" x2="279.25" y2="376.64" stroke="#484848" stroke-width="0.4" stroke-opacity="0.6"/>
<line x1="278.05" y1="374.97" x2="279.25" y2="374.97" stroke="#484848" stroke-width="0.4" stroke-opacity="0.6"/>
<line x1="278.05" y1="373.78" x2="279.25" y2="373.78" stroke="#484848" stroke-width="0.4" stroke-opacity="0.6"/>
<line x1="278.05" y1="372.86" x2="279.25" y2="372.86" stroke="#484848" stroke-width="0.4" stroke-opacity="0.6"/>
<line x1="278.05" y1="372.11" x2="279.25" y2="372.11" stroke="#484848" stroke-width="0.4" stroke-opacity="0.6"/>
<line x1="278.05" y1="371.47" x2="279.25" y2="371.47" stroke="#484848" stroke-width="0.4" stroke-opacity="0.6"/>
<line x1="278.05" y1="370.92" x2="279.25" y2="370.92" stroke="#484848" stroke-width="0.4" stroke-opacity="0.6"/>
<line x1="278.05" y1="370.43" x2="279.25" y2="370.43" stroke="#484848" stroke-width="0.4" stroke-opacity="0.6"/>
<line x1="292.25" y1="379.50" x2="292.25" y2="382.70" stroke="#8a8a8a" stroke-width="0.6"/>
<text x="333.30" y="336.00" font-size="7.0" fill="#2b2b2b" text-anchor="middle" textLength="16.5" lengthAdjust="spacingAndGlyphs" stroke="#2b2b2b" stroke-width="0.14">LMPP</text>
<line x1="320.20" y1="338.90" x2="320.20" y2="380.00" stroke="#484848" stroke-width="0.9"/>
<line x1="320.20" y1="379.50" x2="346.20" y2="379.50" stroke="#484848" stroke-width="0.9"/>
<line x1="317.80" y1="341.50" x2="320.20" y2="341.50" stroke="#484848" stroke-width="0.8"/>
<line x1="317.80" y1="351.00" x2="320.20" y2="351.00" stroke="#484848" stroke-width="0.8"/>
<line x1="317.80" y1="360.50" x2="320.20" y2="360.50" stroke="#484848" stroke-width="0.8"/>
<line x1="317.80" y1="370.00" x2="320.20" y2="370.00" stroke="#484848" stroke-width="0.8"/>
<line x1="317.80" y1="379.50" x2="320.20" y2="379.50" stroke="#484848" stroke-width="0.8"/>
<line x1="319.00" y1="348.14" x2="320.20" y2="348.14" stroke="#484848" stroke-width="0.4" stroke-opacity="0.6"/>
<line x1="319.00" y1="346.47" x2="320.20" y2="346.47" stroke="#484848" stroke-width="0.4" stroke-opacity="0.6"/>
<line x1="319.00" y1="345.28" x2="320.20" y2="345.28" stroke="#484848" stroke-width="0.4" stroke-opacity="0.6"/>
<line x1="319.00" y1="344.36" x2="320.20" y2="344.36" stroke="#484848" stroke-width="0.4" stroke-opacity="0.6"/>
<line x1="319.00" y1="343.61" x2="320.20" y2="343.61" stroke="#484848" stroke-width="0.4" stroke-opacity="0.6"/>
<line x1="319.00" y1="342.97" x2="320.20" y2="342.97" stroke="#484848" stroke-width="0.4" stroke-opacity="0.6"/>
<line x1="319.00" y1="342.42" x2="320.20" y2="342.42" stroke="#484848" stroke-width="0.4" stroke-opacity="0.6"/>
<line x1="319.00" y1="341.93" x2="320.20" y2="341.93" stroke="#484848" stroke-width="0.4" stroke-opacity="0.6"/>
<line x1="319.00" y1="357.64" x2="320.20" y2="357.64" stroke="#484848" stroke-width="0.4" stroke-opacity="0.6"/>
<line x1="319.00" y1="355.97" x2="320.20" y2="355.97" stroke="#484848" stroke-width="0.4" stroke-opacity="0.6"/>
<line x1="319.00" y1="354.78" x2="320.20" y2="354.78" stroke="#484848" stroke-width="0.4" stroke-opacity="0.6"/>
<line x1="319.00" y1="353.86" x2="320.20" y2="353.86" stroke="#484848" stroke-width="0.4" stroke-opacity="0.6"/>
<line x1="319.00" y1="353.11" x2="320.20" y2="353.11" stroke="#484848" stroke-width="0.4" stroke-opacity="0.6"/>
<line x1="319.00" y1="352.47" x2="320.20" y2="352.47" stroke="#484848" stroke-width="0.4" stroke-opacity="0.6"/>
<line x1="319.00" y1="351.92" x2="320.20" y2="351.92" stroke="#484848" stroke-width="0.4" stroke-opacity="0.6"/>
<line x1="319.00" y1="351.43" x2="320.20" y2="351.43" stroke="#484848" stroke-width="0.4" stroke-opacity="0.6"/>
<line x1="319.00" y1="367.14" x2="320.20" y2="367.14" stroke="#484848" stroke-width="0.4" stroke-opacity="0.6"/>
<line x1="319.00" y1="365.47" x2="320.20" y2="365.47" stroke="#484848" stroke-width="0.4" stroke-opacity="0.6"/>
<line x1="319.00" y1="364.28" x2="320.20" y2="364.28" stroke="#484848" stroke-width="0.4" stroke-opacity="0.6"/>
<line x1="319.00" y1="363.36" x2="320.20" y2="363.36" stroke="#484848" stroke-width="0.4" stroke-opacity="0.6"/>
<line x1="319.00" y1="362.61" x2="320.20" y2="362.61" stroke="#484848" stroke-width="0.4" stroke-opacity="0.6"/>
<line x1="319.00" y1="361.97" x2="320.20" y2="361.97" stroke="#484848" stroke-width="0.4" stroke-opacity="0.6"/>
<line x1="319.00" y1="361.42" x2="320.20" y2="361.42" stroke="#484848" stroke-width="0.4" stroke-opacity="0.6"/>
<line x1="319.00" y1="360.93" x2="320.20" y2="360.93" stroke="#484848" stroke-width="0.4" stroke-opacity="0.6"/>
<line x1="319.00" y1="376.64" x2="320.20" y2="376.64" stroke="#484848" stroke-width="0.4" stroke-opacity="0.6"/>
<line x1="319.00" y1="374.97" x2="320.20" y2="374.97" stroke="#484848" stroke-width="0.4" stroke-opacity="0.6"/>
<line x1="319.00" y1="373.78" x2="320.20" y2="373.78" stroke="#484848" stroke-width="0.4" stroke-opacity="0.6"/>
<line x1="319.00" y1="372.86" x2="320.20" y2="372.86" stroke="#484848" stroke-width="0.4" stroke-opacity="0.6"/>
<line x1="319.00" y1="372.11" x2="320.20" y2="372.11" stroke="#484848" stroke-width="0.4" stroke-opacity="0.6"/>
<line x1="319.00" y1="371.47" x2="320.20" y2="371.47" stroke="#484848" stroke-width="0.4" stroke-opacity="0.6"/>
<line x1="319.00" y1="370.92" x2="320.20" y2="370.92" stroke="#484848" stroke-width="0.4" stroke-opacity="0.6"/>
<line x1="319.00" y1="370.43" x2="320.20" y2="370.43" stroke="#484848" stroke-width="0.4" stroke-opacity="0.6"/>
<line x1="333.20" y1="379.50" x2="333.20" y2="382.70" stroke="#8a8a8a" stroke-width="0.6"/>
<text x="232.85" y="343.80" font-size="6.5" fill="#2b2b2b" text-anchor="end" textLength="9.7" lengthAdjust="spacingAndGlyphs" stroke="#2b2b2b" stroke-width="0.14">100</text>
<text x="232.85" y="353.30" font-size="6.5" fill="#2b2b2b" text-anchor="end" textLength="6.5" lengthAdjust="spacingAndGlyphs" stroke="#2b2b2b" stroke-width="0.14">10</text>
<text x="232.85" y="362.80" font-size="6.5" fill="#2b2b2b" text-anchor="end" textLength="3.2" lengthAdjust="spacingAndGlyphs" stroke="#2b2b2b" stroke-width="0.14">1</text>
<text x="232.85" y="372.30" font-size="6.5" fill="#2b2b2b" text-anchor="end" textLength="8.4" lengthAdjust="spacingAndGlyphs" stroke="#2b2b2b" stroke-width="0.14">0.1</text>
<text x="232.85" y="381.80" font-size="6.5" fill="#2b2b2b" text-anchor="end" textLength="12.2" lengthAdjust="spacingAndGlyphs" stroke="#2b2b2b" stroke-width="0.14">0.01</text>
<text x="215.20" y="358.90" font-size="7.4" fill="#2b2b2b" text-anchor="middle" textLength="23.5" lengthAdjust="spacingAndGlyphs" transform="rotate(-90 215.20 358.90)" stroke="#2b2b2b" stroke-width="0.25">VAF (%)</text>
<text x="292.75" y="391.20" font-size="8.8" fill="#2b2b2b" text-anchor="middle" textLength="30.8" lengthAdjust="spacingAndGlyphs" stroke="#2b2b2b" stroke-width="0.3">Mutations</text>
<line x1="61.40" y1="66.20" x2="61.40" y2="73.30" stroke="#5a7a5a" stroke-width="0.8"/>
<line x1="59.90" y1="73.30" x2="62.90" y2="73.30" stroke="#5a7a5a" stroke-width="0.8"/>
<circle cx="61.40" cy="66.20" r="2.4" fill="#3a943f"/>
<line x1="86.90" y1="59.40" x2="99.70" y2="59.40" stroke="#555" stroke-width="0.9"/>
<line x1="100.00" y1="59.50" x2="113.00" y2="59.50" stroke="#222" stroke-width="1" stroke-dasharray="1 1"/>
<circle cx="99.70" cy="59.20" r="2.2" fill="#1b3d63"/>
<circle cx="138.00" cy="55.60" r="2.2" fill="#1b3d63"/>
<circle cx="158.10" cy="55.60" r="1.4" fill="#111"/>
<text x="162.80" y="57.90" font-size="6.3" fill="#2b2b2b" textLength="16.1" lengthAdjust="spacingAndGlyphs" font-style="italic" stroke="#2b2b2b" stroke-width="0.14">KRAS</text>
<line x1="55.60" y1="150.00" x2="55.60" y2="146.30" stroke="#c4163c" stroke-width="0.8"/>
<line x1="53.10" y1="146.30" x2="58.10" y2="146.30" stroke="#c4163c" stroke-width="0.8"/>
<line x1="55.60" y1="150.00" x2="55.60" y2="156.30" stroke="#c4163c" stroke-width="0.8"/>
<circle cx="55.60" cy="150.00" r="2.2" fill="#c4163c"/>
<rect x="63.26" y="154.21" width="4.18" height="4.18" fill="#c4163c"/>
<line x1="86.00" y1="148.50" x2="113.00" y2="148.50" stroke="#1e2a40" stroke-width="1" stroke-dasharray="1 1"/>
<line x1="94.10" y1="140.00" x2="94.10" y2="144.00" stroke="#6f8fb0" stroke-width="0.8"/>
<line x1="92.60" y1="144.00" x2="95.60" y2="144.00" stroke="#6f8fb0" stroke-width="0.8"/>
<circle cx="94.10" cy="140.00" r="2.2" fill="#1b3d63"/>
<rect x="101.41" y="141.61" width="4.18" height="4.18" fill="#3a943f"/>
<circle cx="133.50" cy="127.10" r="2.2" fill="#1b3d63"/>
<rect x="141.41" y="127.91" width="4.18" height="4.18" fill="#1b3d63"/>
<circle cx="159.00" cy="126.60" r="1.4" fill="#111"/>
<text x="163.00" y="128.90" font-size="6.3" fill="#2b2b2b" textLength="25.4" lengthAdjust="spacingAndGlyphs" font-style="italic" stroke="#2b2b2b" stroke-width="0.14">BCORL1</text>
<rect x="157.70" y="134.20" width="2.6" height="2.6" fill="#111"/>
<text x="163.00" y="137.80" font-size="6.3" fill="#2b2b2b" textLength="14.3" lengthAdjust="spacingAndGlyphs" font-style="italic" stroke="#2b2b2b" stroke-width="0.14">FLT3</text>
<line x1="54.90" y1="225.80" x2="54.90" y2="221.20" stroke="#c4163c" stroke-width="0.8"/>
<line x1="53.15" y1="221.20" x2="56.65" y2="221.20" stroke="#c4163c" stroke-width="0.8"/>
<circle cx="54.90" cy="225.80" r="2.2" fill="#c4163c"/>
<rect x="62.21" y="226.81" width="4.18" height="4.18" fill="#c4163c"/>
<line x1="86.00" y1="210.50" x2="111.00" y2="210.50" stroke="#1e2a40" stroke-width="1" stroke-dasharray="1 1"/>
<line x1="92.80" y1="215.80" x2="92.80" y2="223.40" stroke="#555" stroke-width="0.8"/>
<line x1="91.05" y1="223.40" x2="94.55" y2="223.40" stroke="#555" stroke-width="0.8"/>
<circle cx="92.80" cy="215.80" r="2.2" fill="#1b3d63"/>
<line x1="102.60" y1="217.70" x2="102.60" y2="228.50" stroke="#7ac07a" stroke-width="0.8"/>
<rect x="100.51" y="215.61" width="4.18" height="4.18" fill="#3a943f"/>
<circle cx="132.30" cy="203.10" r="2.2" fill="#1b3d63"/>
<rect x="140.41" y="201.91" width="4.18" height="4.18" fill="#1b3d63"/>
<circle cx="158.70" cy="200.30" r="1.4" fill="#111"/>
<text x="163.20" y="202.60" font-size="6.3" fill="#2b2b2b" textLength="19.4" lengthAdjust="spacingAndGlyphs" font-style="italic" stroke="#2b2b2b" stroke-width="0.14">STAG2</text>
<circle cx="158.70" cy="209.70" r="1.4" fill="#111"/>
<text x="163.20" y="212.00" font-size="6.3" fill="#2b2b2b" textLength="14.8" lengthAdjust="spacingAndGlyphs" font-style="italic" stroke="#2b2b2b" stroke-width="0.14">TET2</text>
<line x1="59.70" y1="293.10" x2="59.70" y2="297.00" stroke="#5a7a5a" stroke-width="0.8"/>
<line x1="58.20" y1="297.00" x2="61.20" y2="297.00" stroke="#5a7a5a" stroke-width="0.8"/>
<circle cx="59.70" cy="293.10" r="2.4" fill="#3a943f"/>
<line x1="85.10" y1="286.40" x2="96.00" y2="286.40" stroke="#555" stroke-width="0.9"/>
<line x1="96.00" y1="286.50" x2="111.00" y2="286.50" stroke="#222" stroke-width="1" stroke-dasharray="1 1"/>
<circle cx="97.70" cy="291.80" r="2.2" fill="#1b3d63"/>
<circle cx="137.90" cy="274.50" r="2.2" fill="#1b3d63"/>
<circle cx="157.70" cy="280.00" r="1.4" fill="#111"/>
<text x="163.20" y="282.30" font-size="6.3" fill="#2b2b2b" textLength="14.3" lengthAdjust="spacingAndGlyphs" font-style="italic" stroke="#2b2b2b" stroke-width="0.14">TP53</text>
<line x1="99.00" y1="369.50" x2="112.00" y2="369.50" stroke="#6a6a80" stroke-width="1" stroke-dasharray="1 1"/>
<line x1="85.10" y1="369.30" x2="99.00" y2="369.30" stroke="#8fb0d8" stroke-width="0.8"/>
<line x1="53.10" y1="372.20" x2="53.10" y2="379.20" stroke="#c4163c" stroke-width="0.8"/>
<circle cx="53.10" cy="372.20" r="2.2" fill="#c4163c"/>
<line x1="59.70" y1="374.50" x2="59.70" y2="379.00" stroke="#7ac07a" stroke-width="0.8"/>
<rect x="57.61" y="372.41" width="4.18" height="4.18" fill="#3a943f"/>
<line x1="66.90" y1="373.40" x2="66.90" y2="370.30" stroke="#c4163c" stroke-width="0.8"/>
<line x1="65.15" y1="370.30" x2="68.65" y2="370.30" stroke="#c4163c" stroke-width="0.8"/>
<line x1="66.90" y1="373.40" x2="66.90" y2="379.20" stroke="#c4163c" stroke-width="0.8"/>
<polygon points="66.90,371.31 69.21,375.46 64.59,375.46" fill="#c4163c"/>
<circle cx="91.20" cy="367.70" r="2.2" fill="#1b3d63"/>
<rect x="96.41" y="367.11" width="4.18" height="4.18" fill="#1b3d63"/>
<line x1="105.80" y1="373.40" x2="105.80" y2="379.20" stroke="#c4163c" stroke-width="0.8"/>
<polygon points="105.80,371.31 108.11,375.46 103.49,375.46" fill="#c4163c"/>
<circle cx="131.30" cy="359.10" r="2.2" fill="#1b3d63"/>
<rect x="136.61" y="348.51" width="4.18" height="4.18" fill="#1b3d63"/>
<polygon points="145.80,353.61 148.11,357.76 143.49,357.76" fill="#1b3d63"/>
<circle cx="157.70" cy="345.70" r="1.4" fill="#111"/>
<text x="163.00" y="348.00" font-size="6.3" fill="#2b2b2b" textLength="14.3" lengthAdjust="spacingAndGlyphs" font-style="italic" stroke="#2b2b2b" stroke-width="0.14">TP53</text>
<rect x="156.40" y="352.90" width="2.6" height="2.6" fill="#111"/>
<text x="163.00" y="356.50" font-size="6.3" fill="#2b2b2b" textLength="9.5" lengthAdjust="spacingAndGlyphs" font-style="italic" stroke="#2b2b2b" stroke-width="0.14">KIT</text>
<polygon points="157.70,360.58 159.20,363.28 156.20,363.28" fill="#111"/>
<text x="163.00" y="364.50" font-size="6.3" fill="#2b2b2b" textLength="19.6" lengthAdjust="spacingAndGlyphs" font-style="italic" stroke="#2b2b2b" stroke-width="0.14">U2AF1</text>
<circle cx="243.00" cy="57.00" r="2.2" fill="#1b3d63"/>
<rect x="248.41" y="54.91" width="4.18" height="4.18" fill="#1b3d63"/>
<polygon points="257.50,55.91 259.81,60.06 255.19,60.06" fill="#1b3d63"/>
<line x1="278.00" y1="54.50" x2="304.00" y2="54.50" stroke="#1e2a40" stroke-width="1" stroke-dasharray="1 1"/>
<circle cx="283.75" cy="58.75" r="2.2" fill="#1b3d63"/>
<rect x="289.16" y="56.66" width="4.18" height="4.18" fill="#1b3d63"/>
<polygon points="298.25,57.91 300.56,62.06 295.94,62.06" fill="#1b3d63"/>
<circle cx="323.60" cy="46.00" r="2.2" fill="#1b3d63"/>
<rect x="328.91" y="43.41" width="4.18" height="4.18" fill="#1b3d63"/>
<polygon points="338.00,44.71 340.31,48.86 335.69,48.86" fill="#1b3d63"/>
<circle cx="350.20" cy="47.90" r="1.4" fill="#111"/>
<text x="355.10" y="50.20" font-size="6.3" fill="#2b2b2b" textLength="18.6" lengthAdjust="spacingAndGlyphs" font-style="italic" stroke="#2b2b2b" stroke-width="0.14">SRSF2</text>
<rect x="348.90" y="55.20" width="2.6" height="2.6" fill="#111"/>
<text x="355.10" y="58.80" font-size="6.3" fill="#2b2b2b" textLength="19.6" lengthAdjust="spacingAndGlyphs" font-style="italic" stroke="#2b2b2b" stroke-width="0.14">RUNX1</text>
<polygon points="350.20,63.78 351.70,66.48 348.70,66.48" fill="#111"/>
<text x="355.10" y="67.70" font-size="6.3" fill="#2b2b2b" textLength="15" lengthAdjust="spacingAndGlyphs" font-style="italic" stroke="#2b2b2b" stroke-width="0.14">IDH2</text>
<circle cx="250.50" cy="133.00" r="2.2" fill="#1b3d63"/>
<line x1="278.00" y1="124.50" x2="304.00" y2="124.50" stroke="#222" stroke-width="1" stroke-dasharray="1 1"/>
<circle cx="290.75" cy="124.50" r="2.2" fill="#1b3d63"/>
<circle cx="331.80" cy="117.90" r="2.2" fill="#1b3d63"/>
<circle cx="349.70" cy="128.00" r="1.4" fill="#111"/>
<text x="355.20" y="130.30" font-size="6.3" fill="#2b2b2b" textLength="14.3" lengthAdjust="spacingAndGlyphs" font-style="italic" stroke="#2b2b2b" stroke-width="0.14">TP53</text>
<line x1="247.00" y1="213.75" x2="247.00" y2="221.25" stroke="#5a7a5a" stroke-width="0.8"/>
<line x1="245.50" y1="221.25" x2="248.50" y2="221.25" stroke="#5a7a5a" stroke-width="0.8"/>
<circle cx="247.00" cy="213.75" r="2.3" fill="#3a943f"/>
<rect x="254.16" y="202.91" width="4.18" height="4.18" fill="#1b3d63"/>
<line x1="279.00" y1="204.50" x2="305.00" y2="204.50" stroke="#1e2a40" stroke-width="1" stroke-dasharray="1 1"/>
<circle cx="287.50" cy="206.25" r="2.2" fill="#1b3d63"/>
<rect x="294.91" y="202.41" width="4.18" height="4.18" fill="#1b3d63"/>
<circle cx="328.00" cy="196.60" r="2.2" fill="#1b3d63"/>
<rect x="335.21" y="194.71" width="4.18" height="4.18" fill="#1b3d63"/>
<circle cx="349.70" cy="196.80" r="1.4" fill="#111"/>
<text x="355.20" y="199.10" font-size="6.3" fill="#2b2b2b" textLength="14.3" lengthAdjust="spacingAndGlyphs" font-style="italic" stroke="#2b2b2b" stroke-width="0.14">TP53</text>
<rect x="348.40" y="203.00" width="2.6" height="2.6" fill="#111"/>
<text x="355.20" y="206.60" font-size="6.3" fill="#2b2b2b" textLength="27.3" lengthAdjust="spacingAndGlyphs" font-style="italic" stroke="#2b2b2b" stroke-width="0.14">DNMT3A</text>
<circle cx="251.25" cy="273.00" r="2.2" fill="#1b3d63"/>
<line x1="280.00" y1="271.50" x2="305.00" y2="271.50" stroke="#1e2a40" stroke-width="1" stroke-dasharray="1 1"/>
<circle cx="292.00" cy="272.50" r="2.2" fill="#1b3d63"/>
<circle cx="333.00" cy="264.10" r="2.2" fill="#1b3d63"/>
<circle cx="350.40" cy="272.80" r="1.4" fill="#111"/>
<text x="355.20" y="275.10" font-size="6.3" fill="#2b2b2b" textLength="19.4" lengthAdjust="spacingAndGlyphs" font-style="italic" stroke="#2b2b2b" stroke-width="0.14">STAG2</text>
<circle cx="252.00" cy="355.75" r="2.2" fill="#1b3d63"/>
<line x1="279.00" y1="353.50" x2="292.00" y2="353.50" stroke="#1e2a40" stroke-width="1" stroke-dasharray="1 1"/>
<line x1="292.00" y1="353.50" x2="306.00" y2="353.50" stroke="#b09080" stroke-width="1" stroke-dasharray="1 1"/>
<circle cx="292.50" cy="353.50" r="2.2" fill="#1b3d63"/>
<circle cx="332.90" cy="342.70" r="2.2" fill="#1b3d63"/>
<circle cx="350.40" cy="352.60" r="1.4" fill="#111"/>
<text x="355.40" y="354.90" font-size="6.3" fill="#2b2b2b" textLength="14.3" lengthAdjust="spacingAndGlyphs" font-style="italic" stroke="#2b2b2b" stroke-width="0.14">TP53</text>
<line x1="431.40" y1="33.80" x2="431.40" y2="145.60" stroke="#222" stroke-width="1.3"/>
<line x1="431.40" y1="145.00" x2="513.00" y2="145.00" stroke="#222" stroke-width="1.3"/>
<line x1="428.40" y1="44.40" x2="431.40" y2="44.40" stroke="#222" stroke-width="0.9"/>
<text x="425.90" y="46.80" font-size="6.8" fill="#2b2b2b" text-anchor="end" textLength="9.894" lengthAdjust="spacingAndGlyphs" stroke="#2b2b2b" stroke-width="0.14">100</text>
<line x1="428.40" y1="68.40" x2="431.40" y2="68.40" stroke="#222" stroke-width="0.9"/>
<text x="425.90" y="70.80" font-size="6.8" fill="#2b2b2b" text-anchor="end" textLength="6.63" lengthAdjust="spacingAndGlyphs" stroke="#2b2b2b" stroke-width="0.14">10</text>
<line x1="428.40" y1="92.40" x2="431.40" y2="92.40" stroke="#222" stroke-width="0.9"/>
<text x="425.90" y="94.80" font-size="6.8" fill="#2b2b2b" text-anchor="end" textLength="3.2640000000000002" lengthAdjust="spacingAndGlyphs" stroke="#2b2b2b" stroke-width="0.14">1</text>
<line x1="428.40" y1="116.40" x2="431.40" y2="116.40" stroke="#222" stroke-width="0.9"/>
<text x="425.90" y="118.80" font-size="6.8" fill="#2b2b2b" text-anchor="end" textLength="8.568000000000001" lengthAdjust="spacingAndGlyphs" stroke="#2b2b2b" stroke-width="0.14">0.1</text>
<line x1="428.40" y1="140.40" x2="431.40" y2="140.40" stroke="#222" stroke-width="0.9"/>
<text x="425.90" y="142.80" font-size="6.8" fill="#2b2b2b" text-anchor="end" textLength="12.443999999999999" lengthAdjust="spacingAndGlyphs" stroke="#2b2b2b" stroke-width="0.14">0.01</text>
<line x1="429.80" y1="61.18" x2="431.40" y2="61.18" stroke="#222" stroke-width="0.5" stroke-opacity="0.7"/>
<line x1="429.80" y1="56.95" x2="431.40" y2="56.95" stroke="#222" stroke-width="0.5" stroke-opacity="0.7"/>
<line x1="429.80" y1="53.95" x2="431.40" y2="53.95" stroke="#222" stroke-width="0.5" stroke-opacity="0.7"/>
<line x1="429.80" y1="51.62" x2="431.40" y2="51.62" stroke="#222" stroke-width="0.5" stroke-opacity="0.7"/>
<line x1="429.80" y1="49.72" x2="431.40" y2="49.72" stroke="#222" stroke-width="0.5" stroke-opacity="0.7"/>
<line x1="429.80" y1="48.12" x2="431.40" y2="48.12" stroke="#222" stroke-width="0.5" stroke-opacity="0.7"/>
<line x1="429.80" y1="46.73" x2="431.40" y2="46.73" stroke="#222" stroke-width="0.5" stroke-opacity="0.7"/>
<line x1="429.80" y1="45.50" x2="431.40" y2="45.50" stroke="#222" stroke-width="0.5" stroke-opacity="0.7"/>
<line x1="429.80" y1="85.18" x2="431.40" y2="85.18" stroke="#222" stroke-width="0.5" stroke-opacity="0.7"/>
<line x1="429.80" y1="80.95" x2="431.40" y2="80.95" stroke="#222" stroke-width="0.5" stroke-opacity="0.7"/>
<line x1="429.80" y1="77.95" x2="431.40" y2="77.95" stroke="#222" stroke-width="0.5" stroke-opacity="0.7"/>
<line x1="429.80" y1="75.62" x2="431.40" y2="75.62" stroke="#222" stroke-width="0.5" stroke-opacity="0.7"/>
<line x1="429.80" y1="73.72" x2="431.40" y2="73.72" stroke="#222" stroke-width="0.5" stroke-opacity="0.7"/>
<line x1="429.80" y1="72.12" x2="431.40" y2="72.12" stroke="#222" stroke-width="0.5" stroke-opacity="0.7"/>
<line x1="429.80" y1="70.73" x2="431.40" y2="70.73" stroke="#222" stroke-width="0.5" stroke-opacity="0.7"/>
<line x1="429.80" y1="69.50" x2="431.40" y2="69.50" stroke="#222" stroke-width="0.5" stroke-opacity="0.7"/>
<line x1="429.80" y1="109.18" x2="431.40" y2="109.18" stroke="#222" stroke-width="0.5" stroke-opacity="0.7"/>
<line x1="429.80" y1="104.95" x2="431.40" y2="104.95" stroke="#222" stroke-width="0.5" stroke-opacity="0.7"/>
<line x1="429.80" y1="101.95" x2="431.40" y2="101.95" stroke="#222" stroke-width="0.5" stroke-opacity="0.7"/>
<line x1="429.80" y1="99.62" x2="431.40" y2="99.62" stroke="#222" stroke-width="0.5" stroke-opacity="0.7"/>
<line x1="429.80" y1="97.72" x2="431.40" y2="97.72" stroke="#222" stroke-width="0.5" stroke-opacity="0.7"/>
<line x1="429.80" y1="96.12" x2="431.40" y2="96.12" stroke="#222" stroke-width="0.5" stroke-opacity="0.7"/>
<line x1="429.80" y1="94.73" x2="431.40" y2="94.73" stroke="#222" stroke-width="0.5" stroke-opacity="0.7"/>
<line x1="429.80" y1="93.50" x2="431.40" y2="93.50" stroke="#222" stroke-width="0.5" stroke-opacity="0.7"/>
<line x1="429.80" y1="133.18" x2="431.40" y2="133.18" stroke="#222" stroke-width="0.5" stroke-opacity="0.7"/>
<line x1="429.80" y1="128.95" x2="431.40" y2="128.95" stroke="#222" stroke-width="0.5" stroke-opacity="0.7"/>
<line x1="429.80" y1="125.95" x2="431.40" y2="125.95" stroke="#222" stroke-width="0.5" stroke-opacity="0.7"/>
<line x1="429.80" y1="123.62" x2="431.40" y2="123.62" stroke="#222" stroke-width="0.5" stroke-opacity="0.7"/>
<line x1="429.80" y1="121.72" x2="431.40" y2="121.72" stroke="#222" stroke-width="0.5" stroke-opacity="0.7"/>
<line x1="429.80" y1="120.12" x2="431.40" y2="120.12" stroke="#222" stroke-width="0.5" stroke-opacity="0.7"/>
<line x1="429.80" y1="118.73" x2="431.40" y2="118.73" stroke="#222" stroke-width="0.5" stroke-opacity="0.7"/>
<line x1="429.80" y1="117.50" x2="431.40" y2="117.50" stroke="#222" stroke-width="0.5" stroke-opacity="0.7"/>
<text x="410.20" y="86.80" font-size="7.4" fill="#2b2b2b" text-anchor="middle" textLength="23" lengthAdjust="spacingAndGlyphs" transform="rotate(-90 410.20 86.80)" stroke="#2b2b2b" stroke-width="0.25">VAF (%)</text>
<text x="450.80" y="147.70" font-size="7.0" fill="#2b2b2b" text-anchor="end" textLength="16.3" lengthAdjust="spacingAndGlyphs" transform="rotate(-90 450.80 147.70)" stroke="#2b2b2b" stroke-width="0.14">MNC</text>
<text x="476.00" y="147.70" font-size="7.0" fill="#2b2b2b" text-anchor="end" textLength="21" lengthAdjust="spacingAndGlyphs" transform="rotate(-90 476.00 147.70)" stroke="#2b2b2b" stroke-width="0.14">CD34+</text>
<text x="500.10" y="147.70" font-size="7.0" fill="#2b2b2b" text-anchor="end" textLength="17.2" lengthAdjust="spacingAndGlyphs" transform="rotate(-90 500.10 147.70)" stroke="#2b2b2b" stroke-width="0.14">HSPC</text>
<text x="471.90" y="28.80" font-size="6.5" fill="#2b2b2b" text-anchor="middle" textLength="31.4" lengthAdjust="spacingAndGlyphs" stroke="#2b2b2b" stroke-width="0.14"><tspan font-style="italic">P</tspan> = .00195</text>
<line x1="449.40" y1="31.00" x2="494.80" y2="31.00" stroke="#8a8a8a" stroke-width="1.2"/>
<text x="459.30" y="41.10" font-size="6.5" fill="#2b2b2b" text-anchor="middle" textLength="27.7" lengthAdjust="spacingAndGlyphs" stroke="#2b2b2b" stroke-width="0.14"><tspan font-style="italic">P</tspan> = .0195</text>
<text x="491.20" y="41.10" font-size="6.5" fill="#2b2b2b" text-anchor="middle" textLength="31.7" lengthAdjust="spacingAndGlyphs" stroke="#2b2b2b" stroke-width="0.14"><tspan font-style="italic">P</tspan> = .00195</text>
<line x1="449.40" y1="43.30" x2="468.90" y2="43.30" stroke="#8a8a8a" stroke-width="1.2"/>
<line x1="474.90" y1="43.30" x2="493.10" y2="43.30" stroke="#8a8a8a" stroke-width="1.2"/>
<line x1="447.60" y1="69.80" x2="472.80" y2="62.80" stroke="#c6c6c6" stroke-width="0.8" stroke-dasharray="2 1.5"/>
<line x1="472.80" y1="62.80" x2="498.00" y2="45.00" stroke="#c6c6c6" stroke-width="0.8" stroke-dasharray="2 1.5"/>
<line x1="447.60" y1="81.40" x2="472.80" y2="66.90" stroke="#c6c6c6" stroke-width="0.8" stroke-dasharray="2 1.5"/>
<line x1="472.80" y1="66.90" x2="498.00" y2="46.90" stroke="#c6c6c6" stroke-width="0.8" stroke-dasharray="2 1.5"/>
<line x1="447.60" y1="82.20" x2="472.80" y2="84.80" stroke="#c6c6c6" stroke-width="0.8" stroke-dasharray="2 1.5"/>
<line x1="472.80" y1="84.80" x2="498.00" y2="49.40" stroke="#c6c6c6" stroke-width="0.8" stroke-dasharray="2 1.5"/>
<line x1="447.60" y1="82.90" x2="472.80" y2="85.50" stroke="#c6c6c6" stroke-width="0.8" stroke-dasharray="2 1.5"/>
<line x1="472.80" y1="85.50" x2="498.00" y2="57.60" stroke="#c6c6c6" stroke-width="0.8" stroke-dasharray="2 1.5"/>
<line x1="447.60" y1="105.60" x2="472.80" y2="87.60" stroke="#c6c6c6" stroke-width="0.8" stroke-dasharray="2 1.5"/>
<line x1="472.80" y1="87.60" x2="498.00" y2="60.80" stroke="#c6c6c6" stroke-width="0.8" stroke-dasharray="2 1.5"/>
<line x1="447.60" y1="106.40" x2="472.80" y2="89.80" stroke="#c6c6c6" stroke-width="0.8" stroke-dasharray="2 1.5"/>
<line x1="472.80" y1="89.80" x2="498.00" y2="67.90" stroke="#c6c6c6" stroke-width="0.8" stroke-dasharray="2 1.5"/>
<line x1="447.60" y1="118.80" x2="472.80" y2="101.90" stroke="#c6c6c6" stroke-width="0.8" stroke-dasharray="2 1.5"/>
<line x1="472.80" y1="101.90" x2="498.00" y2="70.20" stroke="#c6c6c6" stroke-width="0.8" stroke-dasharray="2 1.5"/>
<line x1="447.60" y1="124.60" x2="472.80" y2="108.60" stroke="#c6c6c6" stroke-width="0.8" stroke-dasharray="2 1.5"/>
<line x1="472.80" y1="108.60" x2="498.00" y2="72.70" stroke="#c6c6c6" stroke-width="0.8" stroke-dasharray="2 1.5"/>
<line x1="447.60" y1="127.20" x2="472.80" y2="115.00" stroke="#c6c6c6" stroke-width="0.8" stroke-dasharray="2 1.5"/>
<line x1="472.80" y1="115.00" x2="498.00" y2="75.00" stroke="#c6c6c6" stroke-width="0.8" stroke-dasharray="2 1.5"/>
<line x1="447.60" y1="133.20" x2="472.80" y2="115.50" stroke="#c6c6c6" stroke-width="0.8" stroke-dasharray="2 1.5"/>
<line x1="472.80" y1="115.50" x2="498.00" y2="80.00" stroke="#c6c6c6" stroke-width="0.8" stroke-dasharray="2 1.5"/>
<circle cx="447.60" cy="69.80" r="1.7" fill="none" stroke="#47698f" stroke-width="0.85"/>
<circle cx="447.60" cy="81.40" r="1.7" fill="none" stroke="#47698f" stroke-width="0.85"/>
<circle cx="447.60" cy="82.90" r="1.7" fill="none" stroke="#47698f" stroke-width="0.85"/>
<circle cx="447.60" cy="82.20" r="1.7" fill="none" stroke="#47698f" stroke-width="0.85"/>
<circle cx="447.60" cy="106.40" r="1.7" fill="none" stroke="#47698f" stroke-width="0.85"/>
<circle cx="447.60" cy="105.60" r="1.7" fill="none" stroke="#47698f" stroke-width="0.85"/>
<circle cx="447.60" cy="118.80" r="1.7" fill="none" stroke="#47698f" stroke-width="0.85"/>
<circle cx="447.60" cy="124.60" r="1.7" fill="none" stroke="#47698f" stroke-width="0.85"/>
<circle cx="447.60" cy="127.20" r="1.7" fill="none" stroke="#47698f" stroke-width="0.85"/>
<circle cx="447.60" cy="133.20" r="1.7" fill="none" stroke="#47698f" stroke-width="0.85"/>
<circle cx="472.80" cy="62.80" r="1.7" fill="none" stroke="#47698f" stroke-width="0.85"/>
<circle cx="472.80" cy="66.90" r="1.7" fill="none" stroke="#47698f" stroke-width="0.85"/>
<circle cx="472.80" cy="84.80" r="1.7" fill="none" stroke="#47698f" stroke-width="0.85"/>
<circle cx="472.80" cy="87.60" r="1.7" fill="none" stroke="#47698f" stroke-width="0.85"/>
<circle cx="472.80" cy="89.80" r="1.7" fill="none" stroke="#47698f" stroke-width="0.85"/>
<circle cx="472.80" cy="101.90" r="1.7" fill="none" stroke="#47698f" stroke-width="0.85"/>
<circle cx="472.80" cy="108.60" r="1.7" fill="none" stroke="#47698f" stroke-width="0.85"/>
<circle cx="472.80" cy="115.50" r="1.7" fill="none" stroke="#47698f" stroke-width="0.85"/>
<circle cx="472.80" cy="115.00" r="1.7" fill="none" stroke="#47698f" stroke-width="0.85"/>
<circle cx="472.80" cy="85.50" r="1.7" fill="none" stroke="#47698f" stroke-width="0.85"/>
<circle cx="498.00" cy="45.00" r="1.7" fill="none" stroke="#47698f" stroke-width="0.85"/>
<circle cx="498.00" cy="46.90" r="1.7" fill="none" stroke="#47698f" stroke-width="0.85"/>
<circle cx="498.00" cy="49.40" r="1.7" fill="none" stroke="#47698f" stroke-width="0.85"/>
<circle cx="498.00" cy="57.60" r="1.7" fill="none" stroke="#47698f" stroke-width="0.85"/>
<circle cx="498.00" cy="60.80" r="1.7" fill="none" stroke="#47698f" stroke-width="0.85"/>
<circle cx="498.00" cy="67.90" r="1.7" fill="none" stroke="#47698f" stroke-width="0.85"/>
<circle cx="498.00" cy="70.20" r="1.7" fill="none" stroke="#47698f" stroke-width="0.85"/>
<circle cx="498.00" cy="72.70" r="1.7" fill="none" stroke="#47698f" stroke-width="0.85"/>
<circle cx="498.00" cy="75.00" r="1.7" fill="none" stroke="#47698f" stroke-width="0.85"/>
<circle cx="498.00" cy="80.00" r="1.7" fill="none" stroke="#47698f" stroke-width="0.85"/>
<circle cx="447.60" cy="82.00" r="1.7" fill="#1b3d63" stroke="#2a4a70" stroke-width="0.6"/>
<line x1="442.60" y1="86.60" x2="452.60" y2="86.60" stroke="#333" stroke-width="0.8"/>
<line x1="447.60" y1="82.00" x2="447.60" y2="93.70" stroke="#333" stroke-width="0.7"/>
<line x1="445.30" y1="93.70" x2="449.90" y2="93.70" stroke="#333" stroke-width="0.8"/>
<circle cx="472.80" cy="84.80" r="1.7" fill="#2d4d75" stroke="#47698f" stroke-width="0.6"/>
<line x1="467.80" y1="78.30" x2="477.80" y2="78.30" stroke="#333" stroke-width="0.8"/>
<line x1="472.80" y1="74.50" x2="472.80" y2="84.00" stroke="#333" stroke-width="0.7"/>
<line x1="470.50" y1="74.50" x2="475.10" y2="74.50" stroke="#333" stroke-width="0.8"/>
<line x1="493.00" y1="55.10" x2="503.00" y2="55.10" stroke="#333" stroke-width="0.8"/>
<line x1="498.00" y1="52.60" x2="498.00" y2="58.20" stroke="#333" stroke-width="0.7"/>
<line x1="495.70" y1="52.60" x2="500.30" y2="52.60" stroke="#333" stroke-width="0.8"/>
<line x1="495.70" y1="58.20" x2="500.30" y2="58.20" stroke="#333" stroke-width="0.8"/>
<line x1="431.50" y1="209.50" x2="431.50" y2="321.90" stroke="#222" stroke-width="1.3"/>
<line x1="431.50" y1="321.30" x2="513.70" y2="321.30" stroke="#222" stroke-width="1.3"/>
<line x1="428.50" y1="211.30" x2="431.50" y2="211.30" stroke="#222" stroke-width="0.9"/>
<text x="426.00" y="213.70" font-size="6.8" fill="#2b2b2b" text-anchor="end" textLength="13.26" lengthAdjust="spacingAndGlyphs" stroke="#2b2b2b" stroke-width="0.14">1000</text>
<line x1="428.50" y1="245.50" x2="431.50" y2="245.50" stroke="#222" stroke-width="0.9"/>
<text x="426.00" y="247.90" font-size="6.8" fill="#2b2b2b" text-anchor="end" textLength="9.894" lengthAdjust="spacingAndGlyphs" stroke="#2b2b2b" stroke-width="0.14">100</text>
<line x1="428.50" y1="279.70" x2="431.50" y2="279.70" stroke="#222" stroke-width="0.9"/>
<text x="426.00" y="282.10" font-size="6.8" fill="#2b2b2b" text-anchor="end" textLength="6.63" lengthAdjust="spacingAndGlyphs" stroke="#2b2b2b" stroke-width="0.14">10</text>
<line x1="428.50" y1="313.90" x2="431.50" y2="313.90" stroke="#222" stroke-width="0.9"/>
<text x="426.00" y="316.30" font-size="6.8" fill="#2b2b2b" text-anchor="end" textLength="3.2640000000000002" lengthAdjust="spacingAndGlyphs" stroke="#2b2b2b" stroke-width="0.14">1</text>
<line x1="429.90" y1="235.20" x2="431.50" y2="235.20" stroke="#222" stroke-width="0.5" stroke-opacity="0.7"/>
<line x1="429.90" y1="229.18" x2="431.50" y2="229.18" stroke="#222" stroke-width="0.5" stroke-opacity="0.7"/>
<line x1="429.90" y1="224.91" x2="431.50" y2="224.91" stroke="#222" stroke-width="0.5" stroke-opacity="0.7"/>
<line x1="429.90" y1="221.60" x2="431.50" y2="221.60" stroke="#222" stroke-width="0.5" stroke-opacity="0.7"/>
<line x1="429.90" y1="218.89" x2="431.50" y2="218.89" stroke="#222" stroke-width="0.5" stroke-opacity="0.7"/>
<line x1="429.90" y1="216.60" x2="431.50" y2="216.60" stroke="#222" stroke-width="0.5" stroke-opacity="0.7"/>
<line x1="429.90" y1="214.61" x2="431.50" y2="214.61" stroke="#222" stroke-width="0.5" stroke-opacity="0.7"/>
<line x1="429.90" y1="212.86" x2="431.50" y2="212.86" stroke="#222" stroke-width="0.5" stroke-opacity="0.7"/>
<line x1="429.90" y1="269.40" x2="431.50" y2="269.40" stroke="#222" stroke-width="0.5" stroke-opacity="0.7"/>
<line x1="429.90" y1="263.38" x2="431.50" y2="263.38" stroke="#222" stroke-width="0.5" stroke-opacity="0.7"/>
<line x1="429.90" y1="259.11" x2="431.50" y2="259.11" stroke="#222" stroke-width="0.5" stroke-opacity="0.7"/>
<line x1="429.90" y1="255.80" x2="431.50" y2="255.80" stroke="#222" stroke-width="0.5" stroke-opacity="0.7"/>
<line x1="429.90" y1="253.09" x2="431.50" y2="253.09" stroke="#222" stroke-width="0.5" stroke-opacity="0.7"/>
<line x1="429.90" y1="250.80" x2="431.50" y2="250.80" stroke="#222" stroke-width="0.5" stroke-opacity="0.7"/>
<line x1="429.90" y1="248.81" x2="431.50" y2="248.81" stroke="#222" stroke-width="0.5" stroke-opacity="0.7"/>
<line x1="429.90" y1="247.06" x2="431.50" y2="247.06" stroke="#222" stroke-width="0.5" stroke-opacity="0.7"/>
<line x1="429.90" y1="303.60" x2="431.50" y2="303.60" stroke="#222" stroke-width="0.5" stroke-opacity="0.7"/>
<line x1="429.90" y1="297.58" x2="431.50" y2="297.58" stroke="#222" stroke-width="0.5" stroke-opacity="0.7"/>
<line x1="429.90" y1="293.31" x2="431.50" y2="293.31" stroke="#222" stroke-width="0.5" stroke-opacity="0.7"/>
<line x1="429.90" y1="290.00" x2="431.50" y2="290.00" stroke="#222" stroke-width="0.5" stroke-opacity="0.7"/>
<line x1="429.90" y1="287.29" x2="431.50" y2="287.29" stroke="#222" stroke-width="0.5" stroke-opacity="0.7"/>
<line x1="429.90" y1="285.00" x2="431.50" y2="285.00" stroke="#222" stroke-width="0.5" stroke-opacity="0.7"/>
<line x1="429.90" y1="283.01" x2="431.50" y2="283.01" stroke="#222" stroke-width="0.5" stroke-opacity="0.7"/>
<line x1="429.90" y1="281.26" x2="431.50" y2="281.26" stroke="#222" stroke-width="0.5" stroke-opacity="0.7"/>
<text x="407.80" y="265.50" font-size="7.2" fill="#2b2b2b" text-anchor="middle" textLength="99.5" lengthAdjust="spacingAndGlyphs" transform="rotate(-90 407.80 265.50)" stroke="#2b2b2b" stroke-width="0.2">VAF fold increase relative to MNC</text>
<text x="450.80" y="324.70" font-size="7.0" fill="#2b2b2b" text-anchor="end" textLength="15.6" lengthAdjust="spacingAndGlyphs" transform="rotate(-90 450.80 324.70)" stroke="#2b2b2b" stroke-width="0.14">MNC</text>
<text x="475.80" y="324.70" font-size="7.0" fill="#2b2b2b" text-anchor="end" textLength="21.1" lengthAdjust="spacingAndGlyphs" transform="rotate(-90 475.80 324.70)" stroke="#2b2b2b" stroke-width="0.14">CD34+</text>
<text x="500.30" y="324.70" font-size="7.0" fill="#2b2b2b" text-anchor="end" textLength="17.1" lengthAdjust="spacingAndGlyphs" transform="rotate(-90 500.30 324.70)" stroke="#2b2b2b" stroke-width="0.14">HSPC</text>
<text x="473.10" y="211.60" font-size="6.5" fill="#2b2b2b" text-anchor="middle" textLength="31.2" lengthAdjust="spacingAndGlyphs" stroke="#2b2b2b" stroke-width="0.14"><tspan font-style="italic">P</tspan> = .00195</text>
<line x1="450.00" y1="213.90" x2="495.50" y2="213.90" stroke="#8a8a8a" stroke-width="1.2"/>
<text x="458.30" y="223.40" font-size="6.5" fill="#2b2b2b" text-anchor="middle" textLength="27.5" lengthAdjust="spacingAndGlyphs" stroke="#2b2b2b" stroke-width="0.14"><tspan font-style="italic">P</tspan> = .0215</text>
<text x="491.90" y="223.40" font-size="6.5" fill="#2b2b2b" text-anchor="middle" textLength="31.2" lengthAdjust="spacingAndGlyphs" stroke="#2b2b2b" stroke-width="0.14"><tspan font-style="italic">P</tspan> = .00195</text>
<line x1="450.00" y1="226.30" x2="470.50" y2="226.30" stroke="#8a8a8a" stroke-width="1.2"/>
<line x1="476.30" y1="226.30" x2="495.50" y2="226.30" stroke="#8a8a8a" stroke-width="1.2"/>
<line x1="449.00" y1="313.90" x2="473.40" y2="284.00" stroke="#c6c6c6" stroke-width="0.8" stroke-dasharray="2 1.5"/>
<line x1="473.40" y1="284.00" x2="498.00" y2="230.20" stroke="#c6c6c6" stroke-width="0.8" stroke-dasharray="2 1.5"/>
<line x1="449.00" y1="313.90" x2="473.40" y2="286.10" stroke="#c6c6c6" stroke-width="0.8" stroke-dasharray="2 1.5"/>
<line x1="473.40" y1="286.10" x2="498.00" y2="244.30" stroke="#c6c6c6" stroke-width="0.8" stroke-dasharray="2 1.5"/>
<line x1="449.00" y1="313.90" x2="473.40" y2="288.20" stroke="#c6c6c6" stroke-width="0.8" stroke-dasharray="2 1.5"/>
<line x1="473.40" y1="288.20" x2="498.00" y2="246.70" stroke="#c6c6c6" stroke-width="0.8" stroke-dasharray="2 1.5"/>
<line x1="449.00" y1="313.90" x2="473.40" y2="290.30" stroke="#c6c6c6" stroke-width="0.8" stroke-dasharray="2 1.5"/>
<line x1="473.40" y1="290.30" x2="498.00" y2="249.00" stroke="#c6c6c6" stroke-width="0.8" stroke-dasharray="2 1.5"/>
<line x1="449.00" y1="313.90" x2="473.40" y2="307.70" stroke="#c6c6c6" stroke-width="0.8" stroke-dasharray="2 1.5"/>
<line x1="473.40" y1="307.70" x2="498.00" y2="260.10" stroke="#c6c6c6" stroke-width="0.8" stroke-dasharray="2 1.5"/>
<line x1="449.00" y1="313.90" x2="473.40" y2="308.60" stroke="#c6c6c6" stroke-width="0.8" stroke-dasharray="2 1.5"/>
<line x1="473.40" y1="308.60" x2="498.00" y2="263.10" stroke="#c6c6c6" stroke-width="0.8" stroke-dasharray="2 1.5"/>
<line x1="449.00" y1="313.90" x2="473.40" y2="309.90" stroke="#c6c6c6" stroke-width="0.8" stroke-dasharray="2 1.5"/>
<line x1="473.40" y1="309.90" x2="498.00" y2="267.10" stroke="#c6c6c6" stroke-width="0.8" stroke-dasharray="2 1.5"/>
<line x1="449.00" y1="313.90" x2="473.40" y2="311.20" stroke="#c6c6c6" stroke-width="0.8" stroke-dasharray="2 1.5"/>
<line x1="473.40" y1="311.20" x2="498.00" y2="272.40" stroke="#c6c6c6" stroke-width="0.8" stroke-dasharray="2 1.5"/>
<line x1="449.00" y1="313.90" x2="473.40" y2="312.40" stroke="#c6c6c6" stroke-width="0.8" stroke-dasharray="2 1.5"/>
<line x1="473.40" y1="312.40" x2="498.00" y2="275.90" stroke="#c6c6c6" stroke-width="0.8" stroke-dasharray="2 1.5"/>
<line x1="449.00" y1="313.90" x2="473.40" y2="319.60" stroke="#c6c6c6" stroke-width="0.8" stroke-dasharray="2 1.5"/>
<line x1="473.40" y1="319.60" x2="498.00" y2="280.10" stroke="#c6c6c6" stroke-width="0.8" stroke-dasharray="2 1.5"/>
<rect x="443.2" y="311.9" width="10.4" height="4" rx="2" fill="#1f426b" stroke="#1a3658" stroke-width="0.6"/>
<circle cx="445.30" cy="313.90" r="1.0" fill="#4f78a5" stroke="none" stroke-width="0.8"/>
<circle cx="448.30" cy="313.90" r="1.0" fill="#4f78a5" stroke="none" stroke-width="0.8"/>
<circle cx="451.40" cy="313.90" r="1.0" fill="#4f78a5" stroke="none" stroke-width="0.8"/>
<circle cx="473.40" cy="284.00" r="1.7" fill="none" stroke="#47698f" stroke-width="0.85"/>
<circle cx="473.40" cy="286.10" r="1.7" fill="none" stroke="#47698f" stroke-width="0.85"/>
<circle cx="473.40" cy="288.20" r="1.7" fill="none" stroke="#47698f" stroke-width="0.85"/>
<circle cx="473.40" cy="290.30" r="1.7" fill="none" stroke="#47698f" stroke-width="0.85"/>
<circle cx="473.40" cy="307.70" r="1.7" fill="none" stroke="#47698f" stroke-width="0.85"/>
<circle cx="473.40" cy="309.90" r="1.7" fill="none" stroke="#47698f" stroke-width="0.85"/>
<circle cx="473.40" cy="312.40" r="1.7" fill="none" stroke="#47698f" stroke-width="0.85"/>
<circle cx="473.40" cy="319.60" r="1.7" fill="none" stroke="#47698f" stroke-width="0.85"/>
<circle cx="473.40" cy="311.20" r="1.7" fill="none" stroke="#47698f" stroke-width="0.85"/>
<circle cx="473.40" cy="308.60" r="1.7" fill="none" stroke="#47698f" stroke-width="0.85"/>
<circle cx="498.00" cy="230.20" r="1.7" fill="none" stroke="#47698f" stroke-width="0.85"/>
<circle cx="498.00" cy="244.30" r="1.7" fill="none" stroke="#47698f" stroke-width="0.85"/>
<circle cx="498.00" cy="246.70" r="1.7" fill="none" stroke="#47698f" stroke-width="0.85"/>
<circle cx="498.00" cy="249.00" r="1.7" fill="none" stroke="#47698f" stroke-width="0.85"/>
<circle cx="498.00" cy="260.10" r="1.7" fill="none" stroke="#47698f" stroke-width="0.85"/>
<circle cx="498.00" cy="263.10" r="1.7" fill="none" stroke="#47698f" stroke-width="0.85"/>
<circle cx="498.00" cy="267.10" r="1.7" fill="none" stroke="#47698f" stroke-width="0.85"/>
<circle cx="498.00" cy="272.40" r="1.7" fill="none" stroke="#47698f" stroke-width="0.85"/>
<circle cx="498.00" cy="275.90" r="1.7" fill="none" stroke="#47698f" stroke-width="0.85"/>
<circle cx="498.00" cy="280.10" r="1.7" fill="none" stroke="#47698f" stroke-width="0.85"/>
<line x1="468.40" y1="296.00" x2="478.40" y2="296.00" stroke="#333" stroke-width="0.8"/>
<line x1="473.40" y1="292.10" x2="473.40" y2="299.70" stroke="#333" stroke-width="0.7"/>
<line x1="471.10" y1="292.10" x2="475.70" y2="292.10" stroke="#333" stroke-width="0.8"/>
<line x1="471.10" y1="299.70" x2="475.70" y2="299.70" stroke="#333" stroke-width="0.8"/>
<line x1="493.00" y1="251.60" x2="503.00" y2="251.60" stroke="#333" stroke-width="0.8"/>
<line x1="498.00" y1="248.00" x2="498.00" y2="256.00" stroke="#333" stroke-width="0.7"/>
<line x1="495.70" y1="248.00" x2="500.30" y2="248.00" stroke="#333" stroke-width="0.8"/>
<line x1="495.70" y1="256.00" x2="500.30" y2="256.00" stroke="#333" stroke-width="0.8"/>
</svg>
</body></html>
